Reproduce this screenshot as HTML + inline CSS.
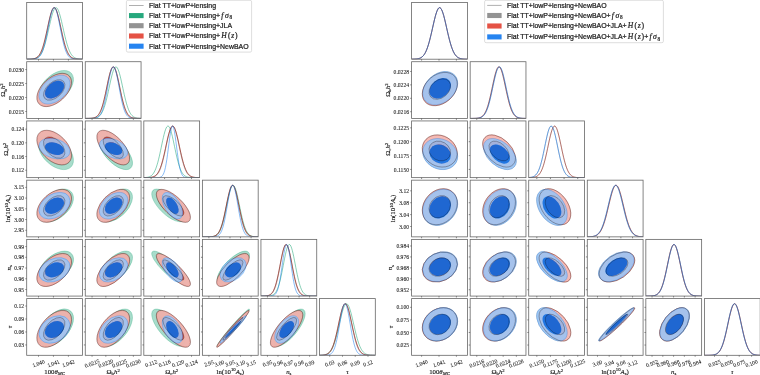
<!DOCTYPE html>
<html><head><meta charset="utf-8"><style>
html,body{margin:0;padding:0;background:#fff;width:760px;height:375px;overflow:hidden}
svg{display:block;font-family:"Liberation Serif",serif;will-change:transform}
.tl{font-size:5.6px;fill:#1a1a1a;stroke:#1a1a1a;stroke-width:0.08px}
.al{font-size:6.8px;fill:#1a1a1a;stroke:#1a1a1a;stroke-width:0.15px}
</style></head><body>
<svg width="760" height="375" viewBox="0 0 760 375">
<defs><clipPath id="c0_0_0"><rect x="26.7" y="2.5" width="55.8" height="56.7"/></clipPath>
<clipPath id="c0_1_0"><rect x="26.7" y="61.72" width="55.8" height="56.7"/></clipPath>
<clipPath id="c0_1_1"><rect x="85.26" y="61.72" width="55.8" height="56.7"/></clipPath>
<clipPath id="c0_2_0"><rect x="26.7" y="120.94" width="55.8" height="56.7"/></clipPath>
<clipPath id="c0_2_1"><rect x="85.26" y="120.94" width="55.8" height="56.7"/></clipPath>
<clipPath id="c0_2_2"><rect x="143.82" y="120.94" width="55.8" height="56.7"/></clipPath>
<clipPath id="c0_3_0"><rect x="26.7" y="180.16" width="55.8" height="56.7"/></clipPath>
<clipPath id="c0_3_1"><rect x="85.26" y="180.16" width="55.8" height="56.7"/></clipPath>
<clipPath id="c0_3_2"><rect x="143.82" y="180.16" width="55.8" height="56.7"/></clipPath>
<clipPath id="c0_3_3"><rect x="202.38" y="180.16" width="55.8" height="56.7"/></clipPath>
<clipPath id="c0_4_0"><rect x="26.7" y="239.38" width="55.8" height="56.7"/></clipPath>
<clipPath id="c0_4_1"><rect x="85.26" y="239.38" width="55.8" height="56.7"/></clipPath>
<clipPath id="c0_4_2"><rect x="143.82" y="239.38" width="55.8" height="56.7"/></clipPath>
<clipPath id="c0_4_3"><rect x="202.38" y="239.38" width="55.8" height="56.7"/></clipPath>
<clipPath id="c0_4_4"><rect x="260.94" y="239.38" width="55.8" height="56.7"/></clipPath>
<clipPath id="c0_5_0"><rect x="26.7" y="298.6" width="55.8" height="56.7"/></clipPath>
<clipPath id="c0_5_1"><rect x="85.26" y="298.6" width="55.8" height="56.7"/></clipPath>
<clipPath id="c0_5_2"><rect x="143.82" y="298.6" width="55.8" height="56.7"/></clipPath>
<clipPath id="c0_5_3"><rect x="202.38" y="298.6" width="55.8" height="56.7"/></clipPath>
<clipPath id="c0_5_4"><rect x="260.94" y="298.6" width="55.8" height="56.7"/></clipPath>
<clipPath id="c0_5_5"><rect x="319.5" y="298.6" width="55.8" height="56.7"/></clipPath>
<clipPath id="c1_0_0"><rect x="411.6" y="2.5" width="55.8" height="56.7"/></clipPath>
<clipPath id="c1_1_0"><rect x="411.6" y="61.72" width="55.8" height="56.7"/></clipPath>
<clipPath id="c1_1_1"><rect x="470.16" y="61.72" width="55.8" height="56.7"/></clipPath>
<clipPath id="c1_2_0"><rect x="411.6" y="120.94" width="55.8" height="56.7"/></clipPath>
<clipPath id="c1_2_1"><rect x="470.16" y="120.94" width="55.8" height="56.7"/></clipPath>
<clipPath id="c1_2_2"><rect x="528.72" y="120.94" width="55.8" height="56.7"/></clipPath>
<clipPath id="c1_3_0"><rect x="411.6" y="180.16" width="55.8" height="56.7"/></clipPath>
<clipPath id="c1_3_1"><rect x="470.16" y="180.16" width="55.8" height="56.7"/></clipPath>
<clipPath id="c1_3_2"><rect x="528.72" y="180.16" width="55.8" height="56.7"/></clipPath>
<clipPath id="c1_3_3"><rect x="587.28" y="180.16" width="55.8" height="56.7"/></clipPath>
<clipPath id="c1_4_0"><rect x="411.6" y="239.38" width="55.8" height="56.7"/></clipPath>
<clipPath id="c1_4_1"><rect x="470.16" y="239.38" width="55.8" height="56.7"/></clipPath>
<clipPath id="c1_4_2"><rect x="528.72" y="239.38" width="55.8" height="56.7"/></clipPath>
<clipPath id="c1_4_3"><rect x="587.28" y="239.38" width="55.8" height="56.7"/></clipPath>
<clipPath id="c1_4_4"><rect x="645.84" y="239.38" width="55.8" height="56.7"/></clipPath>
<clipPath id="c1_5_0"><rect x="411.6" y="298.6" width="55.8" height="56.7"/></clipPath>
<clipPath id="c1_5_1"><rect x="470.16" y="298.6" width="55.8" height="56.7"/></clipPath>
<clipPath id="c1_5_2"><rect x="528.72" y="298.6" width="55.8" height="56.7"/></clipPath>
<clipPath id="c1_5_3"><rect x="587.28" y="298.6" width="55.8" height="56.7"/></clipPath>
<clipPath id="c1_5_4"><rect x="645.84" y="298.6" width="55.8" height="56.7"/></clipPath>
<clipPath id="c1_5_5"><rect x="704.4" y="298.6" width="55.8" height="56.7"/></clipPath></defs>
<g clip-path="url(#c0_0_0)">
<polyline points="26.7,59.19 27.4,59.19 28.09,59.18 28.79,59.17 29.49,59.16 30.19,59.14 30.88,59.11 31.58,59.08 32.28,59.03 32.98,58.96 33.67,58.87 34.37,58.74 35.07,58.58 35.77,58.38 36.46,58.11 37.16,57.77 37.86,57.35 38.56,56.82 39.25,56.17 39.95,55.38 40.65,54.43 41.35,53.31 42.05,51.99 42.74,50.47 43.44,48.72 44.14,46.76 44.83,44.56 45.53,42.15 46.23,39.53 46.93,36.74 47.62,33.8 48.32,30.75 49.02,27.66 49.72,24.56 50.41,21.54 51.11,18.66 51.81,15.98 52.51,13.58 53.2,11.51 53.9,9.84 54.6,8.61 55.3,7.86 55.99,7.6 56.69,7.86 57.39,8.61 58.09,9.84 58.78,11.51 59.48,13.58 60.18,15.98 60.88,18.66 61.58,21.54 62.27,24.56 62.97,27.66 63.67,30.75 64.36,33.8 65.06,36.74 65.76,39.53 66.46,42.15 67.16,44.56 67.85,46.76 68.55,48.72 69.25,50.47 69.94,51.99 70.64,53.31 71.34,54.43 72.04,55.38 72.73,56.17 73.43,56.82 74.13,57.35 74.83,57.77 75.52,58.11 76.22,58.38 76.92,58.58 77.62,58.74 78.31,58.87 79.01,58.96 79.71,59.03 80.41,59.08 81.1,59.11 81.8,59.14 82.5,59.16" fill="none" stroke="#009966" stroke-width="0.8" stroke-opacity="0.6"/>
<polyline points="26.7,59.19 27.4,59.19 28.09,59.19 28.79,59.18 29.49,59.17 30.19,59.15 30.88,59.13 31.58,59.09 32.28,59.05 32.98,58.98 33.67,58.89 34.37,58.76 35.07,58.59 35.77,58.36 36.46,58.06 37.16,57.67 37.86,57.17 38.56,56.54 39.25,55.75 39.95,54.79 40.65,53.62 41.35,52.23 42.05,50.59 42.74,48.69 43.44,46.52 44.14,44.08 44.83,41.38 45.53,38.45 46.23,35.32 46.93,32.04 47.62,28.67 48.32,25.28 49.02,21.95 49.72,18.78 50.41,15.85 51.11,13.26 51.81,11.08 52.51,9.38 53.2,8.23 53.9,7.66 54.6,7.7 55.3,8.34 55.99,9.56 56.69,11.31 57.39,13.55 58.09,16.19 58.78,19.15 59.48,22.34 60.18,25.68 60.88,29.07 61.58,32.44 62.27,35.71 62.97,38.82 63.67,41.72 64.36,44.39 65.06,46.79 65.76,48.93 66.46,50.8 67.16,52.41 67.85,53.77 68.55,54.92 69.25,55.86 69.94,56.62 70.64,57.23 71.34,57.72 72.04,58.1 72.73,58.39 73.43,58.61 74.13,58.78 74.83,58.9 75.52,58.99 76.22,59.05 76.92,59.1 77.62,59.13 78.31,59.15 79.01,59.17 79.71,59.18 80.41,59.19 81.1,59.19 81.8,59.19 82.5,59.2" fill="none" stroke="#808080" stroke-width="0.8" stroke-opacity="0.5"/>
<polyline points="26.7,59.19 27.4,59.18 28.09,59.17 28.79,59.16 29.49,59.14 30.19,59.12 30.88,59.08 31.58,59.03 32.28,58.96 32.98,58.86 33.67,58.73 34.37,58.56 35.07,58.33 35.77,58.04 36.46,57.66 37.16,57.18 37.86,56.58 38.56,55.84 39.25,54.94 39.95,53.85 40.65,52.56 41.35,51.04 42.05,49.29 42.74,47.29 43.44,45.04 44.14,42.55 44.83,39.84 45.53,36.92 46.23,33.83 46.93,30.64 47.62,27.38 48.32,24.14 49.02,20.99 49.72,18 50.41,15.26 51.11,12.84 51.81,10.81 52.51,9.24 53.2,8.18 53.9,7.66 54.6,7.69 55.3,8.28 55.99,9.41 56.69,11.03 57.39,13.11 58.09,15.57 58.78,18.35 59.48,21.36 60.18,24.53 60.88,27.77 61.58,31.02 62.27,34.21 62.97,37.28 63.67,40.17 64.36,42.86 65.06,45.33 65.76,47.55 66.46,49.52 67.16,51.24 67.85,52.73 68.55,53.99 69.25,55.06 69.94,55.94 70.64,56.66 71.34,57.24 72.04,57.71 72.73,58.08 73.43,58.36 74.13,58.58 74.83,58.75 75.52,58.87 76.22,58.97 76.92,59.04 77.62,59.09 78.31,59.12 79.01,59.15 79.71,59.16 80.41,59.18 81.1,59.18 81.8,59.19 82.5,59.19" fill="none" stroke="#E03424" stroke-width="0.8" stroke-opacity="0.72"/>
<polyline points="26.7,59.19 27.4,59.18 28.09,59.17 28.79,59.16 29.49,59.14 30.19,59.12 30.88,59.08 31.58,59.03 32.28,58.96 32.98,58.86 33.67,58.73 34.37,58.56 35.07,58.33 35.77,58.04 36.46,57.66 37.16,57.18 37.86,56.58 38.56,55.84 39.25,54.94 39.95,53.85 40.65,52.56 41.35,51.04 42.05,49.29 42.74,47.29 43.44,45.04 44.14,42.55 44.83,39.84 45.53,36.92 46.23,33.83 46.93,30.64 47.62,27.38 48.32,24.14 49.02,20.99 49.72,18 50.41,15.26 51.11,12.84 51.81,10.81 52.51,9.24 53.2,8.18 53.9,7.66 54.6,7.69 55.3,8.28 55.99,9.41 56.69,11.03 57.39,13.11 58.09,15.57 58.78,18.35 59.48,21.36 60.18,24.53 60.88,27.77 61.58,31.02 62.27,34.21 62.97,37.28 63.67,40.17 64.36,42.86 65.06,45.33 65.76,47.55 66.46,49.52 67.16,51.24 67.85,52.73 68.55,53.99 69.25,55.06 69.94,55.94 70.64,56.66 71.34,57.24 72.04,57.71 72.73,58.08 73.43,58.36 74.13,58.58 74.83,58.75 75.52,58.87 76.22,58.97 76.92,59.04 77.62,59.09 78.31,59.12 79.01,59.15 79.71,59.16 80.41,59.18 81.1,59.18 81.8,59.19 82.5,59.19" fill="none" stroke="#000000" stroke-width="0.6" stroke-opacity="0.45"/>
<polyline points="26.7,59.2 27.4,59.2 28.09,59.2 28.79,59.19 29.49,59.19 30.19,59.18 30.88,59.17 31.58,59.16 32.28,59.13 32.98,59.1 33.67,59.04 34.37,58.97 35.07,58.87 35.77,58.72 36.46,58.52 37.16,58.26 37.86,57.9 38.56,57.43 39.25,56.83 39.95,56.06 40.65,55.09 41.35,53.91 42.05,52.47 42.74,50.76 43.44,48.75 44.14,46.43 44.83,43.81 45.53,40.9 46.23,37.73 46.93,34.34 47.62,30.79 48.32,27.18 49.02,23.59 49.72,20.12 50.41,16.88 51.11,13.99 51.81,11.53 52.51,9.62 53.2,8.31 53.9,7.67 54.6,7.71 55.3,8.44 55.99,9.82 56.69,11.8 57.39,14.31 58.09,17.25 58.78,20.52 59.48,24.01 60.18,27.62 60.88,31.22 61.58,34.75 62.27,38.12 62.97,41.26 63.67,44.14 64.36,46.73 65.06,49.01 65.76,50.98 66.46,52.66 67.16,54.06 67.85,55.22 68.55,56.16 69.25,56.91 69.94,57.49 70.64,57.95 71.34,58.29 72.04,58.55 72.73,58.74 73.43,58.88 74.13,58.98 74.83,59.05 75.52,59.1 76.22,59.13 76.92,59.16 77.62,59.17 78.31,59.18 79.01,59.19 79.71,59.19 80.41,59.2 81.1,59.2 81.8,59.2 82.5,59.2" fill="none" stroke="#006FED" stroke-width="0.8" stroke-opacity="0.6"/>
</g>
<rect x="26.7" y="2.5" width="55.8" height="56.7" fill="none" stroke="#666" stroke-width="0.8"/>
<line x1="38.5" y1="59.2" x2="38.5" y2="60.6" stroke="#555" stroke-width="0.7"/>
<line x1="53.45" y1="59.2" x2="53.45" y2="60.6" stroke="#555" stroke-width="0.7"/>
<line x1="68.4" y1="59.2" x2="68.4" y2="60.6" stroke="#555" stroke-width="0.7"/>
<g clip-path="url(#c0_1_0)">
<path d="M35.2 87.23a20.79 12.46 0 1 0 41.58 0a20.79 12.46 0 1 0 -41.58 0ZM43.52 87.23a12.47 7.34 0 1 0 24.95 0a12.47 7.34 0 1 0 -24.95 0Z" fill-rule="evenodd" transform="rotate(137.45 55.99 87.23)" fill="#99d6c2" fill-opacity="0.85"/>
<ellipse cx="55.99" cy="87.23" rx="12.82" ry="7.69" transform="rotate(137.45 55.99 87.23)" fill="#009966" fill-opacity="0.85"/>
<ellipse cx="55.99" cy="87.23" rx="20.79" ry="12.46" transform="rotate(137.45 55.99 87.23)" fill="none" stroke="#009966" stroke-width="0.4" stroke-opacity="0.6"/>
<path d="M34.57 89.96a19.64 11.77 0 1 0 39.28 0a19.64 11.77 0 1 0 -39.28 0ZM42.45 89.96a11.76 6.91 0 1 0 23.53 0a11.76 6.91 0 1 0 -23.53 0Z" fill-rule="evenodd" transform="rotate(137.5 54.21 89.96)" fill="#cccccc" fill-opacity="0.85"/>
<ellipse cx="54.21" cy="89.96" rx="12.11" ry="7.26" transform="rotate(137.5 54.21 89.96)" fill="#808080" fill-opacity="0.85"/>
<ellipse cx="54.21" cy="89.96" rx="19.64" ry="11.77" transform="rotate(137.5 54.21 89.96)" fill="none" stroke="#808080" stroke-width="0.4" stroke-opacity="0.6"/>
<path d="M33.75 89.96a20.46 12.26 0 1 0 40.92 0a20.46 12.26 0 1 0 -40.92 0ZM41.94 89.96a12.27 7.21 0 1 0 24.54 0a12.27 7.21 0 1 0 -24.54 0Z" fill-rule="evenodd" transform="rotate(137.5 54.21 89.96)" fill="#f3aea7" fill-opacity="0.85"/>
<ellipse cx="54.21" cy="89.96" rx="12.62" ry="7.56" transform="rotate(137.5 54.21 89.96)" fill="#E03424" fill-opacity="0.85"/>
<ellipse cx="54.21" cy="89.96" rx="20.46" ry="12.26" transform="rotate(137.5 54.21 89.96)" fill="none" stroke="#E03424" stroke-width="0.4" stroke-opacity="0.6"/>
<path d="M36.56 89.62a17.92 11.38 0 1 0 35.85 0a17.92 11.38 0 1 0 -35.85 0ZM43.78 89.62a10.71 6.67 0 1 0 21.41 0a10.71 6.67 0 1 0 -21.41 0Z" fill-rule="evenodd" transform="rotate(140.12 54.49 89.62)" fill="#99c5f8" fill-opacity="0.85"/>
<ellipse cx="54.49" cy="89.62" rx="11.06" ry="7.02" transform="rotate(140.12 54.49 89.62)" fill="#006FED" fill-opacity="0.85"/>
<ellipse cx="54.49" cy="89.62" rx="17.92" ry="11.38" transform="rotate(140.12 54.49 89.62)" fill="none" stroke="#006FED" stroke-width="0.4" stroke-opacity="0.6"/>
<ellipse cx="54.21" cy="89.96" rx="20.66" ry="12.38" transform="rotate(137.5 54.21 89.96)" fill="none" stroke="#000000" stroke-width="0.45" stroke-opacity="0.6"/>
<ellipse cx="54.21" cy="89.96" rx="12.74" ry="7.64" transform="rotate(137.5 54.21 89.96)" fill="none" stroke="#000000" stroke-width="0.45" stroke-opacity="0.6"/>
</g>
<rect x="26.7" y="61.72" width="55.8" height="56.7" fill="none" stroke="#666" stroke-width="0.8"/>
<line x1="38.5" y1="118.42" x2="38.5" y2="119.82" stroke="#555" stroke-width="0.7"/>
<line x1="53.45" y1="118.42" x2="53.45" y2="119.82" stroke="#555" stroke-width="0.7"/>
<line x1="68.4" y1="118.42" x2="68.4" y2="119.82" stroke="#555" stroke-width="0.7"/>
<line x1="25.3" y1="111.51" x2="26.7" y2="111.51" stroke="#555" stroke-width="0.7"/>
<line x1="25.3" y1="97.52" x2="26.7" y2="97.52" stroke="#555" stroke-width="0.7"/>
<line x1="25.3" y1="83.53" x2="26.7" y2="83.53" stroke="#555" stroke-width="0.7"/>
<line x1="25.3" y1="69.54" x2="26.7" y2="69.54" stroke="#555" stroke-width="0.7"/>
<text class="tl" x="24.1" y="113.61" text-anchor="end">0.0215</text>
<text class="tl" x="24.1" y="99.62" text-anchor="end">0.0220</text>
<text class="tl" x="24.1" y="85.63" text-anchor="end">0.0225</text>
<text class="tl" x="24.1" y="71.64" text-anchor="end">0.0230</text>
<g clip-path="url(#c0_1_1)">
<polyline points="85.26,118.42 85.96,118.42 86.66,118.42 87.35,118.41 88.05,118.41 88.75,118.41 89.45,118.4 90.14,118.39 90.84,118.37 91.54,118.35 92.23,118.32 92.93,118.28 93.63,118.22 94.33,118.14 95.03,118.03 95.72,117.88 96.42,117.69 97.12,117.43 97.81,117.1 98.51,116.68 99.21,116.15 99.91,115.49 100.61,114.69 101.3,113.7 102,112.53 102.7,111.14 103.4,109.52 104.09,107.66 104.79,105.55 105.49,103.2 106.19,100.6 106.88,97.79 107.58,94.8 108.28,91.66 108.98,88.43 109.67,85.17 110.37,81.96 111.07,78.87 111.77,75.98 112.46,73.37 113.16,71.11 113.86,69.28 114.56,67.93 115.25,67.1 115.95,66.82 116.65,67.1 117.34,67.93 118.04,69.28 118.74,71.11 119.44,73.37 120.14,75.98 120.83,78.87 121.53,81.96 122.23,85.17 122.93,88.43 123.62,91.66 124.32,94.8 125.02,97.79 125.72,100.6 126.41,103.2 127.11,105.55 127.81,107.66 128.5,109.52 129.2,111.14 129.9,112.53 130.6,113.7 131.3,114.69 131.99,115.49 132.69,116.15 133.39,116.68 134.09,117.1 134.78,117.43 135.48,117.69 136.18,117.88 136.88,118.03 137.57,118.14 138.27,118.22 138.97,118.28 139.66,118.32 140.36,118.35 141.06,118.37" fill="none" stroke="#009966" stroke-width="0.8" stroke-opacity="0.6"/>
<polyline points="85.26,118.42 85.96,118.42 86.66,118.41 87.35,118.41 88.05,118.41 88.75,118.4 89.45,118.39 90.14,118.37 90.84,118.34 91.54,118.31 92.23,118.25 92.93,118.18 93.63,118.07 94.33,117.93 95.03,117.73 95.72,117.46 96.42,117.12 97.12,116.66 97.81,116.08 98.51,115.35 99.21,114.43 99.91,113.31 100.61,111.96 101.3,110.35 102,108.46 102.7,106.29 103.4,103.83 104.09,101.09 104.79,98.09 105.49,94.88 106.19,91.49 106.88,88.01 107.58,84.5 108.28,81.06 108.98,77.79 109.67,74.79 110.37,72.15 111.07,69.97 111.77,68.32 112.46,67.26 113.16,66.83 113.86,67.05 114.56,67.91 115.25,69.38 115.95,71.4 116.65,73.9 117.34,76.8 118.04,79.99 118.74,83.39 119.44,86.88 120.14,90.38 120.83,93.81 121.53,97.09 122.23,100.16 122.93,102.98 123.62,105.53 124.32,107.8 125.02,109.78 125.72,111.47 126.41,112.91 127.11,114.1 127.81,115.08 128.5,115.86 129.2,116.49 129.9,116.98 130.6,117.36 131.3,117.65 131.99,117.87 132.69,118.03 133.39,118.15 134.09,118.23 134.78,118.29 135.48,118.33 136.18,118.36 136.88,118.38 137.57,118.4 138.27,118.4 138.97,118.41 139.66,118.41 140.36,118.42 141.06,118.42" fill="none" stroke="#808080" stroke-width="0.8" stroke-opacity="0.5"/>
<polyline points="85.26,118.42 85.96,118.41 86.66,118.41 87.35,118.4 88.05,118.39 88.75,118.38 89.45,118.36 90.14,118.33 90.84,118.29 91.54,118.24 92.23,118.16 92.93,118.05 93.63,117.9 94.33,117.71 95.03,117.45 95.72,117.11 96.42,116.68 97.12,116.13 97.81,115.44 98.51,114.59 99.21,113.55 99.91,112.3 100.61,110.82 101.3,109.08 102,107.09 102.7,104.83 103.4,102.31 104.09,99.54 104.79,96.55 105.49,93.38 106.19,90.08 106.88,86.72 107.58,83.37 108.28,80.11 108.98,77.03 109.67,74.21 110.37,71.76 111.07,69.73 111.77,68.2 112.46,67.22 113.16,66.83 113.86,67.03 114.56,67.83 115.25,69.18 115.95,71.06 116.65,73.38 117.34,76.09 118.04,79.1 118.74,82.31 119.44,85.64 120.14,89.01 120.83,92.34 121.53,95.56 122.23,98.61 122.93,101.45 123.62,104.05 124.32,106.4 125.02,108.48 125.72,110.29 126.41,111.85 127.11,113.17 127.81,114.28 128.5,115.18 129.2,115.92 129.9,116.52 130.6,116.99 131.3,117.35 131.99,117.63 132.69,117.85 133.39,118.01 134.09,118.13 134.78,118.21 135.48,118.28 136.18,118.32 136.88,118.35 137.57,118.38 138.27,118.39 138.97,118.4 139.66,118.41 140.36,118.41 141.06,118.41" fill="none" stroke="#E03424" stroke-width="0.8" stroke-opacity="0.72"/>
<polyline points="85.26,118.42 85.96,118.41 86.66,118.41 87.35,118.4 88.05,118.39 88.75,118.38 89.45,118.36 90.14,118.33 90.84,118.29 91.54,118.24 92.23,118.16 92.93,118.05 93.63,117.9 94.33,117.71 95.03,117.45 95.72,117.11 96.42,116.68 97.12,116.13 97.81,115.44 98.51,114.59 99.21,113.55 99.91,112.3 100.61,110.82 101.3,109.08 102,107.09 102.7,104.83 103.4,102.31 104.09,99.54 104.79,96.55 105.49,93.38 106.19,90.08 106.88,86.72 107.58,83.37 108.28,80.11 108.98,77.03 109.67,74.21 110.37,71.76 111.07,69.73 111.77,68.2 112.46,67.22 113.16,66.83 113.86,67.03 114.56,67.83 115.25,69.18 115.95,71.06 116.65,73.38 117.34,76.09 118.04,79.1 118.74,82.31 119.44,85.64 120.14,89.01 120.83,92.34 121.53,95.56 122.23,98.61 122.93,101.45 123.62,104.05 124.32,106.4 125.02,108.48 125.72,110.29 126.41,111.85 127.11,113.17 127.81,114.28 128.5,115.18 129.2,115.92 129.9,116.52 130.6,116.99 131.3,117.35 131.99,117.63 132.69,117.85 133.39,118.01 134.09,118.13 134.78,118.21 135.48,118.28 136.18,118.32 136.88,118.35 137.57,118.38 138.27,118.39 138.97,118.4 139.66,118.41 140.36,118.41 141.06,118.41" fill="none" stroke="#000000" stroke-width="0.6" stroke-opacity="0.45"/>
<polyline points="85.26,118.42 85.96,118.42 86.66,118.42 87.35,118.42 88.05,118.42 88.75,118.42 89.45,118.41 90.14,118.41 90.84,118.4 91.54,118.39 92.23,118.37 92.93,118.34 93.63,118.29 94.33,118.23 95.03,118.14 95.72,118 96.42,117.81 97.12,117.55 97.81,117.2 98.51,116.72 99.21,116.1 99.91,115.29 100.61,114.27 101.3,113 102,111.44 102.7,109.56 103.4,107.36 104.09,104.8 104.79,101.91 105.49,98.71 106.19,95.23 106.88,91.54 107.58,87.74 108.28,83.91 108.98,80.19 109.67,76.7 110.37,73.57 111.07,70.92 111.77,68.87 112.46,67.49 113.16,66.86 113.86,67 114.56,67.91 115.25,69.53 115.95,71.81 116.65,74.65 117.34,77.92 118.04,81.51 118.74,85.29 119.44,89.12 120.14,92.89 120.83,96.51 121.53,99.9 122.23,102.99 122.93,105.76 123.62,108.19 124.32,110.28 125.02,112.03 125.72,113.49 126.41,114.66 127.11,115.6 127.81,116.34 128.5,116.91 129.2,117.34 129.9,117.65 130.6,117.89 131.3,118.06 131.99,118.17 132.69,118.26 133.39,118.31 134.09,118.35 134.78,118.38 135.48,118.39 136.18,118.4 136.88,118.41 137.57,118.41 138.27,118.42 138.97,118.42 139.66,118.42 140.36,118.42 141.06,118.42" fill="none" stroke="#006FED" stroke-width="0.8" stroke-opacity="0.6"/>
</g>
<rect x="85.26" y="61.72" width="55.8" height="56.7" fill="none" stroke="#666" stroke-width="0.8"/>
<line x1="92.06" y1="118.42" x2="92.06" y2="119.82" stroke="#555" stroke-width="0.7"/>
<line x1="105.83" y1="118.42" x2="105.83" y2="119.82" stroke="#555" stroke-width="0.7"/>
<line x1="119.59" y1="118.42" x2="119.59" y2="119.82" stroke="#555" stroke-width="0.7"/>
<line x1="133.36" y1="118.42" x2="133.36" y2="119.82" stroke="#555" stroke-width="0.7"/>
<g clip-path="url(#c0_2_0)">
<path d="M35.27 152.69a20.73 12.75 0 1 0 41.46 0a20.73 12.75 0 1 0 -41.46 0ZM43.56 152.69a12.43 7.52 0 1 0 24.87 0a12.43 7.52 0 1 0 -24.87 0Z" fill-rule="evenodd" transform="rotate(-137.03 55.99 152.69)" fill="#99d6c2" fill-opacity="0.85"/>
<ellipse cx="55.99" cy="152.69" rx="12.78" ry="7.87" transform="rotate(-137.03 55.99 152.69)" fill="#009966" fill-opacity="0.85"/>
<ellipse cx="55.99" cy="152.69" rx="20.73" ry="12.75" transform="rotate(-137.03 55.99 152.69)" fill="none" stroke="#009966" stroke-width="0.4" stroke-opacity="0.6"/>
<path d="M34.32 147.59a19.89 12.25 0 1 0 39.79 0a19.89 12.25 0 1 0 -39.79 0ZM42.29 147.59a11.92 7.21 0 1 0 23.84 0a11.92 7.21 0 1 0 -23.84 0Z" fill-rule="evenodd" transform="rotate(45 54.21 147.59)" fill="#cccccc" fill-opacity="0.85"/>
<ellipse cx="54.21" cy="147.59" rx="12.27" ry="7.56" transform="rotate(45 54.21 147.59)" fill="#808080" fill-opacity="0.85"/>
<ellipse cx="54.21" cy="147.59" rx="19.89" ry="12.25" transform="rotate(45 54.21 147.59)" fill="none" stroke="#808080" stroke-width="0.4" stroke-opacity="0.6"/>
<path d="M33.49 147.59a20.72 12.76 0 1 0 41.44 0a20.72 12.76 0 1 0 -41.44 0ZM41.78 147.59a12.43 7.52 0 1 0 24.86 0a12.43 7.52 0 1 0 -24.86 0Z" fill-rule="evenodd" transform="rotate(45 54.21 147.59)" fill="#f3aea7" fill-opacity="0.85"/>
<ellipse cx="54.21" cy="147.59" rx="12.78" ry="7.87" transform="rotate(45 54.21 147.59)" fill="#E03424" fill-opacity="0.85"/>
<ellipse cx="54.21" cy="147.59" rx="20.72" ry="12.76" transform="rotate(45 54.21 147.59)" fill="none" stroke="#E03424" stroke-width="0.4" stroke-opacity="0.6"/>
<path d="M38.48 148.61a16.01 9.72 0 1 0 32.02 0a16.01 9.72 0 1 0 -32.02 0ZM44.96 148.61a9.52 5.64 0 1 0 19.05 0a9.52 5.64 0 1 0 -19.05 0Z" fill-rule="evenodd" transform="rotate(-162.95 54.49 148.61)" fill="#99c5f8" fill-opacity="0.85"/>
<ellipse cx="54.49" cy="148.61" rx="9.87" ry="5.99" transform="rotate(-162.95 54.49 148.61)" fill="#006FED" fill-opacity="0.85"/>
<ellipse cx="54.49" cy="148.61" rx="16.01" ry="9.72" transform="rotate(-162.95 54.49 148.61)" fill="none" stroke="#006FED" stroke-width="0.4" stroke-opacity="0.6"/>
<ellipse cx="54.21" cy="147.59" rx="20.93" ry="12.89" transform="rotate(45 54.21 147.59)" fill="none" stroke="#000000" stroke-width="0.45" stroke-opacity="0.6"/>
<ellipse cx="54.21" cy="147.59" rx="12.91" ry="7.95" transform="rotate(45 54.21 147.59)" fill="none" stroke="#000000" stroke-width="0.45" stroke-opacity="0.6"/>
</g>
<rect x="26.7" y="120.94" width="55.8" height="56.7" fill="none" stroke="#666" stroke-width="0.8"/>
<line x1="38.5" y1="177.64" x2="38.5" y2="179.04" stroke="#555" stroke-width="0.7"/>
<line x1="53.45" y1="177.64" x2="53.45" y2="179.04" stroke="#555" stroke-width="0.7"/>
<line x1="68.4" y1="177.64" x2="68.4" y2="179.04" stroke="#555" stroke-width="0.7"/>
<line x1="25.3" y1="170.22" x2="26.7" y2="170.22" stroke="#555" stroke-width="0.7"/>
<line x1="25.3" y1="156.54" x2="26.7" y2="156.54" stroke="#555" stroke-width="0.7"/>
<line x1="25.3" y1="142.85" x2="26.7" y2="142.85" stroke="#555" stroke-width="0.7"/>
<line x1="25.3" y1="129.17" x2="26.7" y2="129.17" stroke="#555" stroke-width="0.7"/>
<text class="tl" x="24.1" y="172.32" text-anchor="end">0.112</text>
<text class="tl" x="24.1" y="158.64" text-anchor="end">0.116</text>
<text class="tl" x="24.1" y="144.95" text-anchor="end">0.120</text>
<text class="tl" x="24.1" y="131.27" text-anchor="end">0.124</text>
<g clip-path="url(#c0_2_1)">
<path d="M94.65 152.69a21.3 10.31 0 1 0 42.59 0a21.3 10.31 0 1 0 -42.59 0ZM103.17 152.69a12.78 6.01 0 1 0 25.57 0a12.78 6.01 0 1 0 -25.57 0Z" fill-rule="evenodd" transform="rotate(46.12 115.95 152.69)" fill="#99d6c2" fill-opacity="0.85"/>
<ellipse cx="115.95" cy="152.69" rx="13.13" ry="6.36" transform="rotate(46.12 115.95 152.69)" fill="#009966" fill-opacity="0.85"/>
<ellipse cx="115.95" cy="152.69" rx="21.3" ry="10.31" transform="rotate(46.12 115.95 152.69)" fill="none" stroke="#009966" stroke-width="0.4" stroke-opacity="0.6"/>
<path d="M92.81 147.59a20.46 9.88 0 1 0 40.92 0a20.46 9.88 0 1 0 -40.92 0ZM101 147.59a12.27 5.75 0 1 0 24.54 0a12.27 5.75 0 1 0 -24.54 0Z" fill-rule="evenodd" transform="rotate(47.64 113.27 147.59)" fill="#cccccc" fill-opacity="0.85"/>
<ellipse cx="113.27" cy="147.59" rx="12.62" ry="6.1" transform="rotate(47.64 113.27 147.59)" fill="#808080" fill-opacity="0.85"/>
<ellipse cx="113.27" cy="147.59" rx="20.46" ry="9.88" transform="rotate(47.64 113.27 147.59)" fill="none" stroke="#808080" stroke-width="0.4" stroke-opacity="0.6"/>
<path d="M91.96 147.59a21.31 10.3 0 1 0 42.63 0a21.31 10.3 0 1 0 -42.63 0ZM100.48 147.59a12.8 6 0 1 0 25.59 0a12.8 6 0 1 0 -25.59 0Z" fill-rule="evenodd" transform="rotate(47.64 113.27 147.59)" fill="#f3aea7" fill-opacity="0.85"/>
<ellipse cx="113.27" cy="147.59" rx="13.15" ry="6.35" transform="rotate(47.64 113.27 147.59)" fill="#E03424" fill-opacity="0.85"/>
<ellipse cx="113.27" cy="147.59" rx="21.31" ry="10.3" transform="rotate(47.64 113.27 147.59)" fill="none" stroke="#E03424" stroke-width="0.4" stroke-opacity="0.6"/>
<path d="M98.5 148.61a15.1 9.05 0 1 0 30.21 0a15.1 9.05 0 1 0 -30.21 0ZM104.64 148.61a8.97 5.23 0 1 0 17.93 0a8.97 5.23 0 1 0 -17.93 0Z" fill-rule="evenodd" transform="rotate(-154.87 113.61 148.61)" fill="#99c5f8" fill-opacity="0.85"/>
<ellipse cx="113.61" cy="148.61" rx="9.32" ry="5.58" transform="rotate(-154.87 113.61 148.61)" fill="#006FED" fill-opacity="0.85"/>
<ellipse cx="113.61" cy="148.61" rx="15.1" ry="9.05" transform="rotate(-154.87 113.61 148.61)" fill="none" stroke="#006FED" stroke-width="0.4" stroke-opacity="0.6"/>
<ellipse cx="113.27" cy="147.59" rx="21.53" ry="10.4" transform="rotate(47.64 113.27 147.59)" fill="none" stroke="#000000" stroke-width="0.45" stroke-opacity="0.6"/>
<ellipse cx="113.27" cy="147.59" rx="13.28" ry="6.41" transform="rotate(47.64 113.27 147.59)" fill="none" stroke="#000000" stroke-width="0.45" stroke-opacity="0.6"/>
</g>
<rect x="85.26" y="120.94" width="55.8" height="56.7" fill="none" stroke="#666" stroke-width="0.8"/>
<line x1="92.06" y1="177.64" x2="92.06" y2="179.04" stroke="#555" stroke-width="0.7"/>
<line x1="105.83" y1="177.64" x2="105.83" y2="179.04" stroke="#555" stroke-width="0.7"/>
<line x1="119.59" y1="177.64" x2="119.59" y2="179.04" stroke="#555" stroke-width="0.7"/>
<line x1="133.36" y1="177.64" x2="133.36" y2="179.04" stroke="#555" stroke-width="0.7"/>
<line x1="83.86" y1="170.22" x2="85.26" y2="170.22" stroke="#555" stroke-width="0.7"/>
<line x1="83.86" y1="156.54" x2="85.26" y2="156.54" stroke="#555" stroke-width="0.7"/>
<line x1="83.86" y1="142.85" x2="85.26" y2="142.85" stroke="#555" stroke-width="0.7"/>
<line x1="83.86" y1="129.17" x2="85.26" y2="129.17" stroke="#555" stroke-width="0.7"/>
<g clip-path="url(#c0_2_2)">
<polyline points="143.82,177.59 144.52,177.56 145.22,177.52 145.91,177.47 146.61,177.4 147.31,177.3 148,177.16 148.7,176.98 149.4,176.74 150.1,176.43 150.79,176.03 151.49,175.51 152.19,174.87 152.89,174.08 153.58,173.1 154.28,171.93 154.98,170.54 155.68,168.9 156.38,167.01 157.07,164.87 157.77,162.46 158.47,159.8 159.16,156.91 159.86,153.83 160.56,150.6 161.26,147.28 161.95,143.94 162.65,140.66 163.35,137.52 164.05,134.61 164.75,132.01 165.44,129.8 166.14,128.06 166.84,126.83 167.53,126.16 168.23,126.08 168.93,126.58 169.63,127.66 170.32,129.26 171.02,131.35 171.72,133.85 172.42,136.68 173.11,139.76 173.81,143.01 174.51,146.34 175.21,149.68 175.9,152.94 176.6,156.06 177.3,159.01 178,161.74 178.69,164.22 179.39,166.44 180.09,168.4 180.79,170.1 181.48,171.56 182.18,172.8 182.88,173.82 183.58,174.67 184.27,175.35 184.97,175.89 185.67,176.33 186.37,176.66 187.06,176.92 187.76,177.12 188.46,177.26 189.16,177.37 189.85,177.45 190.55,177.51 191.25,177.55 191.95,177.58 192.64,177.6 193.34,177.61 194.04,177.62 194.74,177.63 195.44,177.63 196.13,177.64 196.83,177.64 197.53,177.64 198.22,177.64 198.92,177.64 199.62,177.64" fill="none" stroke="#009966" stroke-width="0.8" stroke-opacity="0.6"/>
<polyline points="143.82,177.64 144.52,177.64 145.22,177.63 145.91,177.63 146.61,177.62 147.31,177.62 148,177.6 148.7,177.58 149.4,177.56 150.1,177.52 150.79,177.47 151.49,177.39 152.19,177.29 152.89,177.15 153.58,176.96 154.28,176.72 154.98,176.39 155.68,175.98 156.38,175.45 157.07,174.79 157.77,173.96 158.47,172.96 159.16,171.75 159.86,170.31 160.56,168.63 161.26,166.69 161.95,164.48 162.65,162 163.35,159.28 164.05,156.34 164.75,153.2 165.44,149.92 166.14,146.57 166.84,143.21 167.53,139.93 168.23,136.82 168.93,133.95 169.63,131.42 170.32,129.31 171.02,127.68 171.72,126.59 172.42,126.08 173.11,126.17 173.81,126.84 174.51,128.08 175.21,129.85 175.9,132.09 176.6,134.72 177.3,137.67 178,140.84 178.69,144.15 179.39,147.51 180.09,150.85 180.79,154.09 181.48,157.18 182.18,160.07 182.88,162.72 183.58,165.12 184.27,167.26 184.97,169.13 185.67,170.74 186.37,172.11 187.06,173.26 187.76,174.21 188.46,174.99 189.16,175.61 189.85,176.11 190.55,176.49 191.25,176.79 191.95,177.02 192.64,177.19 193.34,177.32 194.04,177.42 194.74,177.48 195.44,177.53 196.13,177.57 196.83,177.59 197.53,177.61 198.22,177.62 198.92,177.63 199.62,177.63" fill="none" stroke="#808080" stroke-width="0.8" stroke-opacity="0.5"/>
<polyline points="143.82,177.63 144.52,177.63 145.22,177.63 145.91,177.62 146.61,177.61 147.31,177.6 148,177.57 148.7,177.55 149.4,177.5 150.1,177.45 150.79,177.37 151.49,177.26 152.19,177.12 152.89,176.93 153.58,176.69 154.28,176.37 154.98,175.97 155.68,175.47 156.38,174.83 157.07,174.06 157.77,173.12 158.47,171.99 159.16,170.66 159.86,169.1 160.56,167.31 161.26,165.27 161.95,162.99 162.65,160.47 163.35,157.73 164.05,154.81 164.75,151.72 165.44,148.54 166.14,145.31 166.84,142.1 167.53,139 168.23,136.06 168.93,133.38 169.63,131.02 170.32,129.06 171.02,127.55 171.72,126.55 172.42,126.08 173.11,126.16 173.81,126.78 174.51,127.93 175.21,129.56 175.9,131.64 176.6,134.1 177.3,136.86 178,139.85 178.69,143 179.39,146.22 180.09,149.44 180.79,152.6 181.48,155.64 182.18,158.52 182.88,161.2 183.58,163.65 184.27,165.87 184.97,167.83 185.67,169.56 186.37,171.05 187.06,172.33 187.76,173.4 188.46,174.29 189.16,175.02 189.85,175.62 190.55,176.09 191.25,176.47 191.95,176.76 192.64,176.99 193.34,177.16 194.04,177.3 194.74,177.39 195.44,177.46 196.13,177.52 196.83,177.55 197.53,177.58 198.22,177.6 198.92,177.61 199.62,177.62" fill="none" stroke="#E03424" stroke-width="0.8" stroke-opacity="0.72"/>
<polyline points="143.82,177.63 144.52,177.63 145.22,177.63 145.91,177.62 146.61,177.61 147.31,177.6 148,177.57 148.7,177.55 149.4,177.5 150.1,177.45 150.79,177.37 151.49,177.26 152.19,177.12 152.89,176.93 153.58,176.69 154.28,176.37 154.98,175.97 155.68,175.47 156.38,174.83 157.07,174.06 157.77,173.12 158.47,171.99 159.16,170.66 159.86,169.1 160.56,167.31 161.26,165.27 161.95,162.99 162.65,160.47 163.35,157.73 164.05,154.81 164.75,151.72 165.44,148.54 166.14,145.31 166.84,142.1 167.53,139 168.23,136.06 168.93,133.38 169.63,131.02 170.32,129.06 171.02,127.55 171.72,126.55 172.42,126.08 173.11,126.16 173.81,126.78 174.51,127.93 175.21,129.56 175.9,131.64 176.6,134.1 177.3,136.86 178,139.85 178.69,143 179.39,146.22 180.09,149.44 180.79,152.6 181.48,155.64 182.18,158.52 182.88,161.2 183.58,163.65 184.27,165.87 184.97,167.83 185.67,169.56 186.37,171.05 187.06,172.33 187.76,173.4 188.46,174.29 189.16,175.02 189.85,175.62 190.55,176.09 191.25,176.47 191.95,176.76 192.64,176.99 193.34,177.16 194.04,177.3 194.74,177.39 195.44,177.46 196.13,177.52 196.83,177.55 197.53,177.58 198.22,177.6 198.92,177.61 199.62,177.62" fill="none" stroke="#000000" stroke-width="0.6" stroke-opacity="0.45"/>
<polyline points="143.82,177.64 144.52,177.64 145.22,177.64 145.91,177.64 146.61,177.64 147.31,177.64 148,177.64 148.7,177.64 149.4,177.64 150.1,177.64 150.79,177.64 151.49,177.64 152.19,177.64 152.89,177.64 153.58,177.64 154.28,177.64 154.98,177.64 155.68,177.63 156.38,177.63 157.07,177.62 157.77,177.59 158.47,177.55 159.16,177.47 159.86,177.34 160.56,177.11 161.26,176.76 161.95,176.2 162.65,175.37 163.35,174.17 164.05,172.5 164.75,170.26 165.44,167.35 166.14,163.74 166.84,159.44 167.53,154.53 168.23,149.2 168.93,143.71 169.63,138.38 170.32,133.61 171.02,129.77 171.72,127.18 172.42,126.07 173.11,126.55 173.81,128.57 174.51,131.95 175.21,136.39 175.9,141.54 176.6,147.01 177.3,152.44 178,157.54 178.69,162.1 179.39,165.99 180.09,169.18 180.79,171.68 181.48,173.57 182.18,174.94 182.88,175.91 183.58,176.56 184.27,176.99 184.97,177.26 185.67,177.42 186.37,177.52 187.06,177.58 187.76,177.61 188.46,177.62 189.16,177.63 189.85,177.64 190.55,177.64 191.25,177.64 191.95,177.64 192.64,177.64 193.34,177.64 194.04,177.64 194.74,177.64 195.44,177.64 196.13,177.64 196.83,177.64 197.53,177.64 198.22,177.64 198.92,177.64 199.62,177.64" fill="none" stroke="#006FED" stroke-width="0.8" stroke-opacity="0.6"/>
</g>
<rect x="143.82" y="120.94" width="55.8" height="56.7" fill="none" stroke="#666" stroke-width="0.8"/>
<line x1="151.12" y1="177.64" x2="151.12" y2="179.04" stroke="#555" stroke-width="0.7"/>
<line x1="164.59" y1="177.64" x2="164.59" y2="179.04" stroke="#555" stroke-width="0.7"/>
<line x1="178.05" y1="177.64" x2="178.05" y2="179.04" stroke="#555" stroke-width="0.7"/>
<line x1="191.52" y1="177.64" x2="191.52" y2="179.04" stroke="#555" stroke-width="0.7"/>
<g clip-path="url(#c0_3_0)">
<path d="M35.57 205.39a20.42 12.52 0 1 0 40.85 0a20.42 12.52 0 1 0 -40.85 0ZM43.75 205.39a12.25 7.37 0 1 0 24.49 0a12.25 7.37 0 1 0 -24.49 0Z" fill-rule="evenodd" transform="rotate(139.13 55.99 205.39)" fill="#99d6c2" fill-opacity="0.85"/>
<ellipse cx="55.99" cy="205.39" rx="12.6" ry="7.72" transform="rotate(139.13 55.99 205.39)" fill="#009966" fill-opacity="0.85"/>
<ellipse cx="55.99" cy="205.39" rx="20.42" ry="12.52" transform="rotate(139.13 55.99 205.39)" fill="none" stroke="#009966" stroke-width="0.4" stroke-opacity="0.6"/>
<path d="M34.78 205.85a19.43 11.94 0 1 0 38.87 0a19.43 11.94 0 1 0 -38.87 0ZM42.57 205.85a11.64 7.01 0 1 0 23.27 0a11.64 7.01 0 1 0 -23.27 0Z" fill-rule="evenodd" transform="rotate(138.15 54.21 205.85)" fill="#cccccc" fill-opacity="0.85"/>
<ellipse cx="54.21" cy="205.85" rx="11.99" ry="7.36" transform="rotate(138.15 54.21 205.85)" fill="#808080" fill-opacity="0.85"/>
<ellipse cx="54.21" cy="205.85" rx="19.43" ry="11.94" transform="rotate(138.15 54.21 205.85)" fill="none" stroke="#808080" stroke-width="0.4" stroke-opacity="0.6"/>
<path d="M33.97 205.85a20.24 12.43 0 1 0 40.48 0a20.24 12.43 0 1 0 -40.48 0ZM42.07 205.85a12.13 7.32 0 1 0 24.27 0a12.13 7.32 0 1 0 -24.27 0Z" fill-rule="evenodd" transform="rotate(138.15 54.21 205.85)" fill="#f3aea7" fill-opacity="0.85"/>
<ellipse cx="54.21" cy="205.85" rx="12.48" ry="7.67" transform="rotate(138.15 54.21 205.85)" fill="#E03424" fill-opacity="0.85"/>
<ellipse cx="54.21" cy="205.85" rx="20.24" ry="12.43" transform="rotate(138.15 54.21 205.85)" fill="none" stroke="#E03424" stroke-width="0.4" stroke-opacity="0.6"/>
<path d="M37.47 205.67a17.01 11.42 0 1 0 34.03 0a17.01 11.42 0 1 0 -34.03 0ZM44.34 205.67a10.14 6.69 0 1 0 20.29 0a10.14 6.69 0 1 0 -20.29 0Z" fill-rule="evenodd" transform="rotate(147.04 54.49 205.67)" fill="#99c5f8" fill-opacity="0.85"/>
<ellipse cx="54.49" cy="205.67" rx="10.49" ry="7.04" transform="rotate(147.04 54.49 205.67)" fill="#006FED" fill-opacity="0.85"/>
<ellipse cx="54.49" cy="205.67" rx="17.01" ry="11.42" transform="rotate(147.04 54.49 205.67)" fill="none" stroke="#006FED" stroke-width="0.4" stroke-opacity="0.6"/>
<ellipse cx="54.21" cy="205.85" rx="20.44" ry="12.56" transform="rotate(138.15 54.21 205.85)" fill="none" stroke="#000000" stroke-width="0.45" stroke-opacity="0.6"/>
<ellipse cx="54.21" cy="205.85" rx="12.61" ry="7.74" transform="rotate(138.15 54.21 205.85)" fill="none" stroke="#000000" stroke-width="0.45" stroke-opacity="0.6"/>
</g>
<rect x="26.7" y="180.16" width="55.8" height="56.7" fill="none" stroke="#666" stroke-width="0.8"/>
<line x1="38.5" y1="236.86" x2="38.5" y2="238.26" stroke="#555" stroke-width="0.7"/>
<line x1="53.45" y1="236.86" x2="53.45" y2="238.26" stroke="#555" stroke-width="0.7"/>
<line x1="68.4" y1="236.86" x2="68.4" y2="238.26" stroke="#555" stroke-width="0.7"/>
<line x1="25.3" y1="230.26" x2="26.7" y2="230.26" stroke="#555" stroke-width="0.7"/>
<line x1="25.3" y1="219.53" x2="26.7" y2="219.53" stroke="#555" stroke-width="0.7"/>
<line x1="25.3" y1="208.81" x2="26.7" y2="208.81" stroke="#555" stroke-width="0.7"/>
<line x1="25.3" y1="198.09" x2="26.7" y2="198.09" stroke="#555" stroke-width="0.7"/>
<line x1="25.3" y1="187.37" x2="26.7" y2="187.37" stroke="#555" stroke-width="0.7"/>
<text class="tl" x="24.1" y="232.36" text-anchor="end">2.95</text>
<text class="tl" x="24.1" y="221.63" text-anchor="end">3.00</text>
<text class="tl" x="24.1" y="210.91" text-anchor="end">3.05</text>
<text class="tl" x="24.1" y="200.19" text-anchor="end">3.10</text>
<text class="tl" x="24.1" y="189.47" text-anchor="end">3.15</text>
<g clip-path="url(#c0_3_1)">
<path d="M95.8 205.39a20.15 11.63 0 1 0 40.3 0a20.15 11.63 0 1 0 -40.3 0ZM103.87 205.39a12.08 6.82 0 1 0 24.15 0a12.08 6.82 0 1 0 -24.15 0Z" fill-rule="evenodd" transform="rotate(135.52 115.95 205.39)" fill="#99d6c2" fill-opacity="0.85"/>
<ellipse cx="115.95" cy="205.39" rx="12.43" ry="7.17" transform="rotate(135.52 115.95 205.39)" fill="#009966" fill-opacity="0.85"/>
<ellipse cx="115.95" cy="205.39" rx="20.15" ry="11.63" transform="rotate(135.52 115.95 205.39)" fill="none" stroke="#009966" stroke-width="0.4" stroke-opacity="0.6"/>
<path d="M94.09 205.85a19.18 11.07 0 1 0 38.36 0a19.18 11.07 0 1 0 -38.36 0ZM101.79 205.85a11.48 6.48 0 1 0 22.96 0a11.48 6.48 0 1 0 -22.96 0Z" fill-rule="evenodd" transform="rotate(134.57 113.27 205.85)" fill="#cccccc" fill-opacity="0.85"/>
<ellipse cx="113.27" cy="205.85" rx="11.83" ry="6.83" transform="rotate(134.57 113.27 205.85)" fill="#808080" fill-opacity="0.85"/>
<ellipse cx="113.27" cy="205.85" rx="19.18" ry="11.07" transform="rotate(134.57 113.27 205.85)" fill="none" stroke="#808080" stroke-width="0.4" stroke-opacity="0.6"/>
<path d="M93.29 205.85a19.98 11.54 0 1 0 39.96 0a19.98 11.54 0 1 0 -39.96 0ZM101.3 205.85a11.97 6.76 0 1 0 23.95 0a11.97 6.76 0 1 0 -23.95 0Z" fill-rule="evenodd" transform="rotate(134.57 113.27 205.85)" fill="#f3aea7" fill-opacity="0.85"/>
<ellipse cx="113.27" cy="205.85" rx="12.32" ry="7.11" transform="rotate(134.57 113.27 205.85)" fill="#E03424" fill-opacity="0.85"/>
<ellipse cx="113.27" cy="205.85" rx="19.98" ry="11.54" transform="rotate(134.57 113.27 205.85)" fill="none" stroke="#E03424" stroke-width="0.4" stroke-opacity="0.6"/>
<path d="M97.29 205.67a16.32 10.63 0 1 0 32.64 0a16.32 10.63 0 1 0 -32.64 0ZM103.89 205.67a9.71 6.21 0 1 0 19.43 0a9.71 6.21 0 1 0 -19.43 0Z" fill-rule="evenodd" transform="rotate(139.55 113.61 205.67)" fill="#99c5f8" fill-opacity="0.85"/>
<ellipse cx="113.61" cy="205.67" rx="10.06" ry="6.56" transform="rotate(139.55 113.61 205.67)" fill="#006FED" fill-opacity="0.85"/>
<ellipse cx="113.61" cy="205.67" rx="16.32" ry="10.63" transform="rotate(139.55 113.61 205.67)" fill="none" stroke="#006FED" stroke-width="0.4" stroke-opacity="0.6"/>
<ellipse cx="113.27" cy="205.85" rx="20.18" ry="11.65" transform="rotate(134.57 113.27 205.85)" fill="none" stroke="#000000" stroke-width="0.45" stroke-opacity="0.6"/>
<ellipse cx="113.27" cy="205.85" rx="12.45" ry="7.19" transform="rotate(134.57 113.27 205.85)" fill="none" stroke="#000000" stroke-width="0.45" stroke-opacity="0.6"/>
</g>
<rect x="85.26" y="180.16" width="55.8" height="56.7" fill="none" stroke="#666" stroke-width="0.8"/>
<line x1="92.06" y1="236.86" x2="92.06" y2="238.26" stroke="#555" stroke-width="0.7"/>
<line x1="105.83" y1="236.86" x2="105.83" y2="238.26" stroke="#555" stroke-width="0.7"/>
<line x1="119.59" y1="236.86" x2="119.59" y2="238.26" stroke="#555" stroke-width="0.7"/>
<line x1="133.36" y1="236.86" x2="133.36" y2="238.26" stroke="#555" stroke-width="0.7"/>
<line x1="83.86" y1="230.26" x2="85.26" y2="230.26" stroke="#555" stroke-width="0.7"/>
<line x1="83.86" y1="219.53" x2="85.26" y2="219.53" stroke="#555" stroke-width="0.7"/>
<line x1="83.86" y1="208.81" x2="85.26" y2="208.81" stroke="#555" stroke-width="0.7"/>
<line x1="83.86" y1="198.09" x2="85.26" y2="198.09" stroke="#555" stroke-width="0.7"/>
<line x1="83.86" y1="187.37" x2="85.26" y2="187.37" stroke="#555" stroke-width="0.7"/>
<g clip-path="url(#c0_3_2)">
<path d="M146.83 205.39a21.54 9.05 0 1 0 43.08 0a21.54 9.05 0 1 0 -43.08 0ZM155.44 205.39a12.94 5.23 0 1 0 25.87 0a12.94 5.23 0 1 0 -25.87 0Z" fill-rule="evenodd" transform="rotate(-135.71 168.37 205.39)" fill="#99d6c2" fill-opacity="0.85"/>
<ellipse cx="168.37" cy="205.39" rx="13.29" ry="5.58" transform="rotate(-135.71 168.37 205.39)" fill="#009966" fill-opacity="0.85"/>
<ellipse cx="168.37" cy="205.39" rx="21.54" ry="9.05" transform="rotate(-135.71 168.37 205.39)" fill="none" stroke="#009966" stroke-width="0.4" stroke-opacity="0.6"/>
<path d="M152.54 205.85a20.85 8.75 0 1 0 41.71 0a20.85 8.75 0 1 0 -41.71 0ZM160.88 205.85a12.51 5.05 0 1 0 25.02 0a12.51 5.05 0 1 0 -25.02 0Z" fill-rule="evenodd" transform="rotate(-136.37 173.39 205.85)" fill="#cccccc" fill-opacity="0.85"/>
<ellipse cx="173.39" cy="205.85" rx="12.86" ry="5.4" transform="rotate(-136.37 173.39 205.85)" fill="#808080" fill-opacity="0.85"/>
<ellipse cx="173.39" cy="205.85" rx="20.85" ry="8.75" transform="rotate(-136.37 173.39 205.85)" fill="none" stroke="#808080" stroke-width="0.4" stroke-opacity="0.6"/>
<path d="M151.67 205.85a21.72 9.12 0 1 0 43.44 0a21.72 9.12 0 1 0 -43.44 0ZM160.35 205.85a13.05 5.27 0 1 0 26.1 0a13.05 5.27 0 1 0 -26.1 0Z" fill-rule="evenodd" transform="rotate(-136.37 173.39 205.85)" fill="#f3aea7" fill-opacity="0.85"/>
<ellipse cx="173.39" cy="205.85" rx="13.4" ry="5.62" transform="rotate(-136.37 173.39 205.85)" fill="#E03424" fill-opacity="0.85"/>
<ellipse cx="173.39" cy="205.85" rx="21.72" ry="9.12" transform="rotate(-136.37 173.39 205.85)" fill="none" stroke="#E03424" stroke-width="0.4" stroke-opacity="0.6"/>
<path d="M157.4 205.67a14.99 7.61 0 1 0 29.97 0a14.99 7.61 0 1 0 -29.97 0ZM163.5 205.67a8.89 4.34 0 1 0 17.79 0a8.89 4.34 0 1 0 -17.79 0Z" fill-rule="evenodd" transform="rotate(57.9 172.39 205.67)" fill="#99c5f8" fill-opacity="0.85"/>
<ellipse cx="172.39" cy="205.67" rx="9.24" ry="4.69" transform="rotate(57.9 172.39 205.67)" fill="#006FED" fill-opacity="0.85"/>
<ellipse cx="172.39" cy="205.67" rx="14.99" ry="7.61" transform="rotate(57.9 172.39 205.67)" fill="none" stroke="#006FED" stroke-width="0.4" stroke-opacity="0.6"/>
<ellipse cx="173.39" cy="205.85" rx="21.94" ry="9.21" transform="rotate(-136.37 173.39 205.85)" fill="none" stroke="#000000" stroke-width="0.45" stroke-opacity="0.6"/>
<ellipse cx="173.39" cy="205.85" rx="13.53" ry="5.68" transform="rotate(-136.37 173.39 205.85)" fill="none" stroke="#000000" stroke-width="0.45" stroke-opacity="0.6"/>
</g>
<rect x="143.82" y="180.16" width="55.8" height="56.7" fill="none" stroke="#666" stroke-width="0.8"/>
<line x1="151.12" y1="236.86" x2="151.12" y2="238.26" stroke="#555" stroke-width="0.7"/>
<line x1="164.59" y1="236.86" x2="164.59" y2="238.26" stroke="#555" stroke-width="0.7"/>
<line x1="178.05" y1="236.86" x2="178.05" y2="238.26" stroke="#555" stroke-width="0.7"/>
<line x1="191.52" y1="236.86" x2="191.52" y2="238.26" stroke="#555" stroke-width="0.7"/>
<line x1="142.42" y1="230.26" x2="143.82" y2="230.26" stroke="#555" stroke-width="0.7"/>
<line x1="142.42" y1="219.53" x2="143.82" y2="219.53" stroke="#555" stroke-width="0.7"/>
<line x1="142.42" y1="208.81" x2="143.82" y2="208.81" stroke="#555" stroke-width="0.7"/>
<line x1="142.42" y1="198.09" x2="143.82" y2="198.09" stroke="#555" stroke-width="0.7"/>
<line x1="142.42" y1="187.37" x2="143.82" y2="187.37" stroke="#555" stroke-width="0.7"/>
<g clip-path="url(#c0_3_3)">
<polyline points="202.38,236.86 203.08,236.86 203.78,236.86 204.47,236.86 205.17,236.86 205.87,236.85 206.56,236.85 207.26,236.84 207.96,236.84 208.66,236.82 209.35,236.8 210.05,236.78 210.75,236.74 211.45,236.68 212.14,236.61 212.84,236.5 213.54,236.36 214.24,236.16 214.94,235.91 215.63,235.57 216.33,235.14 217.03,234.59 217.72,233.9 218.42,233.05 219.12,232 219.82,230.74 220.51,229.25 221.21,227.5 221.91,225.49 222.61,223.2 223.31,220.65 224,217.85 224.7,214.82 225.4,211.61 226.09,208.28 226.79,204.88 227.49,201.51 228.19,198.23 228.88,195.15 229.58,192.35 230.28,189.92 230.98,187.93 231.67,186.47 232.37,185.57 233.07,185.26 233.77,185.57 234.46,186.47 235.16,187.93 235.86,189.92 236.56,192.35 237.25,195.15 237.95,198.23 238.65,201.51 239.35,204.88 240.04,208.28 240.74,211.61 241.44,214.82 242.14,217.85 242.83,220.65 243.53,223.2 244.23,225.49 244.93,227.5 245.62,229.25 246.32,230.74 247.02,232 247.72,233.05 248.41,233.9 249.11,234.59 249.81,235.14 250.51,235.57 251.2,235.91 251.9,236.16 252.6,236.36 253.3,236.5 254,236.61 254.69,236.68 255.39,236.74 256.09,236.78 256.78,236.8 257.48,236.82 258.18,236.84" fill="none" stroke="#009966" stroke-width="0.8" stroke-opacity="0.6"/>
<polyline points="202.38,236.86 203.08,236.86 203.78,236.86 204.47,236.86 205.17,236.86 205.87,236.86 206.56,236.86 207.26,236.85 207.96,236.85 208.66,236.84 209.35,236.83 210.05,236.81 210.75,236.78 211.45,236.75 212.14,236.69 212.84,236.61 213.54,236.5 214.24,236.35 214.94,236.14 215.63,235.86 216.33,235.48 217.03,234.99 217.72,234.36 218.42,233.57 219.12,232.57 219.82,231.36 220.51,229.88 221.21,228.13 221.91,226.09 222.61,223.74 223.31,221.08 224,218.15 224.7,214.95 225.4,211.56 226.09,208.02 226.79,204.42 227.49,200.85 228.19,197.41 228.88,194.22 229.58,191.38 230.28,188.99 230.98,187.14 231.67,185.89 232.37,185.31 233.07,185.4 233.77,186.18 234.46,187.6 235.16,189.61 235.86,192.14 236.56,195.09 237.25,198.36 237.95,201.84 238.65,205.43 239.35,209.02 240.04,212.53 240.74,215.87 241.44,219 242.14,221.86 242.83,224.42 243.53,226.69 244.23,228.65 244.93,230.32 245.62,231.72 246.32,232.87 247.02,233.81 247.72,234.56 248.41,235.14 249.11,235.6 249.81,235.94 250.51,236.2 251.2,236.4 251.9,236.54 252.6,236.64 253.3,236.71 254,236.76 254.69,236.79 255.39,236.82 256.09,236.83 256.78,236.84 257.48,236.85 258.18,236.85" fill="none" stroke="#808080" stroke-width="0.8" stroke-opacity="0.5"/>
<polyline points="202.38,236.86 203.08,236.86 203.78,236.86 204.47,236.86 205.17,236.86 205.87,236.85 206.56,236.85 207.26,236.84 207.96,236.84 208.66,236.82 209.35,236.8 210.05,236.77 210.75,236.73 211.45,236.68 212.14,236.6 212.84,236.48 213.54,236.33 214.24,236.12 214.94,235.85 215.63,235.49 216.33,235.03 217.03,234.44 217.72,233.7 218.42,232.78 219.12,231.65 219.82,230.3 220.51,228.7 221.21,226.83 221.91,224.68 222.61,222.25 223.31,219.55 224,216.6 224.7,213.43 225.4,210.1 226.09,206.67 226.79,203.22 227.49,199.82 228.19,196.57 228.88,193.58 229.58,190.93 230.28,188.71 230.98,186.99 231.67,185.84 232.37,185.3 233.07,185.39 233.77,186.11 234.46,187.42 235.16,189.28 235.86,191.63 236.56,194.39 237.25,197.46 237.95,200.76 238.65,204.18 239.35,207.64 240.04,211.05 240.74,214.34 241.44,217.45 242.14,220.33 242.83,222.96 243.53,225.31 244.23,227.38 244.93,229.17 245.62,230.7 246.32,231.99 247.02,233.05 247.72,233.92 248.41,234.62 249.11,235.17 249.81,235.6 250.51,235.94 251.2,236.19 251.9,236.38 252.6,236.52 253.3,236.62 254,236.69 254.69,236.75 255.39,236.78 256.09,236.81 256.78,236.83 257.48,236.84 258.18,236.85" fill="none" stroke="#E03424" stroke-width="0.8" stroke-opacity="0.72"/>
<polyline points="202.38,236.86 203.08,236.86 203.78,236.86 204.47,236.86 205.17,236.86 205.87,236.85 206.56,236.85 207.26,236.84 207.96,236.84 208.66,236.82 209.35,236.8 210.05,236.77 210.75,236.73 211.45,236.68 212.14,236.6 212.84,236.48 213.54,236.33 214.24,236.12 214.94,235.85 215.63,235.49 216.33,235.03 217.03,234.44 217.72,233.7 218.42,232.78 219.12,231.65 219.82,230.3 220.51,228.7 221.21,226.83 221.91,224.68 222.61,222.25 223.31,219.55 224,216.6 224.7,213.43 225.4,210.1 226.09,206.67 226.79,203.22 227.49,199.82 228.19,196.57 228.88,193.58 229.58,190.93 230.28,188.71 230.98,186.99 231.67,185.84 232.37,185.3 233.07,185.39 233.77,186.11 234.46,187.42 235.16,189.28 235.86,191.63 236.56,194.39 237.25,197.46 237.95,200.76 238.65,204.18 239.35,207.64 240.04,211.05 240.74,214.34 241.44,217.45 242.14,220.33 242.83,222.96 243.53,225.31 244.23,227.38 244.93,229.17 245.62,230.7 246.32,231.99 247.02,233.05 247.72,233.92 248.41,234.62 249.11,235.17 249.81,235.6 250.51,235.94 251.2,236.19 251.9,236.38 252.6,236.52 253.3,236.62 254,236.69 254.69,236.75 255.39,236.78 256.09,236.81 256.78,236.83 257.48,236.84 258.18,236.85" fill="none" stroke="#000000" stroke-width="0.6" stroke-opacity="0.45"/>
<polyline points="202.38,236.86 203.08,236.86 203.78,236.86 204.47,236.86 205.17,236.86 205.87,236.86 206.56,236.86 207.26,236.86 207.96,236.86 208.66,236.86 209.35,236.86 210.05,236.85 210.75,236.85 211.45,236.84 212.14,236.83 212.84,236.81 213.54,236.78 214.24,236.73 214.94,236.66 215.63,236.56 216.33,236.4 217.03,236.18 217.72,235.87 218.42,235.43 219.12,234.85 219.82,234.07 220.51,233.06 221.21,231.77 221.91,230.17 222.61,228.2 223.31,225.85 224,223.11 224.7,219.98 225.4,216.48 226.09,212.69 226.79,208.68 227.49,204.58 228.19,200.51 228.88,196.62 229.58,193.09 230.28,190.07 230.98,187.69 231.67,186.08 232.37,185.32 233.07,185.45 233.77,186.45 234.46,188.28 235.16,190.85 235.86,194.04 236.56,197.68 237.25,201.63 237.95,205.73 238.65,209.82 239.35,213.78 240.04,217.5 240.74,220.89 241.44,223.92 242.14,226.55 242.83,228.79 243.53,230.65 244.23,232.16 244.93,233.37 245.62,234.31 246.32,235.03 247.02,235.57 247.72,235.96 248.41,236.25 249.11,236.45 249.81,236.59 250.51,236.69 251.2,236.75 251.9,236.79 252.6,236.82 253.3,236.83 254,236.84 254.69,236.85 255.39,236.85 256.09,236.86 256.78,236.86 257.48,236.86 258.18,236.86" fill="none" stroke="#006FED" stroke-width="0.8" stroke-opacity="0.6"/>
</g>
<rect x="202.38" y="180.16" width="55.8" height="56.7" fill="none" stroke="#666" stroke-width="0.8"/>
<line x1="208.88" y1="236.86" x2="208.88" y2="238.26" stroke="#555" stroke-width="0.7"/>
<line x1="219.43" y1="236.86" x2="219.43" y2="238.26" stroke="#555" stroke-width="0.7"/>
<line x1="229.98" y1="236.86" x2="229.98" y2="238.26" stroke="#555" stroke-width="0.7"/>
<line x1="240.53" y1="236.86" x2="240.53" y2="238.26" stroke="#555" stroke-width="0.7"/>
<line x1="251.08" y1="236.86" x2="251.08" y2="238.26" stroke="#555" stroke-width="0.7"/>
<g clip-path="url(#c0_4_0)">
<path d="M35.38 267.22a20.62 11.82 0 1 0 41.23 0a20.62 11.82 0 1 0 -41.23 0ZM43.63 267.22a12.37 6.94 0 1 0 24.73 0a12.37 6.94 0 1 0 -24.73 0Z" fill-rule="evenodd" transform="rotate(139.69 55.99 267.22)" fill="#99d6c2" fill-opacity="0.85"/>
<ellipse cx="55.99" cy="267.22" rx="12.72" ry="7.29" transform="rotate(139.69 55.99 267.22)" fill="#009966" fill-opacity="0.85"/>
<ellipse cx="55.99" cy="267.22" rx="20.62" ry="11.82" transform="rotate(139.69 55.99 267.22)" fill="none" stroke="#009966" stroke-width="0.4" stroke-opacity="0.6"/>
<path d="M34.45 270a19.76 11.38 0 1 0 39.52 0a19.76 11.38 0 1 0 -39.52 0ZM42.37 270a11.84 6.67 0 1 0 23.68 0a11.84 6.67 0 1 0 -23.68 0Z" fill-rule="evenodd" transform="rotate(137.83 54.21 270)" fill="#cccccc" fill-opacity="0.85"/>
<ellipse cx="54.21" cy="270" rx="12.19" ry="7.02" transform="rotate(137.83 54.21 270)" fill="#808080" fill-opacity="0.85"/>
<ellipse cx="54.21" cy="270" rx="19.76" ry="11.38" transform="rotate(137.83 54.21 270)" fill="none" stroke="#808080" stroke-width="0.4" stroke-opacity="0.6"/>
<path d="M33.62 270a20.59 11.86 0 1 0 41.17 0a20.59 11.86 0 1 0 -41.17 0ZM41.86 270a12.35 6.96 0 1 0 24.69 0a12.35 6.96 0 1 0 -24.69 0Z" fill-rule="evenodd" transform="rotate(137.83 54.21 270)" fill="#f3aea7" fill-opacity="0.85"/>
<ellipse cx="54.21" cy="270" rx="12.7" ry="7.31" transform="rotate(137.83 54.21 270)" fill="#E03424" fill-opacity="0.85"/>
<ellipse cx="54.21" cy="270" rx="20.59" ry="11.86" transform="rotate(137.83 54.21 270)" fill="none" stroke="#E03424" stroke-width="0.4" stroke-opacity="0.6"/>
<path d="M38.07 269.88a16.42 11.05 0 1 0 32.83 0a16.42 11.05 0 1 0 -32.83 0ZM44.71 269.88a9.77 6.47 0 1 0 19.55 0a9.77 6.47 0 1 0 -19.55 0Z" fill-rule="evenodd" transform="rotate(154.63 54.49 269.88)" fill="#99c5f8" fill-opacity="0.85"/>
<ellipse cx="54.49" cy="269.88" rx="10.12" ry="6.82" transform="rotate(154.63 54.49 269.88)" fill="#006FED" fill-opacity="0.85"/>
<ellipse cx="54.49" cy="269.88" rx="16.42" ry="11.05" transform="rotate(154.63 54.49 269.88)" fill="none" stroke="#006FED" stroke-width="0.4" stroke-opacity="0.6"/>
<ellipse cx="54.21" cy="270" rx="20.79" ry="11.97" transform="rotate(137.83 54.21 270)" fill="none" stroke="#000000" stroke-width="0.45" stroke-opacity="0.6"/>
<ellipse cx="54.21" cy="270" rx="12.82" ry="7.39" transform="rotate(137.83 54.21 270)" fill="none" stroke="#000000" stroke-width="0.45" stroke-opacity="0.6"/>
</g>
<rect x="26.7" y="239.38" width="55.8" height="56.7" fill="none" stroke="#666" stroke-width="0.8"/>
<line x1="38.5" y1="296.08" x2="38.5" y2="297.48" stroke="#555" stroke-width="0.7"/>
<line x1="53.45" y1="296.08" x2="53.45" y2="297.48" stroke="#555" stroke-width="0.7"/>
<line x1="68.4" y1="296.08" x2="68.4" y2="297.48" stroke="#555" stroke-width="0.7"/>
<line x1="25.3" y1="289.48" x2="26.7" y2="289.48" stroke="#555" stroke-width="0.7"/>
<line x1="25.3" y1="278.75" x2="26.7" y2="278.75" stroke="#555" stroke-width="0.7"/>
<line x1="25.3" y1="268.03" x2="26.7" y2="268.03" stroke="#555" stroke-width="0.7"/>
<line x1="25.3" y1="257.31" x2="26.7" y2="257.31" stroke="#555" stroke-width="0.7"/>
<line x1="25.3" y1="246.59" x2="26.7" y2="246.59" stroke="#555" stroke-width="0.7"/>
<text class="tl" x="24.1" y="291.58" text-anchor="end">0.95</text>
<text class="tl" x="24.1" y="280.86" text-anchor="end">0.96</text>
<text class="tl" x="24.1" y="270.13" text-anchor="end">0.97</text>
<text class="tl" x="24.1" y="259.41" text-anchor="end">0.98</text>
<text class="tl" x="24.1" y="248.69" text-anchor="end">0.99</text>
<g clip-path="url(#c0_4_1)">
<path d="M95.31 267.22a20.64 10.31 0 1 0 41.28 0a20.64 10.31 0 1 0 -41.28 0ZM103.57 267.22a12.38 6.01 0 1 0 24.76 0a12.38 6.01 0 1 0 -24.76 0Z" fill-rule="evenodd" transform="rotate(136.25 115.95 267.22)" fill="#99d6c2" fill-opacity="0.85"/>
<ellipse cx="115.95" cy="267.22" rx="12.73" ry="6.36" transform="rotate(136.25 115.95 267.22)" fill="#009966" fill-opacity="0.85"/>
<ellipse cx="115.95" cy="267.22" rx="20.64" ry="10.31" transform="rotate(136.25 115.95 267.22)" fill="none" stroke="#009966" stroke-width="0.4" stroke-opacity="0.6"/>
<path d="M93.46 270a19.81 9.91 0 1 0 39.62 0a19.81 9.91 0 1 0 -39.62 0ZM101.4 270a11.87 5.76 0 1 0 23.74 0a11.87 5.76 0 1 0 -23.74 0Z" fill-rule="evenodd" transform="rotate(134.64 113.27 270)" fill="#cccccc" fill-opacity="0.85"/>
<ellipse cx="113.27" cy="270" rx="12.22" ry="6.11" transform="rotate(134.64 113.27 270)" fill="#808080" fill-opacity="0.85"/>
<ellipse cx="113.27" cy="270" rx="19.81" ry="9.91" transform="rotate(134.64 113.27 270)" fill="none" stroke="#808080" stroke-width="0.4" stroke-opacity="0.6"/>
<path d="M92.63 270a20.64 10.32 0 1 0 41.27 0a20.64 10.32 0 1 0 -41.27 0ZM100.89 270a12.38 6.01 0 1 0 24.76 0a12.38 6.01 0 1 0 -24.76 0Z" fill-rule="evenodd" transform="rotate(134.64 113.27 270)" fill="#f3aea7" fill-opacity="0.85"/>
<ellipse cx="113.27" cy="270" rx="12.73" ry="6.36" transform="rotate(134.64 113.27 270)" fill="#E03424" fill-opacity="0.85"/>
<ellipse cx="113.27" cy="270" rx="20.64" ry="10.32" transform="rotate(134.64 113.27 270)" fill="none" stroke="#E03424" stroke-width="0.4" stroke-opacity="0.6"/>
<path d="M97.81 269.88a15.8 10.06 0 1 0 31.6 0a15.8 10.06 0 1 0 -31.6 0ZM104.21 269.88a9.4 5.86 0 1 0 18.79 0a9.4 5.86 0 1 0 -18.79 0Z" fill-rule="evenodd" transform="rotate(145.38 113.61 269.88)" fill="#99c5f8" fill-opacity="0.85"/>
<ellipse cx="113.61" cy="269.88" rx="9.75" ry="6.21" transform="rotate(145.38 113.61 269.88)" fill="#006FED" fill-opacity="0.85"/>
<ellipse cx="113.61" cy="269.88" rx="15.8" ry="10.06" transform="rotate(145.38 113.61 269.88)" fill="none" stroke="#006FED" stroke-width="0.4" stroke-opacity="0.6"/>
<ellipse cx="113.27" cy="270" rx="20.84" ry="10.42" transform="rotate(134.64 113.27 270)" fill="none" stroke="#000000" stroke-width="0.45" stroke-opacity="0.6"/>
<ellipse cx="113.27" cy="270" rx="12.86" ry="6.43" transform="rotate(134.64 113.27 270)" fill="none" stroke="#000000" stroke-width="0.45" stroke-opacity="0.6"/>
</g>
<rect x="85.26" y="239.38" width="55.8" height="56.7" fill="none" stroke="#666" stroke-width="0.8"/>
<line x1="92.06" y1="296.08" x2="92.06" y2="297.48" stroke="#555" stroke-width="0.7"/>
<line x1="105.83" y1="296.08" x2="105.83" y2="297.48" stroke="#555" stroke-width="0.7"/>
<line x1="119.59" y1="296.08" x2="119.59" y2="297.48" stroke="#555" stroke-width="0.7"/>
<line x1="133.36" y1="296.08" x2="133.36" y2="297.48" stroke="#555" stroke-width="0.7"/>
<line x1="83.86" y1="289.48" x2="85.26" y2="289.48" stroke="#555" stroke-width="0.7"/>
<line x1="83.86" y1="278.75" x2="85.26" y2="278.75" stroke="#555" stroke-width="0.7"/>
<line x1="83.86" y1="268.03" x2="85.26" y2="268.03" stroke="#555" stroke-width="0.7"/>
<line x1="83.86" y1="257.31" x2="85.26" y2="257.31" stroke="#555" stroke-width="0.7"/>
<line x1="83.86" y1="246.59" x2="85.26" y2="246.59" stroke="#555" stroke-width="0.7"/>
<g clip-path="url(#c0_4_2)">
<path d="M146.09 267.22a22.28 6.34 0 1 0 44.57 0a22.28 6.34 0 1 0 -44.57 0ZM154.98 267.22a13.39 3.56 0 1 0 26.79 0a13.39 3.56 0 1 0 -26.79 0Z" fill-rule="evenodd" transform="rotate(-136.16 168.37 267.22)" fill="#99d6c2" fill-opacity="0.85"/>
<ellipse cx="168.37" cy="267.22" rx="13.74" ry="3.91" transform="rotate(-136.16 168.37 267.22)" fill="#009966" fill-opacity="0.85"/>
<ellipse cx="168.37" cy="267.22" rx="22.28" ry="6.34" transform="rotate(-136.16 168.37 267.22)" fill="none" stroke="#009966" stroke-width="0.4" stroke-opacity="0.6"/>
<path d="M151.64 270a21.75 6.19 0 1 0 43.51 0a21.75 6.19 0 1 0 -43.51 0ZM160.33 270a13.07 3.47 0 1 0 26.13 0a13.07 3.47 0 1 0 -26.13 0Z" fill-rule="evenodd" transform="rotate(-136.13 173.39 270)" fill="#cccccc" fill-opacity="0.85"/>
<ellipse cx="173.39" cy="270" rx="13.42" ry="3.82" transform="rotate(-136.13 173.39 270)" fill="#808080" fill-opacity="0.85"/>
<ellipse cx="173.39" cy="270" rx="21.75" ry="6.19" transform="rotate(-136.13 173.39 270)" fill="none" stroke="#808080" stroke-width="0.4" stroke-opacity="0.6"/>
<path d="M150.74 270a22.66 6.45 0 1 0 45.32 0a22.66 6.45 0 1 0 -45.32 0ZM159.77 270a13.63 3.63 0 1 0 27.25 0a13.63 3.63 0 1 0 -27.25 0Z" fill-rule="evenodd" transform="rotate(-136.13 173.39 270)" fill="#f3aea7" fill-opacity="0.85"/>
<ellipse cx="173.39" cy="270" rx="13.98" ry="3.98" transform="rotate(-136.13 173.39 270)" fill="#E03424" fill-opacity="0.85"/>
<ellipse cx="173.39" cy="270" rx="22.66" ry="6.45" transform="rotate(-136.13 173.39 270)" fill="none" stroke="#E03424" stroke-width="0.4" stroke-opacity="0.6"/>
<path d="M158.06 269.88a14.33 6.99 0 1 0 28.66 0a14.33 6.99 0 1 0 -28.66 0ZM163.9 269.88a8.49 3.96 0 1 0 16.97 0a8.49 3.96 0 1 0 -16.97 0Z" fill-rule="evenodd" transform="rotate(53.21 172.39 269.88)" fill="#99c5f8" fill-opacity="0.85"/>
<ellipse cx="172.39" cy="269.88" rx="8.84" ry="4.31" transform="rotate(53.21 172.39 269.88)" fill="#006FED" fill-opacity="0.85"/>
<ellipse cx="172.39" cy="269.88" rx="14.33" ry="6.99" transform="rotate(53.21 172.39 269.88)" fill="none" stroke="#006FED" stroke-width="0.4" stroke-opacity="0.6"/>
<ellipse cx="173.39" cy="270" rx="22.89" ry="6.51" transform="rotate(-136.13 173.39 270)" fill="none" stroke="#000000" stroke-width="0.45" stroke-opacity="0.6"/>
<ellipse cx="173.39" cy="270" rx="14.12" ry="4.02" transform="rotate(-136.13 173.39 270)" fill="none" stroke="#000000" stroke-width="0.45" stroke-opacity="0.6"/>
</g>
<rect x="143.82" y="239.38" width="55.8" height="56.7" fill="none" stroke="#666" stroke-width="0.8"/>
<line x1="151.12" y1="296.08" x2="151.12" y2="297.48" stroke="#555" stroke-width="0.7"/>
<line x1="164.59" y1="296.08" x2="164.59" y2="297.48" stroke="#555" stroke-width="0.7"/>
<line x1="178.05" y1="296.08" x2="178.05" y2="297.48" stroke="#555" stroke-width="0.7"/>
<line x1="191.52" y1="296.08" x2="191.52" y2="297.48" stroke="#555" stroke-width="0.7"/>
<line x1="142.42" y1="289.48" x2="143.82" y2="289.48" stroke="#555" stroke-width="0.7"/>
<line x1="142.42" y1="278.75" x2="143.82" y2="278.75" stroke="#555" stroke-width="0.7"/>
<line x1="142.42" y1="268.03" x2="143.82" y2="268.03" stroke="#555" stroke-width="0.7"/>
<line x1="142.42" y1="257.31" x2="143.82" y2="257.31" stroke="#555" stroke-width="0.7"/>
<line x1="142.42" y1="246.59" x2="143.82" y2="246.59" stroke="#555" stroke-width="0.7"/>
<g clip-path="url(#c0_4_3)">
<path d="M212.1 267.22a21.25 8.21 0 1 0 42.49 0a21.25 8.21 0 1 0 -42.49 0ZM220.59 267.22a12.75 4.72 0 1 0 25.51 0a12.75 4.72 0 1 0 -25.51 0Z" fill-rule="evenodd" transform="rotate(135.04 233.35 267.22)" fill="#99d6c2" fill-opacity="0.85"/>
<ellipse cx="233.35" cy="267.22" rx="13.1" ry="5.07" transform="rotate(135.04 233.35 267.22)" fill="#009966" fill-opacity="0.85"/>
<ellipse cx="233.35" cy="267.22" rx="21.25" ry="8.21" transform="rotate(135.04 233.35 267.22)" fill="none" stroke="#009966" stroke-width="0.4" stroke-opacity="0.6"/>
<path d="M212.33 270a20.57 7.95 0 1 0 41.15 0a20.57 7.95 0 1 0 -41.15 0ZM220.56 270a12.34 4.55 0 1 0 24.68 0a12.34 4.55 0 1 0 -24.68 0Z" fill-rule="evenodd" transform="rotate(134.38 232.9 270)" fill="#cccccc" fill-opacity="0.85"/>
<ellipse cx="232.9" cy="270" rx="12.69" ry="4.9" transform="rotate(134.38 232.9 270)" fill="#808080" fill-opacity="0.85"/>
<ellipse cx="232.9" cy="270" rx="20.57" ry="7.95" transform="rotate(134.38 232.9 270)" fill="none" stroke="#808080" stroke-width="0.4" stroke-opacity="0.6"/>
<path d="M211.47 270a21.43 8.28 0 1 0 42.86 0a21.43 8.28 0 1 0 -42.86 0ZM220.03 270a12.87 4.76 0 1 0 25.74 0a12.87 4.76 0 1 0 -25.74 0Z" fill-rule="evenodd" transform="rotate(134.38 232.9 270)" fill="#f3aea7" fill-opacity="0.85"/>
<ellipse cx="232.9" cy="270" rx="13.22" ry="5.11" transform="rotate(134.38 232.9 270)" fill="#E03424" fill-opacity="0.85"/>
<ellipse cx="232.9" cy="270" rx="21.43" ry="8.28" transform="rotate(134.38 232.9 270)" fill="none" stroke="#E03424" stroke-width="0.4" stroke-opacity="0.6"/>
<path d="M218.05 269.88a15.02 9.77 0 1 0 30.04 0a15.02 9.77 0 1 0 -30.04 0ZM224.16 269.88a8.91 5.68 0 1 0 17.83 0a8.91 5.68 0 1 0 -17.83 0Z" fill-rule="evenodd" transform="rotate(140.04 233.07 269.88)" fill="#99c5f8" fill-opacity="0.85"/>
<ellipse cx="233.07" cy="269.88" rx="9.26" ry="6.03" transform="rotate(140.04 233.07 269.88)" fill="#006FED" fill-opacity="0.85"/>
<ellipse cx="233.07" cy="269.88" rx="15.02" ry="9.77" transform="rotate(140.04 233.07 269.88)" fill="none" stroke="#006FED" stroke-width="0.4" stroke-opacity="0.6"/>
<ellipse cx="232.9" cy="270" rx="21.65" ry="8.37" transform="rotate(134.38 232.9 270)" fill="none" stroke="#000000" stroke-width="0.45" stroke-opacity="0.6"/>
<ellipse cx="232.9" cy="270" rx="13.35" ry="5.16" transform="rotate(134.38 232.9 270)" fill="none" stroke="#000000" stroke-width="0.45" stroke-opacity="0.6"/>
</g>
<rect x="202.38" y="239.38" width="55.8" height="56.7" fill="none" stroke="#666" stroke-width="0.8"/>
<line x1="208.88" y1="296.08" x2="208.88" y2="297.48" stroke="#555" stroke-width="0.7"/>
<line x1="219.43" y1="296.08" x2="219.43" y2="297.48" stroke="#555" stroke-width="0.7"/>
<line x1="229.98" y1="296.08" x2="229.98" y2="297.48" stroke="#555" stroke-width="0.7"/>
<line x1="240.53" y1="296.08" x2="240.53" y2="297.48" stroke="#555" stroke-width="0.7"/>
<line x1="251.08" y1="296.08" x2="251.08" y2="297.48" stroke="#555" stroke-width="0.7"/>
<line x1="200.98" y1="289.48" x2="202.38" y2="289.48" stroke="#555" stroke-width="0.7"/>
<line x1="200.98" y1="278.75" x2="202.38" y2="278.75" stroke="#555" stroke-width="0.7"/>
<line x1="200.98" y1="268.03" x2="202.38" y2="268.03" stroke="#555" stroke-width="0.7"/>
<line x1="200.98" y1="257.31" x2="202.38" y2="257.31" stroke="#555" stroke-width="0.7"/>
<line x1="200.98" y1="246.59" x2="202.38" y2="246.59" stroke="#555" stroke-width="0.7"/>
<g clip-path="url(#c0_4_4)">
<polyline points="260.94,296.08 261.64,296.08 262.33,296.08 263.03,296.08 263.73,296.07 264.43,296.07 265.12,296.07 265.82,296.06 266.52,296.05 267.22,296.03 267.92,296 268.61,295.96 269.31,295.89 270.01,295.81 270.7,295.68 271.4,295.51 272.1,295.28 272.8,294.97 273.5,294.56 274.19,294.02 274.89,293.32 275.59,292.45 276.29,291.36 276.98,290.03 277.68,288.42 278.38,286.52 279.07,284.32 279.77,281.8 280.47,278.97 281.17,275.87 281.87,272.53 282.56,269 283.26,265.37 283.96,261.72 284.65,258.17 285.35,254.81 286.05,251.76 286.75,249.13 287.44,247.02 288.14,245.51 288.84,244.67 289.54,244.51 290.24,245.06 290.93,246.28 291.63,248.14 292.33,250.55 293.02,253.42 293.72,256.66 294.42,260.14 295.12,263.76 295.81,267.41 296.51,270.99 297.21,274.43 297.91,277.64 298.61,280.59 299.3,283.25 300,285.59 300.7,287.62 301.39,289.35 302.09,290.8 302.79,292 303.49,292.96 304.19,293.73 304.88,294.34 305.58,294.8 306.28,295.16 306.98,295.42 307.67,295.62 308.37,295.76 309.07,295.86 309.76,295.93 310.46,295.98 311.16,296.01 311.86,296.04 312.56,296.05 313.25,296.06 313.95,296.07 314.65,296.07 315.34,296.08 316.04,296.08 316.74,296.08" fill="none" stroke="#009966" stroke-width="0.8" stroke-opacity="0.6"/>
<polyline points="260.94,296.08 261.64,296.07 262.33,296.07 263.03,296.06 263.73,296.05 264.43,296.04 265.12,296.02 265.82,295.98 266.52,295.93 267.22,295.85 267.92,295.74 268.61,295.59 269.31,295.38 270.01,295.08 270.7,294.68 271.4,294.16 272.1,293.47 272.8,292.6 273.5,291.49 274.19,290.13 274.89,288.47 275.59,286.5 276.29,284.19 276.98,281.54 277.68,278.57 278.38,275.29 279.07,271.76 279.77,268.06 280.47,264.26 281.17,260.48 281.87,256.84 282.56,253.46 283.26,250.47 283.96,247.98 284.65,246.11 285.35,244.93 286.05,244.49 286.75,244.81 287.44,245.87 288.14,247.64 288.84,250.03 289.54,252.95 290.24,256.28 290.93,259.89 291.63,263.65 292.33,267.45 293.02,271.18 293.72,274.74 294.42,278.06 295.12,281.09 295.81,283.79 296.51,286.15 297.21,288.18 297.91,289.89 298.61,291.29 299.3,292.44 300,293.35 300.7,294.06 301.39,294.61 302.09,295.02 302.79,295.33 303.49,295.56 304.19,295.72 304.88,295.84 305.58,295.92 306.28,295.97 306.98,296.01 307.67,296.04 308.37,296.05 309.07,296.06 309.76,296.07 310.46,296.07 311.16,296.08 311.86,296.08 312.56,296.08 313.25,296.08 313.95,296.08 314.65,296.08 315.34,296.08 316.04,296.08 316.74,296.08" fill="none" stroke="#808080" stroke-width="0.8" stroke-opacity="0.5"/>
<polyline points="260.94,296.07 261.64,296.07 262.33,296.06 263.03,296.05 263.73,296.03 264.43,296.01 265.12,295.97 265.82,295.92 266.52,295.84 267.22,295.73 267.92,295.58 268.61,295.37 269.31,295.09 270.01,294.72 270.7,294.23 271.4,293.59 272.1,292.79 272.8,291.78 273.5,290.54 274.19,289.03 274.89,287.24 275.59,285.15 276.29,282.74 276.98,280.03 277.68,277.02 278.38,273.75 279.07,270.29 279.77,266.68 280.47,263.03 281.17,259.43 281.87,255.99 282.56,252.81 283.26,250.02 283.96,247.72 284.65,245.98 285.35,244.89 286.05,244.49 286.75,244.78 287.44,245.76 288.14,247.4 288.84,249.62 289.54,252.34 290.24,255.46 290.93,258.87 291.63,262.45 292.33,266.1 293.02,269.72 293.72,273.21 294.42,276.51 295.12,279.56 295.81,282.33 296.51,284.78 297.21,286.93 297.91,288.77 298.61,290.31 299.3,291.59 300,292.64 300.7,293.48 301.39,294.14 302.09,294.65 302.79,295.04 303.49,295.33 304.19,295.55 304.88,295.71 305.58,295.83 306.28,295.91 306.98,295.97 307.67,296 308.37,296.03 309.07,296.05 309.76,296.06 310.46,296.07 311.16,296.07 311.86,296.08 312.56,296.08 313.25,296.08 313.95,296.08 314.65,296.08 315.34,296.08 316.04,296.08 316.74,296.08" fill="none" stroke="#E03424" stroke-width="0.8" stroke-opacity="0.72"/>
<polyline points="260.94,296.07 261.64,296.07 262.33,296.06 263.03,296.05 263.73,296.03 264.43,296.01 265.12,295.97 265.82,295.92 266.52,295.84 267.22,295.73 267.92,295.58 268.61,295.37 269.31,295.09 270.01,294.72 270.7,294.23 271.4,293.59 272.1,292.79 272.8,291.78 273.5,290.54 274.19,289.03 274.89,287.24 275.59,285.15 276.29,282.74 276.98,280.03 277.68,277.02 278.38,273.75 279.07,270.29 279.77,266.68 280.47,263.03 281.17,259.43 281.87,255.99 282.56,252.81 283.26,250.02 283.96,247.72 284.65,245.98 285.35,244.89 286.05,244.49 286.75,244.78 287.44,245.76 288.14,247.4 288.84,249.62 289.54,252.34 290.24,255.46 290.93,258.87 291.63,262.45 292.33,266.1 293.02,269.72 293.72,273.21 294.42,276.51 295.12,279.56 295.81,282.33 296.51,284.78 297.21,286.93 297.91,288.77 298.61,290.31 299.3,291.59 300,292.64 300.7,293.48 301.39,294.14 302.09,294.65 302.79,295.04 303.49,295.33 304.19,295.55 304.88,295.71 305.58,295.83 306.28,295.91 306.98,295.97 307.67,296 308.37,296.03 309.07,296.05 309.76,296.06 310.46,296.07 311.16,296.07 311.86,296.08 312.56,296.08 313.25,296.08 313.95,296.08 314.65,296.08 315.34,296.08 316.04,296.08 316.74,296.08" fill="none" stroke="#000000" stroke-width="0.6" stroke-opacity="0.45"/>
<polyline points="260.94,296.08 261.64,296.08 262.33,296.08 263.03,296.08 263.73,296.08 264.43,296.08 265.12,296.08 265.82,296.08 266.52,296.08 267.22,296.08 267.92,296.07 268.61,296.07 269.31,296.06 270.01,296.04 270.7,296.01 271.4,295.95 272.1,295.86 272.8,295.71 273.5,295.48 274.19,295.14 274.89,294.62 275.59,293.88 276.29,292.85 276.98,291.45 277.68,289.61 278.38,287.26 279.07,284.36 279.77,280.88 280.47,276.85 281.17,272.36 281.87,267.55 282.56,262.61 283.26,257.78 283.96,253.35 284.65,249.57 285.35,246.72 286.05,244.98 286.75,244.49 287.44,245.29 288.14,247.31 288.84,250.4 289.54,254.36 290.24,258.92 290.93,263.79 291.63,268.73 292.33,273.48 293.02,277.86 293.72,281.76 294.42,285.11 295.12,287.88 295.81,290.1 296.51,291.83 297.21,293.13 297.91,294.09 298.61,294.76 299.3,295.23 300,295.55 300.7,295.76 301.39,295.89 302.09,295.97 302.79,296.02 303.49,296.04 304.19,296.06 304.88,296.07 305.58,296.07 306.28,296.08 306.98,296.08 307.67,296.08 308.37,296.08 309.07,296.08 309.76,296.08 310.46,296.08 311.16,296.08 311.86,296.08 312.56,296.08 313.25,296.08 313.95,296.08 314.65,296.08 315.34,296.08 316.04,296.08 316.74,296.08" fill="none" stroke="#006FED" stroke-width="0.8" stroke-opacity="0.6"/>
</g>
<rect x="260.94" y="239.38" width="55.8" height="56.7" fill="none" stroke="#666" stroke-width="0.8"/>
<line x1="267.44" y1="296.08" x2="267.44" y2="297.48" stroke="#555" stroke-width="0.7"/>
<line x1="277.99" y1="296.08" x2="277.99" y2="297.48" stroke="#555" stroke-width="0.7"/>
<line x1="288.54" y1="296.08" x2="288.54" y2="297.48" stroke="#555" stroke-width="0.7"/>
<line x1="299.09" y1="296.08" x2="299.09" y2="297.48" stroke="#555" stroke-width="0.7"/>
<line x1="309.64" y1="296.08" x2="309.64" y2="297.48" stroke="#555" stroke-width="0.7"/>
<g clip-path="url(#c0_5_0)">
<path d="M33.87 327.63a22.13 12.73 0 1 0 44.25 0a22.13 12.73 0 1 0 -44.25 0ZM42.7 327.63a13.3 7.5 0 1 0 26.59 0a13.3 7.5 0 1 0 -26.59 0Z" fill-rule="evenodd" transform="rotate(131.47 55.99 327.63)" fill="#99d6c2" fill-opacity="0.85"/>
<ellipse cx="55.99" cy="327.63" rx="13.65" ry="7.85" transform="rotate(131.47 55.99 327.63)" fill="#009966" fill-opacity="0.85"/>
<ellipse cx="55.99" cy="327.63" rx="22.13" ry="12.73" transform="rotate(131.47 55.99 327.63)" fill="none" stroke="#009966" stroke-width="0.4" stroke-opacity="0.6"/>
<path d="M33.29 328.82a20.92 12.03 0 1 0 41.83 0a20.92 12.03 0 1 0 -41.83 0ZM41.66 328.82a12.55 7.07 0 1 0 25.1 0a12.55 7.07 0 1 0 -25.1 0Z" fill-rule="evenodd" transform="rotate(131.43 54.21 328.82)" fill="#cccccc" fill-opacity="0.85"/>
<ellipse cx="54.21" cy="328.82" rx="12.9" ry="7.42" transform="rotate(131.43 54.21 328.82)" fill="#808080" fill-opacity="0.85"/>
<ellipse cx="54.21" cy="328.82" rx="20.92" ry="12.03" transform="rotate(131.43 54.21 328.82)" fill="none" stroke="#808080" stroke-width="0.4" stroke-opacity="0.6"/>
<path d="M32.42 328.82a21.79 12.53 0 1 0 43.58 0a21.79 12.53 0 1 0 -43.58 0ZM41.12 328.82a13.09 7.38 0 1 0 26.18 0a13.09 7.38 0 1 0 -26.18 0Z" fill-rule="evenodd" transform="rotate(131.43 54.21 328.82)" fill="#f3aea7" fill-opacity="0.85"/>
<ellipse cx="54.21" cy="328.82" rx="13.44" ry="7.73" transform="rotate(131.43 54.21 328.82)" fill="#E03424" fill-opacity="0.85"/>
<ellipse cx="54.21" cy="328.82" rx="21.79" ry="12.53" transform="rotate(131.43 54.21 328.82)" fill="none" stroke="#E03424" stroke-width="0.4" stroke-opacity="0.6"/>
<path d="M37.6 329.5a16.89 12.08 0 1 0 33.77 0a16.89 12.08 0 1 0 -33.77 0ZM44.42 329.5a10.07 7.1 0 1 0 20.13 0a10.07 7.1 0 1 0 -20.13 0Z" fill-rule="evenodd" transform="rotate(146.34 54.49 329.5)" fill="#99c5f8" fill-opacity="0.85"/>
<ellipse cx="54.49" cy="329.5" rx="10.42" ry="7.45" transform="rotate(146.34 54.49 329.5)" fill="#006FED" fill-opacity="0.85"/>
<ellipse cx="54.49" cy="329.5" rx="16.89" ry="12.08" transform="rotate(146.34 54.49 329.5)" fill="none" stroke="#006FED" stroke-width="0.4" stroke-opacity="0.6"/>
<ellipse cx="54.21" cy="328.82" rx="22.01" ry="12.66" transform="rotate(131.43 54.21 328.82)" fill="none" stroke="#000000" stroke-width="0.45" stroke-opacity="0.6"/>
<ellipse cx="54.21" cy="328.82" rx="13.57" ry="7.81" transform="rotate(131.43 54.21 328.82)" fill="none" stroke="#000000" stroke-width="0.45" stroke-opacity="0.6"/>
</g>
<rect x="26.7" y="298.6" width="55.8" height="56.7" fill="none" stroke="#666" stroke-width="0.8"/>
<line x1="38.5" y1="355.3" x2="38.5" y2="356.7" stroke="#555" stroke-width="0.7"/>
<line x1="53.45" y1="355.3" x2="53.45" y2="356.7" stroke="#555" stroke-width="0.7"/>
<line x1="68.4" y1="355.3" x2="68.4" y2="356.7" stroke="#555" stroke-width="0.7"/>
<line x1="25.3" y1="344.94" x2="26.7" y2="344.94" stroke="#555" stroke-width="0.7"/>
<line x1="25.3" y1="331.96" x2="26.7" y2="331.96" stroke="#555" stroke-width="0.7"/>
<line x1="25.3" y1="318.99" x2="26.7" y2="318.99" stroke="#555" stroke-width="0.7"/>
<line x1="25.3" y1="306.02" x2="26.7" y2="306.02" stroke="#555" stroke-width="0.7"/>
<text class="tl" x="38.5" y="365.3" transform="rotate(-20 38.5 363.5)" text-anchor="middle">1.040</text>
<text class="tl" x="53.45" y="365.3" transform="rotate(-20 53.45 363.5)" text-anchor="middle">1.041</text>
<text class="tl" x="68.4" y="365.3" transform="rotate(-20 68.4 363.5)" text-anchor="middle">1.042</text>
<text class="tl" x="24.1" y="347.04" text-anchor="end">0.03</text>
<text class="tl" x="24.1" y="334.06" text-anchor="end">0.06</text>
<text class="tl" x="24.1" y="321.09" text-anchor="end">0.09</text>
<text class="tl" x="24.1" y="308.12" text-anchor="end">0.12</text>
<g clip-path="url(#c0_5_1)">
<path d="M93.99 327.63a21.96 11.69 0 1 0 43.93 0a21.96 11.69 0 1 0 -43.93 0ZM102.75 327.63a13.2 6.86 0 1 0 26.39 0a13.2 6.86 0 1 0 -26.39 0Z" fill-rule="evenodd" transform="rotate(128.93 115.95 327.63)" fill="#99d6c2" fill-opacity="0.85"/>
<ellipse cx="115.95" cy="327.63" rx="13.55" ry="7.21" transform="rotate(128.93 115.95 327.63)" fill="#009966" fill-opacity="0.85"/>
<ellipse cx="115.95" cy="327.63" rx="21.96" ry="11.69" transform="rotate(128.93 115.95 327.63)" fill="none" stroke="#009966" stroke-width="0.4" stroke-opacity="0.6"/>
<path d="M92.52 328.82a20.76 11.04 0 1 0 41.51 0a20.76 11.04 0 1 0 -41.51 0ZM100.82 328.82a12.45 6.46 0 1 0 24.9 0a12.45 6.46 0 1 0 -24.9 0Z" fill-rule="evenodd" transform="rotate(128.85 113.27 328.82)" fill="#cccccc" fill-opacity="0.85"/>
<ellipse cx="113.27" cy="328.82" rx="12.8" ry="6.81" transform="rotate(128.85 113.27 328.82)" fill="#808080" fill-opacity="0.85"/>
<ellipse cx="113.27" cy="328.82" rx="20.76" ry="11.04" transform="rotate(128.85 113.27 328.82)" fill="none" stroke="#808080" stroke-width="0.4" stroke-opacity="0.6"/>
<path d="M91.65 328.82a21.62 11.5 0 1 0 43.24 0a21.62 11.5 0 1 0 -43.24 0ZM100.29 328.82a12.99 6.74 0 1 0 25.97 0a12.99 6.74 0 1 0 -25.97 0Z" fill-rule="evenodd" transform="rotate(128.85 113.27 328.82)" fill="#f3aea7" fill-opacity="0.85"/>
<ellipse cx="113.27" cy="328.82" rx="13.34" ry="7.09" transform="rotate(128.85 113.27 328.82)" fill="#E03424" fill-opacity="0.85"/>
<ellipse cx="113.27" cy="328.82" rx="21.62" ry="11.5" transform="rotate(128.85 113.27 328.82)" fill="none" stroke="#E03424" stroke-width="0.4" stroke-opacity="0.6"/>
<path d="M97.07 329.5a16.54 10.81 0 1 0 33.08 0a16.54 10.81 0 1 0 -33.08 0ZM103.75 329.5a9.85 6.32 0 1 0 19.7 0a9.85 6.32 0 1 0 -19.7 0Z" fill-rule="evenodd" transform="rotate(137.38 113.61 329.5)" fill="#99c5f8" fill-opacity="0.85"/>
<ellipse cx="113.61" cy="329.5" rx="10.2" ry="6.67" transform="rotate(137.38 113.61 329.5)" fill="#006FED" fill-opacity="0.85"/>
<ellipse cx="113.61" cy="329.5" rx="16.54" ry="10.81" transform="rotate(137.38 113.61 329.5)" fill="none" stroke="#006FED" stroke-width="0.4" stroke-opacity="0.6"/>
<ellipse cx="113.27" cy="328.82" rx="21.84" ry="11.62" transform="rotate(128.85 113.27 328.82)" fill="none" stroke="#000000" stroke-width="0.45" stroke-opacity="0.6"/>
<ellipse cx="113.27" cy="328.82" rx="13.47" ry="7.16" transform="rotate(128.85 113.27 328.82)" fill="none" stroke="#000000" stroke-width="0.45" stroke-opacity="0.6"/>
</g>
<rect x="85.26" y="298.6" width="55.8" height="56.7" fill="none" stroke="#666" stroke-width="0.8"/>
<line x1="92.06" y1="355.3" x2="92.06" y2="356.7" stroke="#555" stroke-width="0.7"/>
<line x1="105.83" y1="355.3" x2="105.83" y2="356.7" stroke="#555" stroke-width="0.7"/>
<line x1="119.59" y1="355.3" x2="119.59" y2="356.7" stroke="#555" stroke-width="0.7"/>
<line x1="133.36" y1="355.3" x2="133.36" y2="356.7" stroke="#555" stroke-width="0.7"/>
<line x1="83.86" y1="344.94" x2="85.26" y2="344.94" stroke="#555" stroke-width="0.7"/>
<line x1="83.86" y1="331.96" x2="85.26" y2="331.96" stroke="#555" stroke-width="0.7"/>
<line x1="83.86" y1="318.99" x2="85.26" y2="318.99" stroke="#555" stroke-width="0.7"/>
<line x1="83.86" y1="306.02" x2="85.26" y2="306.02" stroke="#555" stroke-width="0.7"/>
<text class="tl" x="92.06" y="365.3" transform="rotate(-20 92.06 363.5)" text-anchor="middle">0.0215</text>
<text class="tl" x="105.83" y="365.3" transform="rotate(-20 105.83 363.5)" text-anchor="middle">0.0220</text>
<text class="tl" x="119.59" y="365.3" transform="rotate(-20 119.59 363.5)" text-anchor="middle">0.0225</text>
<text class="tl" x="133.36" y="365.3" transform="rotate(-20 133.36 363.5)" text-anchor="middle">0.0230</text>
<g clip-path="url(#c0_5_2)">
<path d="M145.19 327.63a23.18 9.28 0 1 0 46.37 0a23.18 9.28 0 1 0 -46.37 0ZM154.42 327.63a13.95 5.37 0 1 0 27.9 0a13.95 5.37 0 1 0 -27.9 0Z" fill-rule="evenodd" transform="rotate(49.34 168.37 327.63)" fill="#99d6c2" fill-opacity="0.85"/>
<ellipse cx="168.37" cy="327.63" rx="14.3" ry="5.72" transform="rotate(49.34 168.37 327.63)" fill="#009966" fill-opacity="0.85"/>
<ellipse cx="168.37" cy="327.63" rx="23.18" ry="9.28" transform="rotate(49.34 168.37 327.63)" fill="none" stroke="#009966" stroke-width="0.4" stroke-opacity="0.6"/>
<path d="M151.17 328.82a22.22 8.93 0 1 0 44.45 0a22.22 8.93 0 1 0 -44.45 0ZM160.04 328.82a13.36 5.16 0 1 0 26.71 0a13.36 5.16 0 1 0 -26.71 0Z" fill-rule="evenodd" transform="rotate(48.12 173.39 328.82)" fill="#cccccc" fill-opacity="0.85"/>
<ellipse cx="173.39" cy="328.82" rx="13.71" ry="5.51" transform="rotate(48.12 173.39 328.82)" fill="#808080" fill-opacity="0.85"/>
<ellipse cx="173.39" cy="328.82" rx="22.22" ry="8.93" transform="rotate(48.12 173.39 328.82)" fill="none" stroke="#808080" stroke-width="0.4" stroke-opacity="0.6"/>
<path d="M150.24 328.82a23.15 9.3 0 1 0 46.3 0a23.15 9.3 0 1 0 -46.3 0ZM159.47 328.82a13.93 5.39 0 1 0 27.86 0a13.93 5.39 0 1 0 -27.86 0Z" fill-rule="evenodd" transform="rotate(48.12 173.39 328.82)" fill="#f3aea7" fill-opacity="0.85"/>
<ellipse cx="173.39" cy="328.82" rx="14.28" ry="5.74" transform="rotate(48.12 173.39 328.82)" fill="#E03424" fill-opacity="0.85"/>
<ellipse cx="173.39" cy="328.82" rx="23.15" ry="9.3" transform="rotate(48.12 173.39 328.82)" fill="none" stroke="#E03424" stroke-width="0.4" stroke-opacity="0.6"/>
<path d="M157.26 329.5a15.12 8.06 0 1 0 30.25 0a15.12 8.06 0 1 0 -30.25 0ZM163.41 329.5a8.98 4.62 0 1 0 17.96 0a8.98 4.62 0 1 0 -17.96 0Z" fill-rule="evenodd" transform="rotate(60.39 172.39 329.5)" fill="#99c5f8" fill-opacity="0.85"/>
<ellipse cx="172.39" cy="329.5" rx="9.33" ry="4.97" transform="rotate(60.39 172.39 329.5)" fill="#006FED" fill-opacity="0.85"/>
<ellipse cx="172.39" cy="329.5" rx="15.12" ry="8.06" transform="rotate(60.39 172.39 329.5)" fill="none" stroke="#006FED" stroke-width="0.4" stroke-opacity="0.6"/>
<ellipse cx="173.39" cy="328.82" rx="23.38" ry="9.39" transform="rotate(48.12 173.39 328.82)" fill="none" stroke="#000000" stroke-width="0.45" stroke-opacity="0.6"/>
<ellipse cx="173.39" cy="328.82" rx="14.42" ry="5.79" transform="rotate(48.12 173.39 328.82)" fill="none" stroke="#000000" stroke-width="0.45" stroke-opacity="0.6"/>
</g>
<rect x="143.82" y="298.6" width="55.8" height="56.7" fill="none" stroke="#666" stroke-width="0.8"/>
<line x1="151.12" y1="355.3" x2="151.12" y2="356.7" stroke="#555" stroke-width="0.7"/>
<line x1="164.59" y1="355.3" x2="164.59" y2="356.7" stroke="#555" stroke-width="0.7"/>
<line x1="178.05" y1="355.3" x2="178.05" y2="356.7" stroke="#555" stroke-width="0.7"/>
<line x1="191.52" y1="355.3" x2="191.52" y2="356.7" stroke="#555" stroke-width="0.7"/>
<line x1="142.42" y1="344.94" x2="143.82" y2="344.94" stroke="#555" stroke-width="0.7"/>
<line x1="142.42" y1="331.96" x2="143.82" y2="331.96" stroke="#555" stroke-width="0.7"/>
<line x1="142.42" y1="318.99" x2="143.82" y2="318.99" stroke="#555" stroke-width="0.7"/>
<line x1="142.42" y1="306.02" x2="143.82" y2="306.02" stroke="#555" stroke-width="0.7"/>
<text class="tl" x="151.12" y="365.3" transform="rotate(-20 151.12 363.5)" text-anchor="middle">0.112</text>
<text class="tl" x="164.59" y="365.3" transform="rotate(-20 164.59 363.5)" text-anchor="middle">0.116</text>
<text class="tl" x="178.05" y="365.3" transform="rotate(-20 178.05 363.5)" text-anchor="middle">0.120</text>
<text class="tl" x="191.52" y="365.3" transform="rotate(-20 191.52 363.5)" text-anchor="middle">0.124</text>
<g clip-path="url(#c0_5_3)">
<path d="M208.85 327.63a24.5 2.31 0 1 0 49 0a24.5 2.31 0 1 0 -49 0ZM218.59 327.63a14.76 1.08 0 1 0 29.52 0a14.76 1.08 0 1 0 -29.52 0Z" fill-rule="evenodd" transform="rotate(130.84 233.35 327.63)" fill="#99d6c2" fill-opacity="0.85"/>
<ellipse cx="233.35" cy="327.63" rx="15.11" ry="1.43" transform="rotate(130.84 233.35 327.63)" fill="#009966" fill-opacity="0.85"/>
<ellipse cx="233.35" cy="327.63" rx="24.5" ry="2.31" transform="rotate(130.84 233.35 327.63)" fill="none" stroke="#009966" stroke-width="0.4" stroke-opacity="0.6"/>
<path d="M209.58 328.82a23.32 2.2 0 1 0 46.64 0a23.32 2.2 0 1 0 -46.64 0ZM218.87 328.82a14.03 1.01 0 1 0 28.07 0a14.03 1.01 0 1 0 -28.07 0Z" fill-rule="evenodd" transform="rotate(131.27 232.9 328.82)" fill="#cccccc" fill-opacity="0.85"/>
<ellipse cx="232.9" cy="328.82" rx="14.38" ry="1.36" transform="rotate(131.27 232.9 328.82)" fill="#808080" fill-opacity="0.85"/>
<ellipse cx="232.9" cy="328.82" rx="23.32" ry="2.2" transform="rotate(131.27 232.9 328.82)" fill="none" stroke="#808080" stroke-width="0.4" stroke-opacity="0.6"/>
<path d="M208.61 328.82a24.29 2.3 0 1 0 48.58 0a24.29 2.3 0 1 0 -48.58 0ZM218.27 328.82a14.63 1.07 0 1 0 29.26 0a14.63 1.07 0 1 0 -29.26 0Z" fill-rule="evenodd" transform="rotate(131.27 232.9 328.82)" fill="#f3aea7" fill-opacity="0.85"/>
<ellipse cx="232.9" cy="328.82" rx="14.98" ry="1.42" transform="rotate(131.27 232.9 328.82)" fill="#E03424" fill-opacity="0.85"/>
<ellipse cx="232.9" cy="328.82" rx="24.29" ry="2.3" transform="rotate(131.27 232.9 328.82)" fill="none" stroke="#E03424" stroke-width="0.4" stroke-opacity="0.6"/>
<path d="M214.17 329.5a18.9 1.9 0 1 0 37.79 0a18.9 1.9 0 1 0 -37.79 0ZM221.77 329.5a11.3 0.82 0 1 0 22.61 0a11.3 0.82 0 1 0 -22.61 0Z" fill-rule="evenodd" transform="rotate(133.63 233.07 329.5)" fill="#99c5f8" fill-opacity="0.85"/>
<ellipse cx="233.07" cy="329.5" rx="11.65" ry="1.17" transform="rotate(133.63 233.07 329.5)" fill="#006FED" fill-opacity="0.85"/>
<ellipse cx="233.07" cy="329.5" rx="18.9" ry="1.9" transform="rotate(133.63 233.07 329.5)" fill="none" stroke="#006FED" stroke-width="0.4" stroke-opacity="0.6"/>
<ellipse cx="232.9" cy="328.82" rx="24.53" ry="2.32" transform="rotate(131.27 232.9 328.82)" fill="none" stroke="#000000" stroke-width="0.45" stroke-opacity="0.6"/>
<ellipse cx="232.9" cy="328.82" rx="15.13" ry="1.43" transform="rotate(131.27 232.9 328.82)" fill="none" stroke="#000000" stroke-width="0.45" stroke-opacity="0.6"/>
</g>
<rect x="202.38" y="298.6" width="55.8" height="56.7" fill="none" stroke="#666" stroke-width="0.8"/>
<line x1="208.88" y1="355.3" x2="208.88" y2="356.7" stroke="#555" stroke-width="0.7"/>
<line x1="219.43" y1="355.3" x2="219.43" y2="356.7" stroke="#555" stroke-width="0.7"/>
<line x1="229.98" y1="355.3" x2="229.98" y2="356.7" stroke="#555" stroke-width="0.7"/>
<line x1="240.53" y1="355.3" x2="240.53" y2="356.7" stroke="#555" stroke-width="0.7"/>
<line x1="251.08" y1="355.3" x2="251.08" y2="356.7" stroke="#555" stroke-width="0.7"/>
<line x1="200.98" y1="344.94" x2="202.38" y2="344.94" stroke="#555" stroke-width="0.7"/>
<line x1="200.98" y1="331.96" x2="202.38" y2="331.96" stroke="#555" stroke-width="0.7"/>
<line x1="200.98" y1="318.99" x2="202.38" y2="318.99" stroke="#555" stroke-width="0.7"/>
<line x1="200.98" y1="306.02" x2="202.38" y2="306.02" stroke="#555" stroke-width="0.7"/>
<text class="tl" x="208.88" y="365.3" transform="rotate(-20 208.88 363.5)" text-anchor="middle">2.95</text>
<text class="tl" x="219.43" y="365.3" transform="rotate(-20 219.43 363.5)" text-anchor="middle">3.00</text>
<text class="tl" x="229.98" y="365.3" transform="rotate(-20 229.98 363.5)" text-anchor="middle">3.05</text>
<text class="tl" x="240.53" y="365.3" transform="rotate(-20 240.53 363.5)" text-anchor="middle">3.10</text>
<text class="tl" x="251.08" y="365.3" transform="rotate(-20 251.08 363.5)" text-anchor="middle">3.15</text>
<g clip-path="url(#c0_5_4)">
<path d="M266.44 327.63a22.9 8.51 0 1 0 45.8 0a22.9 8.51 0 1 0 -45.8 0ZM275.57 327.63a13.77 4.9 0 1 0 27.55 0a13.77 4.9 0 1 0 -27.55 0Z" fill-rule="evenodd" transform="rotate(128.94 289.34 327.63)" fill="#99d6c2" fill-opacity="0.85"/>
<ellipse cx="289.34" cy="327.63" rx="14.12" ry="5.25" transform="rotate(128.94 289.34 327.63)" fill="#009966" fill-opacity="0.85"/>
<ellipse cx="289.34" cy="327.63" rx="22.9" ry="8.51" transform="rotate(128.94 289.34 327.63)" fill="none" stroke="#009966" stroke-width="0.4" stroke-opacity="0.6"/>
<path d="M264.67 328.82a21.94 8.2 0 1 0 43.88 0a21.94 8.2 0 1 0 -43.88 0ZM273.43 328.82a13.18 4.71 0 1 0 26.36 0a13.18 4.71 0 1 0 -26.36 0Z" fill-rule="evenodd" transform="rotate(130.14 286.61 328.82)" fill="#cccccc" fill-opacity="0.85"/>
<ellipse cx="286.61" cy="328.82" rx="13.53" ry="5.06" transform="rotate(130.14 286.61 328.82)" fill="#808080" fill-opacity="0.85"/>
<ellipse cx="286.61" cy="328.82" rx="21.94" ry="8.2" transform="rotate(130.14 286.61 328.82)" fill="none" stroke="#808080" stroke-width="0.4" stroke-opacity="0.6"/>
<path d="M263.75 328.82a22.85 8.54 0 1 0 45.71 0a22.85 8.54 0 1 0 -45.71 0ZM272.86 328.82a13.75 4.92 0 1 0 27.49 0a13.75 4.92 0 1 0 -27.49 0Z" fill-rule="evenodd" transform="rotate(130.14 286.61 328.82)" fill="#f3aea7" fill-opacity="0.85"/>
<ellipse cx="286.61" cy="328.82" rx="14.1" ry="5.27" transform="rotate(130.14 286.61 328.82)" fill="#E03424" fill-opacity="0.85"/>
<ellipse cx="286.61" cy="328.82" rx="22.85" ry="8.54" transform="rotate(130.14 286.61 328.82)" fill="none" stroke="#E03424" stroke-width="0.4" stroke-opacity="0.6"/>
<path d="M270.59 329.5a16.13 8.55 0 1 0 32.26 0a16.13 8.55 0 1 0 -32.26 0ZM277.12 329.5a9.6 4.92 0 1 0 19.19 0a9.6 4.92 0 1 0 -19.19 0Z" fill-rule="evenodd" transform="rotate(128.14 286.72 329.5)" fill="#99c5f8" fill-opacity="0.85"/>
<ellipse cx="286.72" cy="329.5" rx="9.95" ry="5.27" transform="rotate(128.14 286.72 329.5)" fill="#006FED" fill-opacity="0.85"/>
<ellipse cx="286.72" cy="329.5" rx="16.13" ry="8.55" transform="rotate(128.14 286.72 329.5)" fill="none" stroke="#006FED" stroke-width="0.4" stroke-opacity="0.6"/>
<ellipse cx="286.61" cy="328.82" rx="23.08" ry="8.63" transform="rotate(130.14 286.61 328.82)" fill="none" stroke="#000000" stroke-width="0.45" stroke-opacity="0.6"/>
<ellipse cx="286.61" cy="328.82" rx="14.24" ry="5.32" transform="rotate(130.14 286.61 328.82)" fill="none" stroke="#000000" stroke-width="0.45" stroke-opacity="0.6"/>
</g>
<rect x="260.94" y="298.6" width="55.8" height="56.7" fill="none" stroke="#666" stroke-width="0.8"/>
<line x1="267.44" y1="355.3" x2="267.44" y2="356.7" stroke="#555" stroke-width="0.7"/>
<line x1="277.99" y1="355.3" x2="277.99" y2="356.7" stroke="#555" stroke-width="0.7"/>
<line x1="288.54" y1="355.3" x2="288.54" y2="356.7" stroke="#555" stroke-width="0.7"/>
<line x1="299.09" y1="355.3" x2="299.09" y2="356.7" stroke="#555" stroke-width="0.7"/>
<line x1="309.64" y1="355.3" x2="309.64" y2="356.7" stroke="#555" stroke-width="0.7"/>
<line x1="259.54" y1="344.94" x2="260.94" y2="344.94" stroke="#555" stroke-width="0.7"/>
<line x1="259.54" y1="331.96" x2="260.94" y2="331.96" stroke="#555" stroke-width="0.7"/>
<line x1="259.54" y1="318.99" x2="260.94" y2="318.99" stroke="#555" stroke-width="0.7"/>
<line x1="259.54" y1="306.02" x2="260.94" y2="306.02" stroke="#555" stroke-width="0.7"/>
<text class="tl" x="267.44" y="365.3" transform="rotate(-20 267.44 363.5)" text-anchor="middle">0.95</text>
<text class="tl" x="277.99" y="365.3" transform="rotate(-20 277.99 363.5)" text-anchor="middle">0.96</text>
<text class="tl" x="288.54" y="365.3" transform="rotate(-20 288.54 363.5)" text-anchor="middle">0.97</text>
<text class="tl" x="299.09" y="365.3" transform="rotate(-20 299.09 363.5)" text-anchor="middle">0.98</text>
<text class="tl" x="309.64" y="365.3" transform="rotate(-20 309.64 363.5)" text-anchor="middle">0.99</text>
<g clip-path="url(#c0_5_5)">
<polyline points="319.5,355.26 320.2,355.24 320.89,355.22 321.59,355.18 322.29,355.14 322.99,355.07 323.69,354.99 324.38,354.87 325.08,354.73 325.78,354.54 326.48,354.29 327.17,353.98 327.87,353.59 328.57,353.1 329.26,352.5 329.96,351.77 330.66,350.9 331.36,349.86 332.06,348.64 332.75,347.22 333.45,345.6 334.15,343.76 334.85,341.7 335.54,339.42 336.24,336.94 336.94,334.27 337.63,331.45 338.33,328.5 339.03,325.47 339.73,322.42 340.43,319.39 341.12,316.47 341.82,313.7 342.52,311.16 343.21,308.9 343.91,307 344.61,305.49 345.31,304.43 346,303.83 346.7,303.72 347.4,304.1 348.1,304.97 348.8,306.28 349.49,308.02 350.19,310.13 350.89,312.55 351.58,315.23 352.28,318.09 352.98,321.08 353.68,324.13 354.38,327.17 355.07,330.16 355.77,333.05 356.47,335.79 357.17,338.35 357.86,340.72 358.56,342.88 359.26,344.81 359.95,346.53 360.65,348.04 361.35,349.35 362.05,350.46 362.75,351.41 363.44,352.2 364.14,352.85 364.84,353.38 365.53,353.82 366.23,354.16 366.93,354.43 367.63,354.65 368.32,354.81 369.02,354.94 369.72,355.04 370.42,355.11 371.12,355.16 371.81,355.2 372.51,355.23 373.21,355.25 373.9,355.27 374.6,355.28 375.3,355.28" fill="none" stroke="#009966" stroke-width="0.8" stroke-opacity="0.6"/>
<polyline points="319.5,355.28 320.2,355.28 320.89,355.26 321.59,355.25 322.29,355.22 322.99,355.18 323.69,355.13 324.38,355.05 325.08,354.95 325.78,354.81 326.48,354.62 327.17,354.36 327.87,354.03 328.57,353.6 329.26,353.05 329.96,352.36 330.66,351.51 331.36,350.46 332.06,349.19 332.75,347.69 333.45,345.93 334.15,343.9 334.85,341.59 335.54,339.02 336.24,336.19 336.94,333.13 337.63,329.9 338.33,326.54 339.03,323.12 339.73,319.72 340.43,316.43 341.12,313.35 341.82,310.56 342.52,308.15 343.21,306.2 343.91,304.78 344.61,303.94 345.31,303.71 346,304.09 346.7,305.07 347.4,306.62 348.1,308.69 348.8,311.2 349.49,314.07 350.19,317.21 350.89,320.53 351.58,323.94 352.28,327.35 352.98,330.69 353.68,333.88 354.38,336.89 355.07,339.66 355.77,342.17 356.47,344.41 357.17,346.37 357.86,348.07 358.56,349.52 359.26,350.73 359.95,351.73 360.65,352.54 361.35,353.2 362.05,353.71 362.75,354.12 363.44,354.43 364.14,354.67 364.84,354.85 365.53,354.98 366.23,355.07 366.93,355.14 367.63,355.19 368.32,355.23 369.02,355.25 369.72,355.27 370.42,355.28 371.12,355.29 371.81,355.29 372.51,355.29 373.21,355.3 373.9,355.3 374.6,355.3 375.3,355.3" fill="none" stroke="#808080" stroke-width="0.8" stroke-opacity="0.5"/>
<polyline points="319.5,355.27 320.2,355.26 320.89,355.24 321.59,355.21 322.29,355.17 322.99,355.11 323.69,355.03 324.38,354.93 325.08,354.78 325.78,354.59 326.48,354.34 327.17,354.02 327.87,353.6 328.57,353.08 329.26,352.43 329.96,351.62 330.66,350.64 331.36,349.47 332.06,348.08 332.75,346.46 333.45,344.59 334.15,342.46 334.85,340.09 335.54,337.47 336.24,334.64 336.94,331.62 337.63,328.45 338.33,325.19 339.03,321.9 339.73,318.67 340.43,315.56 341.12,312.66 341.82,310.06 342.52,307.82 343.21,306.01 343.91,304.7 344.61,303.92 345.31,303.71 346,304.06 346.7,304.97 347.4,306.4 348.1,308.32 348.8,310.65 349.49,313.34 350.19,316.29 350.89,319.44 351.58,322.69 352.28,325.97 352.98,329.22 353.68,332.36 354.38,335.34 355.07,338.12 355.77,340.68 356.47,343 357.17,345.06 357.86,346.87 358.56,348.43 359.26,349.77 359.95,350.9 360.65,351.83 361.35,352.6 362.05,353.22 362.75,353.71 363.44,354.1 364.14,354.41 364.84,354.64 365.53,354.82 366.23,354.95 366.93,355.05 367.63,355.13 368.32,355.18 369.02,355.22 369.72,355.24 370.42,355.26 371.12,355.27 371.81,355.28 372.51,355.29 373.21,355.29 373.9,355.3 374.6,355.3 375.3,355.3" fill="none" stroke="#E03424" stroke-width="0.8" stroke-opacity="0.72"/>
<polyline points="319.5,355.27 320.2,355.26 320.89,355.24 321.59,355.21 322.29,355.17 322.99,355.11 323.69,355.03 324.38,354.93 325.08,354.78 325.78,354.59 326.48,354.34 327.17,354.02 327.87,353.6 328.57,353.08 329.26,352.43 329.96,351.62 330.66,350.64 331.36,349.47 332.06,348.08 332.75,346.46 333.45,344.59 334.15,342.46 334.85,340.09 335.54,337.47 336.24,334.64 336.94,331.62 337.63,328.45 338.33,325.19 339.03,321.9 339.73,318.67 340.43,315.56 341.12,312.66 341.82,310.06 342.52,307.82 343.21,306.01 343.91,304.7 344.61,303.92 345.31,303.71 346,304.06 346.7,304.97 347.4,306.4 348.1,308.32 348.8,310.65 349.49,313.34 350.19,316.29 350.89,319.44 351.58,322.69 352.28,325.97 352.98,329.22 353.68,332.36 354.38,335.34 355.07,338.12 355.77,340.68 356.47,343 357.17,345.06 357.86,346.87 358.56,348.43 359.26,349.77 359.95,350.9 360.65,351.83 361.35,352.6 362.05,353.22 362.75,353.71 363.44,354.1 364.14,354.41 364.84,354.64 365.53,354.82 366.23,354.95 366.93,355.05 367.63,355.13 368.32,355.18 369.02,355.22 369.72,355.24 370.42,355.26 371.12,355.27 371.81,355.28 372.51,355.29 373.21,355.29 373.9,355.3 374.6,355.3 375.3,355.3" fill="none" stroke="#000000" stroke-width="0.6" stroke-opacity="0.45"/>
<polyline points="319.5,355.3 320.2,355.3 320.89,355.3 321.59,355.3 322.29,355.3 322.99,355.29 323.69,355.29 324.38,355.28 325.08,355.26 325.78,355.23 326.48,355.2 327.17,355.13 327.87,355.04 328.57,354.91 329.26,354.71 329.96,354.43 330.66,354.04 331.36,353.5 332.06,352.78 332.75,351.84 333.45,350.63 334.15,349.1 334.85,347.22 335.54,344.95 336.24,342.28 336.94,339.21 337.63,335.76 338.33,331.99 339.03,327.98 339.73,323.84 340.43,319.71 341.12,315.74 341.82,312.09 342.52,308.94 343.21,306.43 343.91,304.69 344.61,303.81 345.31,303.83 346,304.75 346.7,306.52 347.4,309.06 348.1,312.23 348.8,315.89 349.49,319.87 350.19,324 350.89,328.14 351.58,332.15 352.28,335.91 352.98,339.34 353.68,342.4 354.38,345.05 355.07,347.3 355.77,349.17 356.47,350.68 357.17,351.88 357.86,352.81 358.56,353.52 359.26,354.05 359.95,354.44 360.65,354.72 361.35,354.91 362.05,355.05 362.75,355.14 363.44,355.2 364.14,355.24 364.84,355.26 365.53,355.28 366.23,355.29 366.93,355.29 367.63,355.3 368.32,355.3 369.02,355.3 369.72,355.3 370.42,355.3 371.12,355.3 371.81,355.3 372.51,355.3 373.21,355.3 373.9,355.3 374.6,355.3 375.3,355.3" fill="none" stroke="#006FED" stroke-width="0.8" stroke-opacity="0.6"/>
</g>
<rect x="319.5" y="298.6" width="55.8" height="56.7" fill="none" stroke="#666" stroke-width="0.8"/>
<line x1="329.7" y1="355.3" x2="329.7" y2="356.7" stroke="#555" stroke-width="0.7"/>
<line x1="342.47" y1="355.3" x2="342.47" y2="356.7" stroke="#555" stroke-width="0.7"/>
<line x1="355.23" y1="355.3" x2="355.23" y2="356.7" stroke="#555" stroke-width="0.7"/>
<line x1="368" y1="355.3" x2="368" y2="356.7" stroke="#555" stroke-width="0.7"/>
<text class="tl" x="329.7" y="365.3" transform="rotate(-20 329.7 363.5)" text-anchor="middle">0.03</text>
<text class="tl" x="342.47" y="365.3" transform="rotate(-20 342.47 363.5)" text-anchor="middle">0.06</text>
<text class="tl" x="355.23" y="365.3" transform="rotate(-20 355.23 363.5)" text-anchor="middle">0.09</text>
<text class="tl" x="368" y="365.3" transform="rotate(-20 368 363.5)" text-anchor="middle">0.12</text>
<text class="al" x="54.6" y="373.8" text-anchor="middle">100<tspan font-style="italic">θ</tspan><tspan font-size="70%" dy="1.3" font-style="italic">MC</tspan></text>
<text class="al" x="113.16" y="373.8" text-anchor="middle">Ω<tspan font-size="70%" dy="1.3">b</tspan><tspan dy="-1.3" font-style="italic">h</tspan><tspan font-size="70%" dy="-2.2">2</tspan></text>
<text class="al" x="171.72" y="373.8" text-anchor="middle">Ω<tspan font-size="70%" dy="1.3">c</tspan><tspan dy="-1.3" font-style="italic">h</tspan><tspan font-size="70%" dy="-2.2">2</tspan></text>
<text class="al" x="230.28" y="373.8" text-anchor="middle">ln(10<tspan font-size="70%" dy="-2.4">10</tspan><tspan dy="2.4" font-style="italic">A</tspan><tspan font-size="70%" dy="1.3">s</tspan><tspan dy="-1.3">)</tspan></text>
<text class="al" x="288.84" y="373.8" text-anchor="middle"><tspan font-style="italic">n</tspan><tspan font-size="70%" dy="1.3">s</tspan></text>
<text class="al" x="347.4" y="373.8" text-anchor="middle"><tspan font-style="italic">τ</tspan></text>
<text class="al" x="5.3" y="90.07" transform="rotate(-90 5.3 90.07)" text-anchor="middle">Ω<tspan font-size="70%" dy="1.3">b</tspan><tspan dy="-1.3" font-style="italic">h</tspan><tspan font-size="70%" dy="-2.2">2</tspan></text>
<text class="al" x="8" y="149.29" transform="rotate(-90 8 149.29)" text-anchor="middle">Ω<tspan font-size="70%" dy="1.3">c</tspan><tspan dy="-1.3" font-style="italic">h</tspan><tspan font-size="70%" dy="-2.2">2</tspan></text>
<text class="al" x="10.2" y="208.51" transform="rotate(-90 10.2 208.51)" text-anchor="middle">ln(10<tspan font-size="70%" dy="-2.4">10</tspan><tspan dy="2.4" font-style="italic">A</tspan><tspan font-size="70%" dy="1.3">s</tspan><tspan dy="-1.3">)</tspan></text>
<text class="al" x="10.6" y="267.73" transform="rotate(-90 10.6 267.73)" text-anchor="middle"><tspan font-style="italic">n</tspan><tspan font-size="70%" dy="1.3">s</tspan></text>
<text class="al" x="11.6" y="326.95" transform="rotate(-90 11.6 326.95)" text-anchor="middle"><tspan font-style="italic">τ</tspan></text>
<rect x="126.4" y="0.3" width="125.2" height="51.8" rx="1.5" fill="#fff" fill-opacity="0.8" stroke="#d0d0d0" stroke-width="0.7"/>
<line x1="129" y1="5.5" x2="143.6" y2="5.5" stroke="#9a9a9a" stroke-width="0.8"/>
<text x="149.1" y="7.8" font-family="Liberation Sans, sans-serif" font-size="6.95" fill="#1a1a1a" stroke="#1a1a1a" stroke-width="0.22">Flat TT+lowP+lensing</text>
<rect x="129" y="13.05" width="14.6" height="5.1" fill="#009966" fill-opacity="0.85"/>
<text x="149.1" y="17.9" font-family="Liberation Sans, sans-serif" font-size="6.95" fill="#1a1a1a" stroke="#1a1a1a" stroke-width="0.22">Flat TT+lowP+lensing+<tspan dx="1.2" font-family="Liberation Serif, serif" font-style="italic" font-size="7.6">f</tspan><tspan dx="1.6" font-family="Liberation Serif, serif" font-style="italic" font-size="7.6">σ</tspan><tspan dx="0.6" font-family="Liberation Serif, serif" font-size="5.2" dy="1.4">8</tspan><tspan dy="-1.4"></tspan></text>
<rect x="129" y="23.15" width="14.6" height="5.1" fill="#808080" fill-opacity="0.85"/>
<text x="149.1" y="28" font-family="Liberation Sans, sans-serif" font-size="6.95" fill="#1a1a1a" stroke="#1a1a1a" stroke-width="0.22">Flat TT+lowP+lensing+JLA</text>
<rect x="129" y="33.45" width="14.6" height="5.1" fill="#E03424" fill-opacity="0.85"/>
<text x="149.1" y="38.3" font-family="Liberation Sans, sans-serif" font-size="6.95" fill="#1a1a1a" stroke="#1a1a1a" stroke-width="0.22">Flat TT+lowP+lensing+<tspan dx="1.1" font-family="Liberation Serif, serif" font-size="7.6" font-style="italic">H</tspan><tspan font-family="Liberation Serif, serif" font-size="7.6" dx="1.2">(</tspan><tspan font-family="Liberation Serif, serif" font-size="7.6" font-style="italic" dx="0.9">z</tspan><tspan font-family="Liberation Serif, serif" font-size="7.6" dx="0.8">)</tspan></text>
<rect x="129" y="43.65" width="14.6" height="5.1" fill="#006FED" fill-opacity="0.85"/>
<text x="149.1" y="48.5" font-family="Liberation Sans, sans-serif" font-size="6.95" fill="#1a1a1a" stroke="#1a1a1a" stroke-width="0.22">Flat TT+lowP+lensing+NewBAO</text>
<g clip-path="url(#c1_0_0)">
<polyline points="411.6,59.18 412.3,59.17 413,59.16 413.69,59.14 414.39,59.12 415.09,59.08 415.79,59.03 416.48,58.97 417.18,58.88 417.88,58.77 418.58,58.61 419.27,58.41 419.97,58.16 420.67,57.83 421.37,57.42 422.06,56.91 422.76,56.28 423.46,55.52 424.16,54.6 424.85,53.5 425.55,52.22 426.25,50.73 426.95,49.02 427.64,47.09 428.34,44.93 429.04,42.55 429.74,39.96 430.43,37.2 431.13,34.28 431.83,31.25 432.53,28.15 433.22,25.06 433.92,22.02 434.62,19.11 435.31,16.39 436.01,13.94 436.71,11.82 437.41,10.08 438.11,8.77 438.8,7.94 439.5,7.61 440.2,7.78 440.9,8.46 441.59,9.61 442.29,11.21 442.99,13.22 443.69,15.57 444.38,18.21 445.08,21.07 445.78,24.08 446.48,27.16 447.17,30.26 447.87,33.32 448.57,36.28 449.27,39.1 449.96,41.74 450.66,44.19 451.36,46.42 452.06,48.42 452.75,50.2 453.45,51.76 454.15,53.11 454.85,54.27 455.54,55.24 456.24,56.05 456.94,56.72 457.63,57.27 458.33,57.71 459.03,58.06 459.73,58.34 460.43,58.55 461.12,58.72 461.82,58.85 462.52,58.94 463.22,59.02 463.91,59.07 464.61,59.11 465.31,59.14 466,59.16 466.7,59.17 467.4,59.18" fill="none" stroke="#808080" stroke-width="0.8" stroke-opacity="0.5"/>
<polyline points="411.6,59.18 412.3,59.17 413,59.16 413.69,59.14 414.39,59.12 415.09,59.08 415.79,59.03 416.48,58.97 417.18,58.88 417.88,58.77 418.58,58.61 419.27,58.41 419.97,58.16 420.67,57.83 421.37,57.42 422.06,56.91 422.76,56.28 423.46,55.52 424.16,54.6 424.85,53.5 425.55,52.22 426.25,50.73 426.95,49.02 427.64,47.09 428.34,44.93 429.04,42.55 429.74,39.96 430.43,37.2 431.13,34.28 431.83,31.25 432.53,28.15 433.22,25.06 433.92,22.02 434.62,19.11 435.31,16.39 436.01,13.94 436.71,11.82 437.41,10.08 438.11,8.77 438.8,7.94 439.5,7.61 440.2,7.78 440.9,8.46 441.59,9.61 442.29,11.21 442.99,13.22 443.69,15.57 444.38,18.21 445.08,21.07 445.78,24.08 446.48,27.16 447.17,30.26 447.87,33.32 448.57,36.28 449.27,39.1 449.96,41.74 450.66,44.19 451.36,46.42 452.06,48.42 452.75,50.2 453.45,51.76 454.15,53.11 454.85,54.27 455.54,55.24 456.24,56.05 456.94,56.72 457.63,57.27 458.33,57.71 459.03,58.06 459.73,58.34 460.43,58.55 461.12,58.72 461.82,58.85 462.52,58.94 463.22,59.02 463.91,59.07 464.61,59.11 465.31,59.14 466,59.16 466.7,59.17 467.4,59.18" fill="none" stroke="#E03424" stroke-width="0.8" stroke-opacity="0.6"/>
<polyline points="411.6,59.18 412.3,59.17 413,59.16 413.69,59.14 414.39,59.12 415.09,59.08 415.79,59.03 416.48,58.97 417.18,58.88 417.88,58.77 418.58,58.61 419.27,58.41 419.97,58.16 420.67,57.83 421.37,57.42 422.06,56.91 422.76,56.28 423.46,55.52 424.16,54.6 424.85,53.5 425.55,52.22 426.25,50.73 426.95,49.02 427.64,47.09 428.34,44.93 429.04,42.55 429.74,39.96 430.43,37.2 431.13,34.28 431.83,31.25 432.53,28.15 433.22,25.06 433.92,22.02 434.62,19.11 435.31,16.39 436.01,13.94 436.71,11.82 437.41,10.08 438.11,8.77 438.8,7.94 439.5,7.61 440.2,7.78 440.9,8.46 441.59,9.61 442.29,11.21 442.99,13.22 443.69,15.57 444.38,18.21 445.08,21.07 445.78,24.08 446.48,27.16 447.17,30.26 447.87,33.32 448.57,36.28 449.27,39.1 449.96,41.74 450.66,44.19 451.36,46.42 452.06,48.42 452.75,50.2 453.45,51.76 454.15,53.11 454.85,54.27 455.54,55.24 456.24,56.05 456.94,56.72 457.63,57.27 458.33,57.71 459.03,58.06 459.73,58.34 460.43,58.55 461.12,58.72 461.82,58.85 462.52,58.94 463.22,59.02 463.91,59.07 464.61,59.11 465.31,59.14 466,59.16 466.7,59.17 467.4,59.18" fill="none" stroke="#000000" stroke-width="0.6" stroke-opacity="0.45"/>
<polyline points="411.6,59.18 412.3,59.17 413,59.16 413.69,59.14 414.39,59.12 415.09,59.08 415.79,59.03 416.48,58.97 417.18,58.88 417.88,58.77 418.58,58.61 419.27,58.41 419.97,58.16 420.67,57.83 421.37,57.42 422.06,56.91 422.76,56.28 423.46,55.52 424.16,54.6 424.85,53.5 425.55,52.22 426.25,50.73 426.95,49.02 427.64,47.09 428.34,44.93 429.04,42.55 429.74,39.96 430.43,37.2 431.13,34.28 431.83,31.25 432.53,28.15 433.22,25.06 433.92,22.02 434.62,19.11 435.31,16.39 436.01,13.94 436.71,11.82 437.41,10.08 438.11,8.77 438.8,7.94 439.5,7.61 440.2,7.78 440.9,8.46 441.59,9.61 442.29,11.21 442.99,13.22 443.69,15.57 444.38,18.21 445.08,21.07 445.78,24.08 446.48,27.16 447.17,30.26 447.87,33.32 448.57,36.28 449.27,39.1 449.96,41.74 450.66,44.19 451.36,46.42 452.06,48.42 452.75,50.2 453.45,51.76 454.15,53.11 454.85,54.27 455.54,55.24 456.24,56.05 456.94,56.72 457.63,57.27 458.33,57.71 459.03,58.06 459.73,58.34 460.43,58.55 461.12,58.72 461.82,58.85 462.52,58.94 463.22,59.02 463.91,59.07 464.61,59.11 465.31,59.14 466,59.16 466.7,59.17 467.4,59.18" fill="none" stroke="#006FED" stroke-width="0.85" stroke-opacity="0.6"/>
</g>
<rect x="411.6" y="2.5" width="55.8" height="56.7" fill="none" stroke="#666" stroke-width="0.8"/>
<line x1="421.6" y1="59.2" x2="421.6" y2="60.6" stroke="#555" stroke-width="0.7"/>
<line x1="439" y1="59.2" x2="439" y2="60.6" stroke="#555" stroke-width="0.7"/>
<line x1="456.4" y1="59.2" x2="456.4" y2="60.6" stroke="#555" stroke-width="0.7"/>
<g clip-path="url(#c1_1_0)">
<path d="M420.68 88.2a19.49 14.25 0 1 0 38.99 0a19.49 14.25 0 1 0 -38.99 0ZM428.5 88.2a11.67 8.44 0 1 0 23.35 0a11.67 8.44 0 1 0 -23.35 0Z" fill-rule="evenodd" transform="rotate(139.6 440.17 88.2)" fill="#cccccc" fill-opacity="0.85"/>
<ellipse cx="440.17" cy="88.2" rx="12.02" ry="8.79" transform="rotate(139.6 440.17 88.2)" fill="#808080" fill-opacity="0.85"/>
<ellipse cx="440.17" cy="88.2" rx="19.49" ry="14.25" transform="rotate(139.6 440.17 88.2)" fill="none" stroke="#808080" stroke-width="0.4" stroke-opacity="0.6"/>
<path d="M420.29 89.05a19.49 14.25 0 1 0 38.99 0a19.49 14.25 0 1 0 -38.99 0ZM428.11 89.05a11.67 8.44 0 1 0 23.35 0a11.67 8.44 0 1 0 -23.35 0Z" fill-rule="evenodd" transform="rotate(139.6 439.78 89.05)" fill="#f3aea7" fill-opacity="0.85"/>
<ellipse cx="439.78" cy="89.05" rx="12.02" ry="8.79" transform="rotate(139.6 439.78 89.05)" fill="#E03424" fill-opacity="0.85"/>
<ellipse cx="439.78" cy="89.05" rx="19.49" ry="14.25" transform="rotate(139.6 439.78 89.05)" fill="none" stroke="#E03424" stroke-width="0.4" stroke-opacity="0.6"/>
<path d="M420.68 88.2a19.49 14.25 0 1 0 38.99 0a19.49 14.25 0 1 0 -38.99 0ZM428.5 88.2a11.67 8.44 0 1 0 23.35 0a11.67 8.44 0 1 0 -23.35 0Z" fill-rule="evenodd" transform="rotate(139.6 440.17 88.2)" fill="#99c5f8" fill-opacity="0.85"/>
<ellipse cx="440.17" cy="88.2" rx="12.02" ry="8.79" transform="rotate(139.6 440.17 88.2)" fill="#006FED" fill-opacity="0.85"/>
<ellipse cx="440.17" cy="88.2" rx="19.49" ry="14.25" transform="rotate(139.6 440.17 88.2)" fill="none" stroke="#006FED" stroke-width="0.4" stroke-opacity="0.6"/>
<ellipse cx="439.78" cy="89.05" rx="19.49" ry="14.25" transform="rotate(139.6 439.78 89.05)" fill="none" stroke="#000000" stroke-width="0.45" stroke-opacity="0.6"/>
<ellipse cx="439.78" cy="89.05" rx="12.02" ry="8.79" transform="rotate(139.6 439.78 89.05)" fill="none" stroke="#000000" stroke-width="0.45" stroke-opacity="0.6"/>
</g>
<rect x="411.6" y="61.72" width="55.8" height="56.7" fill="none" stroke="#666" stroke-width="0.8"/>
<line x1="421.6" y1="118.42" x2="421.6" y2="119.82" stroke="#555" stroke-width="0.7"/>
<line x1="439" y1="118.42" x2="439" y2="119.82" stroke="#555" stroke-width="0.7"/>
<line x1="456.4" y1="118.42" x2="456.4" y2="119.82" stroke="#555" stroke-width="0.7"/>
<line x1="410.2" y1="111.71" x2="411.6" y2="111.71" stroke="#555" stroke-width="0.7"/>
<line x1="410.2" y1="98.3" x2="411.6" y2="98.3" stroke="#555" stroke-width="0.7"/>
<line x1="410.2" y1="84.89" x2="411.6" y2="84.89" stroke="#555" stroke-width="0.7"/>
<line x1="410.2" y1="71.47" x2="411.6" y2="71.47" stroke="#555" stroke-width="0.7"/>
<text class="tl" x="409" y="113.81" text-anchor="end">0.0216</text>
<text class="tl" x="409" y="100.4" text-anchor="end">0.0220</text>
<text class="tl" x="409" y="86.99" text-anchor="end">0.0224</text>
<text class="tl" x="409" y="73.57" text-anchor="end">0.0228</text>
<g clip-path="url(#c1_1_1)">
<polyline points="470.16,118.42 470.86,118.42 471.56,118.41 472.25,118.41 472.95,118.4 473.65,118.4 474.35,118.38 475.04,118.36 475.74,118.34 476.44,118.3 477.14,118.25 477.83,118.18 478.53,118.08 479.23,117.95 479.93,117.77 480.62,117.54 481.32,117.23 482.02,116.84 482.72,116.34 483.41,115.71 484.11,114.94 484.81,113.99 485.51,112.85 486.2,111.5 486.9,109.91 487.6,108.07 488.3,105.97 488.99,103.62 489.69,101.02 490.39,98.2 491.09,95.17 491.78,91.99 492.48,88.71 493.18,85.4 493.88,82.13 494.57,78.98 495.27,76.03 495.97,73.38 496.67,71.09 497.36,69.23 498.06,67.88 498.76,67.07 499.46,66.82 500.15,67.16 500.85,68.06 501.55,69.5 502.25,71.42 502.94,73.78 503.64,76.49 504.34,79.47 505.04,82.65 505.73,85.93 506.43,89.24 507.13,92.51 507.83,95.67 508.52,98.66 509.22,101.46 509.92,104.02 510.62,106.33 511.31,108.38 512.01,110.18 512.71,111.73 513.4,113.05 514.1,114.16 514.8,115.07 515.5,115.82 516.2,116.43 516.89,116.91 517.59,117.28 518.29,117.58 518.99,117.8 519.68,117.97 520.38,118.1 521.08,118.19 521.77,118.26 522.47,118.31 523.17,118.34 523.87,118.37 524.57,118.39 525.26,118.4 525.96,118.4" fill="none" stroke="#808080" stroke-width="0.8" stroke-opacity="0.5"/>
<polyline points="470.16,118.42 470.86,118.41 471.56,118.41 472.25,118.41 472.95,118.4 473.65,118.39 474.35,118.37 475.04,118.35 475.74,118.31 476.44,118.27 477.14,118.2 477.83,118.11 478.53,117.99 479.23,117.82 479.93,117.61 480.62,117.32 481.32,116.96 482.02,116.49 482.72,115.9 483.41,115.17 484.11,114.28 484.81,113.19 485.51,111.9 486.2,110.38 486.9,108.61 487.6,106.59 488.3,104.31 488.99,101.78 489.69,99.01 490.39,96.04 491.09,92.9 491.78,89.64 492.48,86.33 493.18,83.04 493.88,79.85 494.57,76.83 495.27,74.09 495.97,71.69 496.67,69.7 497.36,68.21 498.06,67.24 498.76,66.83 499.46,67.01 500.15,67.75 500.85,69.04 501.55,70.84 502.25,73.08 502.94,75.7 503.64,78.61 504.34,81.74 505.04,85.01 505.73,88.32 506.43,91.6 507.13,94.8 507.83,97.84 508.52,100.7 509.22,103.32 509.92,105.71 510.62,107.83 511.31,109.7 512.01,111.32 512.71,112.7 513.4,113.87 514.1,114.83 514.8,115.63 515.5,116.27 516.2,116.78 516.89,117.19 517.59,117.5 518.29,117.74 518.99,117.93 519.68,118.07 520.38,118.17 521.08,118.24 521.77,118.3 522.47,118.34 523.17,118.36 523.87,118.38 524.57,118.39 525.26,118.4 525.96,118.41" fill="none" stroke="#E03424" stroke-width="0.8" stroke-opacity="0.6"/>
<polyline points="470.16,118.42 470.86,118.41 471.56,118.41 472.25,118.41 472.95,118.4 473.65,118.39 474.35,118.37 475.04,118.35 475.74,118.31 476.44,118.27 477.14,118.2 477.83,118.11 478.53,117.99 479.23,117.82 479.93,117.61 480.62,117.32 481.32,116.96 482.02,116.49 482.72,115.9 483.41,115.17 484.11,114.28 484.81,113.19 485.51,111.9 486.2,110.38 486.9,108.61 487.6,106.59 488.3,104.31 488.99,101.78 489.69,99.01 490.39,96.04 491.09,92.9 491.78,89.64 492.48,86.33 493.18,83.04 493.88,79.85 494.57,76.83 495.27,74.09 495.97,71.69 496.67,69.7 497.36,68.21 498.06,67.24 498.76,66.83 499.46,67.01 500.15,67.75 500.85,69.04 501.55,70.84 502.25,73.08 502.94,75.7 503.64,78.61 504.34,81.74 505.04,85.01 505.73,88.32 506.43,91.6 507.13,94.8 507.83,97.84 508.52,100.7 509.22,103.32 509.92,105.71 510.62,107.83 511.31,109.7 512.01,111.32 512.71,112.7 513.4,113.87 514.1,114.83 514.8,115.63 515.5,116.27 516.2,116.78 516.89,117.19 517.59,117.5 518.29,117.74 518.99,117.93 519.68,118.07 520.38,118.17 521.08,118.24 521.77,118.3 522.47,118.34 523.17,118.36 523.87,118.38 524.57,118.39 525.26,118.4 525.96,118.41" fill="none" stroke="#000000" stroke-width="0.6" stroke-opacity="0.45"/>
<polyline points="470.16,118.42 470.86,118.42 471.56,118.41 472.25,118.41 472.95,118.4 473.65,118.4 474.35,118.38 475.04,118.36 475.74,118.34 476.44,118.3 477.14,118.25 477.83,118.18 478.53,118.08 479.23,117.95 479.93,117.77 480.62,117.54 481.32,117.23 482.02,116.84 482.72,116.34 483.41,115.71 484.11,114.94 484.81,113.99 485.51,112.85 486.2,111.5 486.9,109.91 487.6,108.07 488.3,105.97 488.99,103.62 489.69,101.02 490.39,98.2 491.09,95.17 491.78,91.99 492.48,88.71 493.18,85.4 493.88,82.13 494.57,78.98 495.27,76.03 495.97,73.38 496.67,71.09 497.36,69.23 498.06,67.88 498.76,67.07 499.46,66.82 500.15,67.16 500.85,68.06 501.55,69.5 502.25,71.42 502.94,73.78 503.64,76.49 504.34,79.47 505.04,82.65 505.73,85.93 506.43,89.24 507.13,92.51 507.83,95.67 508.52,98.66 509.22,101.46 509.92,104.02 510.62,106.33 511.31,108.38 512.01,110.18 512.71,111.73 513.4,113.05 514.1,114.16 514.8,115.07 515.5,115.82 516.2,116.43 516.89,116.91 517.59,117.28 518.29,117.58 518.99,117.8 519.68,117.97 520.38,118.1 521.08,118.19 521.77,118.26 522.47,118.31 523.17,118.34 523.87,118.37 524.57,118.39 525.26,118.4 525.96,118.4" fill="none" stroke="#006FED" stroke-width="0.85" stroke-opacity="0.6"/>
</g>
<rect x="470.16" y="61.72" width="55.8" height="56.7" fill="none" stroke="#666" stroke-width="0.8"/>
<line x1="476.76" y1="118.42" x2="476.76" y2="119.82" stroke="#555" stroke-width="0.7"/>
<line x1="489.96" y1="118.42" x2="489.96" y2="119.82" stroke="#555" stroke-width="0.7"/>
<line x1="503.16" y1="118.42" x2="503.16" y2="119.82" stroke="#555" stroke-width="0.7"/>
<line x1="516.36" y1="118.42" x2="516.36" y2="119.82" stroke="#555" stroke-width="0.7"/>
<g clip-path="url(#c1_2_0)">
<path d="M422.13 154.05a18.04 14.89 0 1 0 36.08 0a18.04 14.89 0 1 0 -36.08 0ZM429.39 154.05a10.78 8.84 0 1 0 21.55 0a10.78 8.84 0 1 0 -21.55 0Z" fill-rule="evenodd" transform="rotate(-154.07 440.17 154.05)" fill="#cccccc" fill-opacity="0.85"/>
<ellipse cx="440.17" cy="154.05" rx="11.13" ry="9.19" transform="rotate(-154.07 440.17 154.05)" fill="#808080" fill-opacity="0.85"/>
<ellipse cx="440.17" cy="154.05" rx="18.04" ry="14.89" transform="rotate(-154.07 440.17 154.05)" fill="none" stroke="#808080" stroke-width="0.4" stroke-opacity="0.6"/>
<path d="M421.6 150.99a18.18 15.3 0 1 0 36.36 0a18.18 15.3 0 1 0 -36.36 0ZM428.91 150.99a10.86 9.09 0 1 0 21.73 0a10.86 9.09 0 1 0 -21.73 0Z" fill-rule="evenodd" transform="rotate(-149.41 439.78 150.99)" fill="#f3aea7" fill-opacity="0.85"/>
<ellipse cx="439.78" cy="150.99" rx="11.21" ry="9.44" transform="rotate(-149.41 439.78 150.99)" fill="#E03424" fill-opacity="0.85"/>
<ellipse cx="439.78" cy="150.99" rx="18.18" ry="15.3" transform="rotate(-149.41 439.78 150.99)" fill="none" stroke="#E03424" stroke-width="0.4" stroke-opacity="0.6"/>
<path d="M422.13 154.05a18.04 14.89 0 1 0 36.08 0a18.04 14.89 0 1 0 -36.08 0ZM429.39 154.05a10.78 8.84 0 1 0 21.55 0a10.78 8.84 0 1 0 -21.55 0Z" fill-rule="evenodd" transform="rotate(-154.07 440.17 154.05)" fill="#99c5f8" fill-opacity="0.85"/>
<ellipse cx="440.17" cy="154.05" rx="11.13" ry="9.19" transform="rotate(-154.07 440.17 154.05)" fill="#006FED" fill-opacity="0.85"/>
<ellipse cx="440.17" cy="154.05" rx="18.04" ry="14.89" transform="rotate(-154.07 440.17 154.05)" fill="none" stroke="#006FED" stroke-width="0.4" stroke-opacity="0.6"/>
<ellipse cx="439.78" cy="150.99" rx="18.18" ry="15.3" transform="rotate(-149.41 439.78 150.99)" fill="none" stroke="#000000" stroke-width="0.45" stroke-opacity="0.6"/>
<ellipse cx="439.78" cy="150.99" rx="11.21" ry="9.44" transform="rotate(-149.41 439.78 150.99)" fill="none" stroke="#000000" stroke-width="0.45" stroke-opacity="0.6"/>
</g>
<rect x="411.6" y="120.94" width="55.8" height="56.7" fill="none" stroke="#666" stroke-width="0.8"/>
<line x1="421.6" y1="177.64" x2="421.6" y2="179.04" stroke="#555" stroke-width="0.7"/>
<line x1="439" y1="177.64" x2="439" y2="179.04" stroke="#555" stroke-width="0.7"/>
<line x1="456.4" y1="177.64" x2="456.4" y2="179.04" stroke="#555" stroke-width="0.7"/>
<line x1="410.2" y1="169.41" x2="411.6" y2="169.41" stroke="#555" stroke-width="0.7"/>
<line x1="410.2" y1="155.56" x2="411.6" y2="155.56" stroke="#555" stroke-width="0.7"/>
<line x1="410.2" y1="141.7" x2="411.6" y2="141.7" stroke="#555" stroke-width="0.7"/>
<line x1="410.2" y1="127.85" x2="411.6" y2="127.85" stroke="#555" stroke-width="0.7"/>
<text class="tl" x="409" y="171.51" text-anchor="end">0.1150</text>
<text class="tl" x="409" y="157.66" text-anchor="end">0.1175</text>
<text class="tl" x="409" y="143.8" text-anchor="end">0.1200</text>
<text class="tl" x="409" y="129.95" text-anchor="end">0.1225</text>
<g clip-path="url(#c1_2_1)">
<path d="M480.65 154.05a19.25 11.82 0 1 0 38.5 0a19.25 11.82 0 1 0 -38.5 0ZM488.38 154.05a11.52 6.94 0 1 0 23.04 0a11.52 6.94 0 1 0 -23.04 0Z" fill-rule="evenodd" transform="rotate(-138.36 499.9 154.05)" fill="#cccccc" fill-opacity="0.85"/>
<ellipse cx="499.9" cy="154.05" rx="11.87" ry="7.29" transform="rotate(-138.36 499.9 154.05)" fill="#808080" fill-opacity="0.85"/>
<ellipse cx="499.9" cy="154.05" rx="19.25" ry="11.82" transform="rotate(-138.36 499.9 154.05)" fill="none" stroke="#808080" stroke-width="0.4" stroke-opacity="0.6"/>
<path d="M479.5 150.99a19.56 12.04 0 1 0 39.13 0a19.56 12.04 0 1 0 -39.13 0ZM487.35 150.99a11.72 7.08 0 1 0 23.43 0a11.72 7.08 0 1 0 -23.43 0Z" fill-rule="evenodd" transform="rotate(-136.14 499.06 150.99)" fill="#f3aea7" fill-opacity="0.85"/>
<ellipse cx="499.06" cy="150.99" rx="12.07" ry="7.43" transform="rotate(-136.14 499.06 150.99)" fill="#E03424" fill-opacity="0.85"/>
<ellipse cx="499.06" cy="150.99" rx="19.56" ry="12.04" transform="rotate(-136.14 499.06 150.99)" fill="none" stroke="#E03424" stroke-width="0.4" stroke-opacity="0.6"/>
<path d="M480.65 154.05a19.25 11.82 0 1 0 38.5 0a19.25 11.82 0 1 0 -38.5 0ZM488.38 154.05a11.52 6.94 0 1 0 23.04 0a11.52 6.94 0 1 0 -23.04 0Z" fill-rule="evenodd" transform="rotate(-138.36 499.9 154.05)" fill="#99c5f8" fill-opacity="0.85"/>
<ellipse cx="499.9" cy="154.05" rx="11.87" ry="7.29" transform="rotate(-138.36 499.9 154.05)" fill="#006FED" fill-opacity="0.85"/>
<ellipse cx="499.9" cy="154.05" rx="19.25" ry="11.82" transform="rotate(-138.36 499.9 154.05)" fill="none" stroke="#006FED" stroke-width="0.4" stroke-opacity="0.6"/>
<ellipse cx="499.06" cy="150.99" rx="19.56" ry="12.04" transform="rotate(-136.14 499.06 150.99)" fill="none" stroke="#000000" stroke-width="0.45" stroke-opacity="0.6"/>
<ellipse cx="499.06" cy="150.99" rx="12.07" ry="7.43" transform="rotate(-136.14 499.06 150.99)" fill="none" stroke="#000000" stroke-width="0.45" stroke-opacity="0.6"/>
</g>
<rect x="470.16" y="120.94" width="55.8" height="56.7" fill="none" stroke="#666" stroke-width="0.8"/>
<line x1="476.76" y1="177.64" x2="476.76" y2="179.04" stroke="#555" stroke-width="0.7"/>
<line x1="489.96" y1="177.64" x2="489.96" y2="179.04" stroke="#555" stroke-width="0.7"/>
<line x1="503.16" y1="177.64" x2="503.16" y2="179.04" stroke="#555" stroke-width="0.7"/>
<line x1="516.36" y1="177.64" x2="516.36" y2="179.04" stroke="#555" stroke-width="0.7"/>
<line x1="468.76" y1="169.41" x2="470.16" y2="169.41" stroke="#555" stroke-width="0.7"/>
<line x1="468.76" y1="155.56" x2="470.16" y2="155.56" stroke="#555" stroke-width="0.7"/>
<line x1="468.76" y1="141.7" x2="470.16" y2="141.7" stroke="#555" stroke-width="0.7"/>
<line x1="468.76" y1="127.85" x2="470.16" y2="127.85" stroke="#555" stroke-width="0.7"/>
<g clip-path="url(#c1_2_2)">
<polyline points="528.72,177.54 529.42,177.49 530.12,177.43 530.81,177.34 531.51,177.21 532.21,177.04 532.9,176.82 533.6,176.52 534.3,176.13 535,175.63 535.7,175 536.39,174.21 537.09,173.24 537.79,172.07 538.49,170.66 539.18,169 539.88,167.07 540.58,164.87 541.27,162.39 541.97,159.65 542.67,156.68 543.37,153.5 544.07,150.17 544.76,146.76 545.46,143.33 546.16,139.99 546.86,136.81 547.55,133.89 548.25,131.33 548.95,129.2 549.64,127.58 550.34,126.52 551.04,126.06 551.74,126.22 552.44,126.99 553.13,128.35 553.83,130.25 554.53,132.61 555.23,135.37 555.92,138.44 556.62,141.71 557.32,145.11 558.01,148.54 558.71,151.91 559.41,155.17 560.11,158.25 560.81,161.11 561.5,163.71 562.2,166.05 562.9,168.11 563.6,169.89 564.29,171.42 564.99,172.71 565.69,173.77 566.38,174.64 567.08,175.35 567.78,175.91 568.48,176.35 569.18,176.68 569.87,176.94 570.57,177.14 571.27,177.28 571.97,177.39 572.66,177.47 573.36,177.52 574.06,177.56 574.75,177.59 575.45,177.6 576.15,177.62 576.85,177.62 577.55,177.63 578.24,177.63 578.94,177.64 579.64,177.64 580.34,177.64 581.03,177.64 581.73,177.64 582.43,177.64 583.12,177.64 583.82,177.64 584.52,177.64" fill="none" stroke="#808080" stroke-width="0.8" stroke-opacity="0.5"/>
<polyline points="528.72,177.62 529.42,177.61 530.12,177.59 530.81,177.56 531.51,177.53 532.21,177.48 532.9,177.41 533.6,177.32 534.3,177.2 535,177.03 535.7,176.81 536.39,176.52 537.09,176.14 537.79,175.67 538.49,175.07 539.18,174.33 539.88,173.42 540.58,172.32 541.27,171.01 541.97,169.46 542.67,167.68 543.37,165.63 544.07,163.33 544.76,160.78 545.46,158 546.16,155.01 546.86,151.86 547.55,148.6 548.25,145.28 548.95,142 549.64,138.82 550.34,135.82 551.04,133.1 551.74,130.73 552.44,128.79 553.13,127.33 553.83,126.4 554.53,126.05 555.23,126.27 555.92,127.06 556.62,128.39 557.32,130.22 558.01,132.5 558.71,135.14 559.41,138.08 560.11,141.22 560.81,144.49 561.5,147.8 562.2,151.08 562.9,154.27 563.6,157.3 564.29,160.13 564.99,162.74 565.69,165.1 566.38,167.21 567.08,169.06 567.78,170.66 568.48,172.02 569.18,173.17 569.87,174.12 570.57,174.9 571.27,175.54 571.97,176.04 572.66,176.44 573.36,176.74 574.06,176.98 574.75,177.16 575.45,177.3 576.15,177.4 576.85,177.47 577.55,177.52 578.24,177.56 578.94,177.58 579.64,177.6 580.34,177.61 581.03,177.62 581.73,177.63 582.43,177.63 583.12,177.64 583.82,177.64 584.52,177.64" fill="none" stroke="#E03424" stroke-width="0.8" stroke-opacity="0.6"/>
<polyline points="528.72,177.62 529.42,177.61 530.12,177.59 530.81,177.56 531.51,177.53 532.21,177.48 532.9,177.41 533.6,177.32 534.3,177.2 535,177.03 535.7,176.81 536.39,176.52 537.09,176.14 537.79,175.67 538.49,175.07 539.18,174.33 539.88,173.42 540.58,172.32 541.27,171.01 541.97,169.46 542.67,167.68 543.37,165.63 544.07,163.33 544.76,160.78 545.46,158 546.16,155.01 546.86,151.86 547.55,148.6 548.25,145.28 548.95,142 549.64,138.82 550.34,135.82 551.04,133.1 551.74,130.73 552.44,128.79 553.13,127.33 553.83,126.4 554.53,126.05 555.23,126.27 555.92,127.06 556.62,128.39 557.32,130.22 558.01,132.5 558.71,135.14 559.41,138.08 560.11,141.22 560.81,144.49 561.5,147.8 562.2,151.08 562.9,154.27 563.6,157.3 564.29,160.13 564.99,162.74 565.69,165.1 566.38,167.21 567.08,169.06 567.78,170.66 568.48,172.02 569.18,173.17 569.87,174.12 570.57,174.9 571.27,175.54 571.97,176.04 572.66,176.44 573.36,176.74 574.06,176.98 574.75,177.16 575.45,177.3 576.15,177.4 576.85,177.47 577.55,177.52 578.24,177.56 578.94,177.58 579.64,177.6 580.34,177.61 581.03,177.62 581.73,177.63 582.43,177.63 583.12,177.64 583.82,177.64 584.52,177.64" fill="none" stroke="#000000" stroke-width="0.6" stroke-opacity="0.45"/>
<polyline points="528.72,177.54 529.42,177.49 530.12,177.43 530.81,177.34 531.51,177.21 532.21,177.04 532.9,176.82 533.6,176.52 534.3,176.13 535,175.63 535.7,175 536.39,174.21 537.09,173.24 537.79,172.07 538.49,170.66 539.18,169 539.88,167.07 540.58,164.87 541.27,162.39 541.97,159.65 542.67,156.68 543.37,153.5 544.07,150.17 544.76,146.76 545.46,143.33 546.16,139.99 546.86,136.81 547.55,133.89 548.25,131.33 548.95,129.2 549.64,127.58 550.34,126.52 551.04,126.06 551.74,126.22 552.44,126.99 553.13,128.35 553.83,130.25 554.53,132.61 555.23,135.37 555.92,138.44 556.62,141.71 557.32,145.11 558.01,148.54 558.71,151.91 559.41,155.17 560.11,158.25 560.81,161.11 561.5,163.71 562.2,166.05 562.9,168.11 563.6,169.89 564.29,171.42 564.99,172.71 565.69,173.77 566.38,174.64 567.08,175.35 567.78,175.91 568.48,176.35 569.18,176.68 569.87,176.94 570.57,177.14 571.27,177.28 571.97,177.39 572.66,177.47 573.36,177.52 574.06,177.56 574.75,177.59 575.45,177.6 576.15,177.62 576.85,177.62 577.55,177.63 578.24,177.63 578.94,177.64 579.64,177.64 580.34,177.64 581.03,177.64 581.73,177.64 582.43,177.64 583.12,177.64 583.82,177.64 584.52,177.64" fill="none" stroke="#006FED" stroke-width="0.85" stroke-opacity="0.6"/>
</g>
<rect x="528.72" y="120.94" width="55.8" height="56.7" fill="none" stroke="#666" stroke-width="0.8"/>
<line x1="536.82" y1="177.64" x2="536.82" y2="179.04" stroke="#555" stroke-width="0.7"/>
<line x1="550.45" y1="177.64" x2="550.45" y2="179.04" stroke="#555" stroke-width="0.7"/>
<line x1="564.09" y1="177.64" x2="564.09" y2="179.04" stroke="#555" stroke-width="0.7"/>
<line x1="577.72" y1="177.64" x2="577.72" y2="179.04" stroke="#555" stroke-width="0.7"/>
<g clip-path="url(#c1_3_0)">
<path d="M420.69 207.38a19.48 15.87 0 1 0 38.96 0a19.48 15.87 0 1 0 -38.96 0ZM428.51 207.38a11.66 9.44 0 1 0 23.33 0a11.66 9.44 0 1 0 -23.33 0Z" fill-rule="evenodd" transform="rotate(130.52 440.17 207.38)" fill="#cccccc" fill-opacity="0.85"/>
<ellipse cx="440.17" cy="207.38" rx="12.01" ry="9.79" transform="rotate(130.52 440.17 207.38)" fill="#808080" fill-opacity="0.85"/>
<ellipse cx="440.17" cy="207.38" rx="19.48" ry="15.87" transform="rotate(130.52 440.17 207.38)" fill="none" stroke="#808080" stroke-width="0.4" stroke-opacity="0.6"/>
<path d="M420.3 206.7a19.48 15.87 0 1 0 38.96 0a19.48 15.87 0 1 0 -38.96 0ZM428.12 206.7a11.66 9.44 0 1 0 23.33 0a11.66 9.44 0 1 0 -23.33 0Z" fill-rule="evenodd" transform="rotate(130.52 439.78 206.7)" fill="#f3aea7" fill-opacity="0.85"/>
<ellipse cx="439.78" cy="206.7" rx="12.01" ry="9.79" transform="rotate(130.52 439.78 206.7)" fill="#E03424" fill-opacity="0.85"/>
<ellipse cx="439.78" cy="206.7" rx="19.48" ry="15.87" transform="rotate(130.52 439.78 206.7)" fill="none" stroke="#E03424" stroke-width="0.4" stroke-opacity="0.6"/>
<path d="M420.69 207.38a19.48 15.87 0 1 0 38.96 0a19.48 15.87 0 1 0 -38.96 0ZM428.51 207.38a11.66 9.44 0 1 0 23.33 0a11.66 9.44 0 1 0 -23.33 0Z" fill-rule="evenodd" transform="rotate(130.52 440.17 207.38)" fill="#99c5f8" fill-opacity="0.85"/>
<ellipse cx="440.17" cy="207.38" rx="12.01" ry="9.79" transform="rotate(130.52 440.17 207.38)" fill="#006FED" fill-opacity="0.85"/>
<ellipse cx="440.17" cy="207.38" rx="19.48" ry="15.87" transform="rotate(130.52 440.17 207.38)" fill="none" stroke="#006FED" stroke-width="0.4" stroke-opacity="0.6"/>
<ellipse cx="439.78" cy="206.7" rx="19.48" ry="15.87" transform="rotate(130.52 439.78 206.7)" fill="none" stroke="#000000" stroke-width="0.45" stroke-opacity="0.6"/>
<ellipse cx="439.78" cy="206.7" rx="12.01" ry="9.79" transform="rotate(130.52 439.78 206.7)" fill="none" stroke="#000000" stroke-width="0.45" stroke-opacity="0.6"/>
</g>
<rect x="411.6" y="180.16" width="55.8" height="56.7" fill="none" stroke="#666" stroke-width="0.8"/>
<line x1="421.6" y1="236.86" x2="421.6" y2="238.26" stroke="#555" stroke-width="0.7"/>
<line x1="439" y1="236.86" x2="439" y2="238.26" stroke="#555" stroke-width="0.7"/>
<line x1="456.4" y1="236.86" x2="456.4" y2="238.26" stroke="#555" stroke-width="0.7"/>
<line x1="410.2" y1="226.5" x2="411.6" y2="226.5" stroke="#555" stroke-width="0.7"/>
<line x1="410.2" y1="214.61" x2="411.6" y2="214.61" stroke="#555" stroke-width="0.7"/>
<line x1="410.2" y1="202.72" x2="411.6" y2="202.72" stroke="#555" stroke-width="0.7"/>
<line x1="410.2" y1="190.83" x2="411.6" y2="190.83" stroke="#555" stroke-width="0.7"/>
<text class="tl" x="409" y="228.6" text-anchor="end">3.00</text>
<text class="tl" x="409" y="216.71" text-anchor="end">3.04</text>
<text class="tl" x="409" y="204.82" text-anchor="end">3.08</text>
<text class="tl" x="409" y="192.93" text-anchor="end">3.12</text>
<g clip-path="url(#c1_3_1)">
<path d="M480.5 207.38a19.4 14.76 0 1 0 38.8 0a19.4 14.76 0 1 0 -38.8 0ZM488.29 207.38a11.61 8.75 0 1 0 23.23 0a11.61 8.75 0 1 0 -23.23 0Z" fill-rule="evenodd" transform="rotate(124.48 499.9 207.38)" fill="#cccccc" fill-opacity="0.85"/>
<ellipse cx="499.9" cy="207.38" rx="11.96" ry="9.1" transform="rotate(124.48 499.9 207.38)" fill="#808080" fill-opacity="0.85"/>
<ellipse cx="499.9" cy="207.38" rx="19.4" ry="14.76" transform="rotate(124.48 499.9 207.38)" fill="none" stroke="#808080" stroke-width="0.4" stroke-opacity="0.6"/>
<path d="M479.67 206.7a19.4 14.76 0 1 0 38.8 0a19.4 14.76 0 1 0 -38.8 0ZM487.45 206.7a11.61 8.75 0 1 0 23.23 0a11.61 8.75 0 1 0 -23.23 0Z" fill-rule="evenodd" transform="rotate(124.48 499.06 206.7)" fill="#f3aea7" fill-opacity="0.85"/>
<ellipse cx="499.06" cy="206.7" rx="11.96" ry="9.1" transform="rotate(124.48 499.06 206.7)" fill="#E03424" fill-opacity="0.85"/>
<ellipse cx="499.06" cy="206.7" rx="19.4" ry="14.76" transform="rotate(124.48 499.06 206.7)" fill="none" stroke="#E03424" stroke-width="0.4" stroke-opacity="0.6"/>
<path d="M480.5 207.38a19.4 14.76 0 1 0 38.8 0a19.4 14.76 0 1 0 -38.8 0ZM488.29 207.38a11.61 8.75 0 1 0 23.23 0a11.61 8.75 0 1 0 -23.23 0Z" fill-rule="evenodd" transform="rotate(124.48 499.9 207.38)" fill="#99c5f8" fill-opacity="0.85"/>
<ellipse cx="499.9" cy="207.38" rx="11.96" ry="9.1" transform="rotate(124.48 499.9 207.38)" fill="#006FED" fill-opacity="0.85"/>
<ellipse cx="499.9" cy="207.38" rx="19.4" ry="14.76" transform="rotate(124.48 499.9 207.38)" fill="none" stroke="#006FED" stroke-width="0.4" stroke-opacity="0.6"/>
<ellipse cx="499.06" cy="206.7" rx="19.4" ry="14.76" transform="rotate(124.48 499.06 206.7)" fill="none" stroke="#000000" stroke-width="0.45" stroke-opacity="0.6"/>
<ellipse cx="499.06" cy="206.7" rx="11.96" ry="9.1" transform="rotate(124.48 499.06 206.7)" fill="none" stroke="#000000" stroke-width="0.45" stroke-opacity="0.6"/>
</g>
<rect x="470.16" y="180.16" width="55.8" height="56.7" fill="none" stroke="#666" stroke-width="0.8"/>
<line x1="476.76" y1="236.86" x2="476.76" y2="238.26" stroke="#555" stroke-width="0.7"/>
<line x1="489.96" y1="236.86" x2="489.96" y2="238.26" stroke="#555" stroke-width="0.7"/>
<line x1="503.16" y1="236.86" x2="503.16" y2="238.26" stroke="#555" stroke-width="0.7"/>
<line x1="516.36" y1="236.86" x2="516.36" y2="238.26" stroke="#555" stroke-width="0.7"/>
<line x1="468.76" y1="226.5" x2="470.16" y2="226.5" stroke="#555" stroke-width="0.7"/>
<line x1="468.76" y1="214.61" x2="470.16" y2="214.61" stroke="#555" stroke-width="0.7"/>
<line x1="468.76" y1="202.72" x2="470.16" y2="202.72" stroke="#555" stroke-width="0.7"/>
<line x1="468.76" y1="190.83" x2="470.16" y2="190.83" stroke="#555" stroke-width="0.7"/>
<g clip-path="url(#c1_3_2)">
<path d="M531.95 207.38a19.98 12.66 0 1 0 39.96 0a19.98 12.66 0 1 0 -39.96 0ZM539.96 207.38a11.97 7.46 0 1 0 23.95 0a11.97 7.46 0 1 0 -23.95 0Z" fill-rule="evenodd" transform="rotate(56.26 551.93 207.38)" fill="#cccccc" fill-opacity="0.85"/>
<ellipse cx="551.93" cy="207.38" rx="12.32" ry="7.81" transform="rotate(56.26 551.93 207.38)" fill="#808080" fill-opacity="0.85"/>
<ellipse cx="551.93" cy="207.38" rx="19.98" ry="12.66" transform="rotate(56.26 551.93 207.38)" fill="none" stroke="#808080" stroke-width="0.4" stroke-opacity="0.6"/>
<path d="M534.73 206.7a20.21 12.96 0 1 0 40.42 0a20.21 12.96 0 1 0 -40.42 0ZM542.83 206.7a12.12 7.64 0 1 0 24.23 0a12.12 7.64 0 1 0 -24.23 0Z" fill-rule="evenodd" transform="rotate(54.02 554.95 206.7)" fill="#f3aea7" fill-opacity="0.85"/>
<ellipse cx="554.95" cy="206.7" rx="12.47" ry="7.99" transform="rotate(54.02 554.95 206.7)" fill="#E03424" fill-opacity="0.85"/>
<ellipse cx="554.95" cy="206.7" rx="20.21" ry="12.96" transform="rotate(54.02 554.95 206.7)" fill="none" stroke="#E03424" stroke-width="0.4" stroke-opacity="0.6"/>
<path d="M531.95 207.38a19.98 12.66 0 1 0 39.96 0a19.98 12.66 0 1 0 -39.96 0ZM539.96 207.38a11.97 7.46 0 1 0 23.95 0a11.97 7.46 0 1 0 -23.95 0Z" fill-rule="evenodd" transform="rotate(56.26 551.93 207.38)" fill="#99c5f8" fill-opacity="0.85"/>
<ellipse cx="551.93" cy="207.38" rx="12.32" ry="7.81" transform="rotate(56.26 551.93 207.38)" fill="#006FED" fill-opacity="0.85"/>
<ellipse cx="551.93" cy="207.38" rx="19.98" ry="12.66" transform="rotate(56.26 551.93 207.38)" fill="none" stroke="#006FED" stroke-width="0.4" stroke-opacity="0.6"/>
<ellipse cx="554.95" cy="206.7" rx="20.21" ry="12.96" transform="rotate(54.02 554.95 206.7)" fill="none" stroke="#000000" stroke-width="0.45" stroke-opacity="0.6"/>
<ellipse cx="554.95" cy="206.7" rx="12.47" ry="7.99" transform="rotate(54.02 554.95 206.7)" fill="none" stroke="#000000" stroke-width="0.45" stroke-opacity="0.6"/>
</g>
<rect x="528.72" y="180.16" width="55.8" height="56.7" fill="none" stroke="#666" stroke-width="0.8"/>
<line x1="536.82" y1="236.86" x2="536.82" y2="238.26" stroke="#555" stroke-width="0.7"/>
<line x1="550.45" y1="236.86" x2="550.45" y2="238.26" stroke="#555" stroke-width="0.7"/>
<line x1="564.09" y1="236.86" x2="564.09" y2="238.26" stroke="#555" stroke-width="0.7"/>
<line x1="577.72" y1="236.86" x2="577.72" y2="238.26" stroke="#555" stroke-width="0.7"/>
<line x1="527.32" y1="226.5" x2="528.72" y2="226.5" stroke="#555" stroke-width="0.7"/>
<line x1="527.32" y1="214.61" x2="528.72" y2="214.61" stroke="#555" stroke-width="0.7"/>
<line x1="527.32" y1="202.72" x2="528.72" y2="202.72" stroke="#555" stroke-width="0.7"/>
<line x1="527.32" y1="190.83" x2="528.72" y2="190.83" stroke="#555" stroke-width="0.7"/>
<g clip-path="url(#c1_3_3)">
<polyline points="587.28,236.83 587.98,236.82 588.67,236.8 589.37,236.77 590.07,236.73 590.77,236.69 591.46,236.62 592.16,236.54 592.86,236.43 593.56,236.28 594.25,236.09 594.95,235.86 595.65,235.56 596.35,235.18 597.04,234.72 597.74,234.15 598.44,233.47 599.14,232.65 599.83,231.68 600.53,230.54 601.23,229.22 601.93,227.71 602.62,225.99 603.32,224.08 604.02,221.95 604.72,219.63 605.41,217.12 606.11,214.46 606.81,211.65 607.51,208.75 608.2,205.8 608.9,202.85 609.6,199.94 610.3,197.14 611,194.52 611.69,192.12 612.39,190.01 613.09,188.24 613.78,186.85 614.48,185.88 615.18,185.36 615.88,185.29 616.57,185.69 617.27,186.54 617.97,187.81 618.67,189.48 619.37,191.5 620.06,193.82 620.76,196.39 621.46,199.14 622.15,202.02 622.85,204.97 623.55,207.93 624.25,210.85 624.94,213.68 625.64,216.39 626.34,218.95 627.04,221.32 627.74,223.5 628.43,225.48 629.13,227.25 629.83,228.82 630.52,230.19 631.22,231.38 631.92,232.39 632.62,233.25 633.31,233.97 634.01,234.57 634.71,235.06 635.41,235.46 636.11,235.78 636.8,236.03 637.5,236.23 638.2,236.39 638.89,236.51 639.59,236.6 640.29,236.67 640.99,236.72 641.68,236.76 642.38,236.79 643.08,236.81" fill="none" stroke="#808080" stroke-width="0.8" stroke-opacity="0.5"/>
<polyline points="587.28,236.84 587.98,236.82 588.67,236.81 589.37,236.79 590.07,236.76 590.77,236.72 591.46,236.67 592.16,236.59 592.86,236.5 593.56,236.38 594.25,236.22 594.95,236.01 595.65,235.76 596.35,235.43 597.04,235.03 597.74,234.53 598.44,233.92 599.14,233.19 599.83,232.32 600.53,231.29 601.23,230.09 601.93,228.7 602.62,227.11 603.32,225.33 604.02,223.33 604.72,221.14 605.41,218.75 606.11,216.18 606.81,213.46 607.51,210.62 608.2,207.7 608.9,204.74 609.6,201.79 610.3,198.92 611,196.18 611.69,193.63 612.39,191.33 613.09,189.33 613.78,187.69 614.48,186.45 615.18,185.64 615.88,185.28 616.57,185.38 617.27,185.94 617.97,186.95 618.67,188.37 619.37,190.17 620.06,192.3 620.76,194.72 621.46,197.36 622.15,200.17 622.85,203.08 623.55,206.04 624.25,208.99 624.94,211.88 625.64,214.67 626.34,217.33 627.04,219.82 627.74,222.13 628.43,224.24 629.13,226.14 629.83,227.84 630.52,229.33 631.22,230.64 631.92,231.76 632.62,232.72 633.31,233.53 634.01,234.2 634.71,234.76 635.41,235.21 636.11,235.58 636.8,235.88 637.5,236.11 638.2,236.29 638.89,236.44 639.59,236.54 640.29,236.63 640.99,236.69 641.68,236.74 642.38,236.77 643.08,236.8" fill="none" stroke="#E03424" stroke-width="0.8" stroke-opacity="0.6"/>
<polyline points="587.28,236.84 587.98,236.82 588.67,236.81 589.37,236.79 590.07,236.76 590.77,236.72 591.46,236.67 592.16,236.59 592.86,236.5 593.56,236.38 594.25,236.22 594.95,236.01 595.65,235.76 596.35,235.43 597.04,235.03 597.74,234.53 598.44,233.92 599.14,233.19 599.83,232.32 600.53,231.29 601.23,230.09 601.93,228.7 602.62,227.11 603.32,225.33 604.02,223.33 604.72,221.14 605.41,218.75 606.11,216.18 606.81,213.46 607.51,210.62 608.2,207.7 608.9,204.74 609.6,201.79 610.3,198.92 611,196.18 611.69,193.63 612.39,191.33 613.09,189.33 613.78,187.69 614.48,186.45 615.18,185.64 615.88,185.28 616.57,185.38 617.27,185.94 617.97,186.95 618.67,188.37 619.37,190.17 620.06,192.3 620.76,194.72 621.46,197.36 622.15,200.17 622.85,203.08 623.55,206.04 624.25,208.99 624.94,211.88 625.64,214.67 626.34,217.33 627.04,219.82 627.74,222.13 628.43,224.24 629.13,226.14 629.83,227.84 630.52,229.33 631.22,230.64 631.92,231.76 632.62,232.72 633.31,233.53 634.01,234.2 634.71,234.76 635.41,235.21 636.11,235.58 636.8,235.88 637.5,236.11 638.2,236.29 638.89,236.44 639.59,236.54 640.29,236.63 640.99,236.69 641.68,236.74 642.38,236.77 643.08,236.8" fill="none" stroke="#000000" stroke-width="0.6" stroke-opacity="0.45"/>
<polyline points="587.28,236.83 587.98,236.82 588.67,236.8 589.37,236.77 590.07,236.73 590.77,236.69 591.46,236.62 592.16,236.54 592.86,236.43 593.56,236.28 594.25,236.09 594.95,235.86 595.65,235.56 596.35,235.18 597.04,234.72 597.74,234.15 598.44,233.47 599.14,232.65 599.83,231.68 600.53,230.54 601.23,229.22 601.93,227.71 602.62,225.99 603.32,224.08 604.02,221.95 604.72,219.63 605.41,217.12 606.11,214.46 606.81,211.65 607.51,208.75 608.2,205.8 608.9,202.85 609.6,199.94 610.3,197.14 611,194.52 611.69,192.12 612.39,190.01 613.09,188.24 613.78,186.85 614.48,185.88 615.18,185.36 615.88,185.29 616.57,185.69 617.27,186.54 617.97,187.81 618.67,189.48 619.37,191.5 620.06,193.82 620.76,196.39 621.46,199.14 622.15,202.02 622.85,204.97 623.55,207.93 624.25,210.85 624.94,213.68 625.64,216.39 626.34,218.95 627.04,221.32 627.74,223.5 628.43,225.48 629.13,227.25 629.83,228.82 630.52,230.19 631.22,231.38 631.92,232.39 632.62,233.25 633.31,233.97 634.01,234.57 634.71,235.06 635.41,235.46 636.11,235.78 636.8,236.03 637.5,236.23 638.2,236.39 638.89,236.51 639.59,236.6 640.29,236.67 640.99,236.72 641.68,236.76 642.38,236.79 643.08,236.81" fill="none" stroke="#006FED" stroke-width="0.85" stroke-opacity="0.6"/>
</g>
<rect x="587.28" y="180.16" width="55.8" height="56.7" fill="none" stroke="#666" stroke-width="0.8"/>
<line x1="597.48" y1="236.86" x2="597.48" y2="238.26" stroke="#555" stroke-width="0.7"/>
<line x1="609.18" y1="236.86" x2="609.18" y2="238.26" stroke="#555" stroke-width="0.7"/>
<line x1="620.88" y1="236.86" x2="620.88" y2="238.26" stroke="#555" stroke-width="0.7"/>
<line x1="632.58" y1="236.86" x2="632.58" y2="238.26" stroke="#555" stroke-width="0.7"/>
<g clip-path="url(#c1_4_0)">
<path d="M421.97 266.71a18.2 14.1 0 1 0 36.41 0a18.2 14.1 0 1 0 -36.41 0ZM429.29 266.71a10.88 8.35 0 1 0 21.75 0a10.88 8.35 0 1 0 -21.75 0Z" fill-rule="evenodd" transform="rotate(153.84 440.17 266.71)" fill="#cccccc" fill-opacity="0.85"/>
<ellipse cx="440.17" cy="266.71" rx="11.23" ry="8.7" transform="rotate(153.84 440.17 266.71)" fill="#808080" fill-opacity="0.85"/>
<ellipse cx="440.17" cy="266.71" rx="18.2" ry="14.1" transform="rotate(153.84 440.17 266.71)" fill="none" stroke="#808080" stroke-width="0.4" stroke-opacity="0.6"/>
<path d="M421.58 267.05a18.2 14.1 0 1 0 36.41 0a18.2 14.1 0 1 0 -36.41 0ZM428.9 267.05a10.88 8.35 0 1 0 21.75 0a10.88 8.35 0 1 0 -21.75 0Z" fill-rule="evenodd" transform="rotate(153.84 439.78 267.05)" fill="#f3aea7" fill-opacity="0.85"/>
<ellipse cx="439.78" cy="267.05" rx="11.23" ry="8.7" transform="rotate(153.84 439.78 267.05)" fill="#E03424" fill-opacity="0.85"/>
<ellipse cx="439.78" cy="267.05" rx="18.2" ry="14.1" transform="rotate(153.84 439.78 267.05)" fill="none" stroke="#E03424" stroke-width="0.4" stroke-opacity="0.6"/>
<path d="M421.97 266.71a18.2 14.1 0 1 0 36.41 0a18.2 14.1 0 1 0 -36.41 0ZM429.29 266.71a10.88 8.35 0 1 0 21.75 0a10.88 8.35 0 1 0 -21.75 0Z" fill-rule="evenodd" transform="rotate(153.84 440.17 266.71)" fill="#99c5f8" fill-opacity="0.85"/>
<ellipse cx="440.17" cy="266.71" rx="11.23" ry="8.7" transform="rotate(153.84 440.17 266.71)" fill="#006FED" fill-opacity="0.85"/>
<ellipse cx="440.17" cy="266.71" rx="18.2" ry="14.1" transform="rotate(153.84 440.17 266.71)" fill="none" stroke="#006FED" stroke-width="0.4" stroke-opacity="0.6"/>
<ellipse cx="439.78" cy="267.05" rx="18.2" ry="14.1" transform="rotate(153.84 439.78 267.05)" fill="none" stroke="#000000" stroke-width="0.45" stroke-opacity="0.6"/>
<ellipse cx="439.78" cy="267.05" rx="11.23" ry="8.7" transform="rotate(153.84 439.78 267.05)" fill="none" stroke="#000000" stroke-width="0.45" stroke-opacity="0.6"/>
</g>
<rect x="411.6" y="239.38" width="55.8" height="56.7" fill="none" stroke="#666" stroke-width="0.8"/>
<line x1="421.6" y1="296.08" x2="421.6" y2="297.48" stroke="#555" stroke-width="0.7"/>
<line x1="439" y1="296.08" x2="439" y2="297.48" stroke="#555" stroke-width="0.7"/>
<line x1="456.4" y1="296.08" x2="456.4" y2="297.48" stroke="#555" stroke-width="0.7"/>
<line x1="410.2" y1="289.78" x2="411.6" y2="289.78" stroke="#555" stroke-width="0.7"/>
<line x1="410.2" y1="278.83" x2="411.6" y2="278.83" stroke="#555" stroke-width="0.7"/>
<line x1="410.2" y1="267.88" x2="411.6" y2="267.88" stroke="#555" stroke-width="0.7"/>
<line x1="410.2" y1="256.93" x2="411.6" y2="256.93" stroke="#555" stroke-width="0.7"/>
<line x1="410.2" y1="245.98" x2="411.6" y2="245.98" stroke="#555" stroke-width="0.7"/>
<text class="tl" x="409" y="291.88" text-anchor="end">0.952</text>
<text class="tl" x="409" y="280.93" text-anchor="end">0.960</text>
<text class="tl" x="409" y="269.98" text-anchor="end">0.968</text>
<text class="tl" x="409" y="259.03" text-anchor="end">0.976</text>
<text class="tl" x="409" y="248.08" text-anchor="end">0.984</text>
<g clip-path="url(#c1_4_1)">
<path d="M481.59 266.71a18.31 12.57 0 1 0 36.63 0a18.31 12.57 0 1 0 -36.63 0ZM488.96 266.71a10.95 7.4 0 1 0 21.89 0a10.95 7.4 0 1 0 -21.89 0Z" fill-rule="evenodd" transform="rotate(142.17 499.9 266.71)" fill="#cccccc" fill-opacity="0.85"/>
<ellipse cx="499.9" cy="266.71" rx="11.3" ry="7.75" transform="rotate(142.17 499.9 266.71)" fill="#808080" fill-opacity="0.85"/>
<ellipse cx="499.9" cy="266.71" rx="18.31" ry="12.57" transform="rotate(142.17 499.9 266.71)" fill="none" stroke="#808080" stroke-width="0.4" stroke-opacity="0.6"/>
<path d="M480.75 267.05a18.31 12.57 0 1 0 36.63 0a18.31 12.57 0 1 0 -36.63 0ZM488.12 267.05a10.95 7.4 0 1 0 21.89 0a10.95 7.4 0 1 0 -21.89 0Z" fill-rule="evenodd" transform="rotate(142.17 499.06 267.05)" fill="#f3aea7" fill-opacity="0.85"/>
<ellipse cx="499.06" cy="267.05" rx="11.3" ry="7.75" transform="rotate(142.17 499.06 267.05)" fill="#E03424" fill-opacity="0.85"/>
<ellipse cx="499.06" cy="267.05" rx="18.31" ry="12.57" transform="rotate(142.17 499.06 267.05)" fill="none" stroke="#E03424" stroke-width="0.4" stroke-opacity="0.6"/>
<path d="M481.59 266.71a18.31 12.57 0 1 0 36.63 0a18.31 12.57 0 1 0 -36.63 0ZM488.96 266.71a10.95 7.4 0 1 0 21.89 0a10.95 7.4 0 1 0 -21.89 0Z" fill-rule="evenodd" transform="rotate(142.17 499.9 266.71)" fill="#99c5f8" fill-opacity="0.85"/>
<ellipse cx="499.9" cy="266.71" rx="11.3" ry="7.75" transform="rotate(142.17 499.9 266.71)" fill="#006FED" fill-opacity="0.85"/>
<ellipse cx="499.9" cy="266.71" rx="18.31" ry="12.57" transform="rotate(142.17 499.9 266.71)" fill="none" stroke="#006FED" stroke-width="0.4" stroke-opacity="0.6"/>
<ellipse cx="499.06" cy="267.05" rx="18.31" ry="12.57" transform="rotate(142.17 499.06 267.05)" fill="none" stroke="#000000" stroke-width="0.45" stroke-opacity="0.6"/>
<ellipse cx="499.06" cy="267.05" rx="11.3" ry="7.75" transform="rotate(142.17 499.06 267.05)" fill="none" stroke="#000000" stroke-width="0.45" stroke-opacity="0.6"/>
</g>
<rect x="470.16" y="239.38" width="55.8" height="56.7" fill="none" stroke="#666" stroke-width="0.8"/>
<line x1="476.76" y1="296.08" x2="476.76" y2="297.48" stroke="#555" stroke-width="0.7"/>
<line x1="489.96" y1="296.08" x2="489.96" y2="297.48" stroke="#555" stroke-width="0.7"/>
<line x1="503.16" y1="296.08" x2="503.16" y2="297.48" stroke="#555" stroke-width="0.7"/>
<line x1="516.36" y1="296.08" x2="516.36" y2="297.48" stroke="#555" stroke-width="0.7"/>
<line x1="468.76" y1="289.78" x2="470.16" y2="289.78" stroke="#555" stroke-width="0.7"/>
<line x1="468.76" y1="278.83" x2="470.16" y2="278.83" stroke="#555" stroke-width="0.7"/>
<line x1="468.76" y1="267.88" x2="470.16" y2="267.88" stroke="#555" stroke-width="0.7"/>
<line x1="468.76" y1="256.93" x2="470.16" y2="256.93" stroke="#555" stroke-width="0.7"/>
<line x1="468.76" y1="245.98" x2="470.16" y2="245.98" stroke="#555" stroke-width="0.7"/>
<g clip-path="url(#c1_4_2)">
<path d="M532.78 266.71a19.16 9.57 0 1 0 38.31 0a19.16 9.57 0 1 0 -38.31 0ZM540.47 266.71a11.47 5.56 0 1 0 22.93 0a11.47 5.56 0 1 0 -22.93 0Z" fill-rule="evenodd" transform="rotate(-135.97 551.93 266.71)" fill="#cccccc" fill-opacity="0.85"/>
<ellipse cx="551.93" cy="266.71" rx="11.82" ry="5.91" transform="rotate(-135.97 551.93 266.71)" fill="#808080" fill-opacity="0.85"/>
<ellipse cx="551.93" cy="266.71" rx="19.16" ry="9.57" transform="rotate(-135.97 551.93 266.71)" fill="none" stroke="#808080" stroke-width="0.4" stroke-opacity="0.6"/>
<path d="M535.43 267.05a19.52 9.73 0 1 0 39.03 0a19.52 9.73 0 1 0 -39.03 0ZM543.26 267.05a11.69 5.65 0 1 0 23.38 0a11.69 5.65 0 1 0 -23.38 0Z" fill-rule="evenodd" transform="rotate(-137.64 554.95 267.05)" fill="#f3aea7" fill-opacity="0.85"/>
<ellipse cx="554.95" cy="267.05" rx="12.04" ry="6" transform="rotate(-137.64 554.95 267.05)" fill="#E03424" fill-opacity="0.85"/>
<ellipse cx="554.95" cy="267.05" rx="19.52" ry="9.73" transform="rotate(-137.64 554.95 267.05)" fill="none" stroke="#E03424" stroke-width="0.4" stroke-opacity="0.6"/>
<path d="M532.78 266.71a19.16 9.57 0 1 0 38.31 0a19.16 9.57 0 1 0 -38.31 0ZM540.47 266.71a11.47 5.56 0 1 0 22.93 0a11.47 5.56 0 1 0 -22.93 0Z" fill-rule="evenodd" transform="rotate(-135.97 551.93 266.71)" fill="#99c5f8" fill-opacity="0.85"/>
<ellipse cx="551.93" cy="266.71" rx="11.82" ry="5.91" transform="rotate(-135.97 551.93 266.71)" fill="#006FED" fill-opacity="0.85"/>
<ellipse cx="551.93" cy="266.71" rx="19.16" ry="9.57" transform="rotate(-135.97 551.93 266.71)" fill="none" stroke="#006FED" stroke-width="0.4" stroke-opacity="0.6"/>
<ellipse cx="554.95" cy="267.05" rx="19.52" ry="9.73" transform="rotate(-137.64 554.95 267.05)" fill="none" stroke="#000000" stroke-width="0.45" stroke-opacity="0.6"/>
<ellipse cx="554.95" cy="267.05" rx="12.04" ry="6" transform="rotate(-137.64 554.95 267.05)" fill="none" stroke="#000000" stroke-width="0.45" stroke-opacity="0.6"/>
</g>
<rect x="528.72" y="239.38" width="55.8" height="56.7" fill="none" stroke="#666" stroke-width="0.8"/>
<line x1="536.82" y1="296.08" x2="536.82" y2="297.48" stroke="#555" stroke-width="0.7"/>
<line x1="550.45" y1="296.08" x2="550.45" y2="297.48" stroke="#555" stroke-width="0.7"/>
<line x1="564.09" y1="296.08" x2="564.09" y2="297.48" stroke="#555" stroke-width="0.7"/>
<line x1="577.72" y1="296.08" x2="577.72" y2="297.48" stroke="#555" stroke-width="0.7"/>
<line x1="527.32" y1="289.78" x2="528.72" y2="289.78" stroke="#555" stroke-width="0.7"/>
<line x1="527.32" y1="278.83" x2="528.72" y2="278.83" stroke="#555" stroke-width="0.7"/>
<line x1="527.32" y1="267.88" x2="528.72" y2="267.88" stroke="#555" stroke-width="0.7"/>
<line x1="527.32" y1="256.93" x2="528.72" y2="256.93" stroke="#555" stroke-width="0.7"/>
<line x1="527.32" y1="245.98" x2="528.72" y2="245.98" stroke="#555" stroke-width="0.7"/>
<g clip-path="url(#c1_4_3)">
<path d="M596.35 266.71a19.95 11.91 0 1 0 39.9 0a19.95 11.91 0 1 0 -39.9 0ZM604.34 266.71a11.95 7 0 1 0 23.91 0a11.95 7 0 1 0 -23.91 0Z" fill-rule="evenodd" transform="rotate(145.36 616.3 266.71)" fill="#cccccc" fill-opacity="0.85"/>
<ellipse cx="616.3" cy="266.71" rx="12.3" ry="7.35" transform="rotate(145.36 616.3 266.71)" fill="#808080" fill-opacity="0.85"/>
<ellipse cx="616.3" cy="266.71" rx="19.95" ry="11.91" transform="rotate(145.36 616.3 266.71)" fill="none" stroke="#808080" stroke-width="0.4" stroke-opacity="0.6"/>
<path d="M597.02 267.05a19.95 11.91 0 1 0 39.9 0a19.95 11.91 0 1 0 -39.9 0ZM605.01 267.05a11.95 7 0 1 0 23.91 0a11.95 7 0 1 0 -23.91 0Z" fill-rule="evenodd" transform="rotate(145.36 616.97 267.05)" fill="#f3aea7" fill-opacity="0.85"/>
<ellipse cx="616.97" cy="267.05" rx="12.3" ry="7.35" transform="rotate(145.36 616.97 267.05)" fill="#E03424" fill-opacity="0.85"/>
<ellipse cx="616.97" cy="267.05" rx="19.95" ry="11.91" transform="rotate(145.36 616.97 267.05)" fill="none" stroke="#E03424" stroke-width="0.4" stroke-opacity="0.6"/>
<path d="M596.35 266.71a19.95 11.91 0 1 0 39.9 0a19.95 11.91 0 1 0 -39.9 0ZM604.34 266.71a11.95 7 0 1 0 23.91 0a11.95 7 0 1 0 -23.91 0Z" fill-rule="evenodd" transform="rotate(145.36 616.3 266.71)" fill="#99c5f8" fill-opacity="0.85"/>
<ellipse cx="616.3" cy="266.71" rx="12.3" ry="7.35" transform="rotate(145.36 616.3 266.71)" fill="#006FED" fill-opacity="0.85"/>
<ellipse cx="616.3" cy="266.71" rx="19.95" ry="11.91" transform="rotate(145.36 616.3 266.71)" fill="none" stroke="#006FED" stroke-width="0.4" stroke-opacity="0.6"/>
<ellipse cx="616.97" cy="267.05" rx="19.95" ry="11.91" transform="rotate(145.36 616.97 267.05)" fill="none" stroke="#000000" stroke-width="0.45" stroke-opacity="0.6"/>
<ellipse cx="616.97" cy="267.05" rx="12.3" ry="7.35" transform="rotate(145.36 616.97 267.05)" fill="none" stroke="#000000" stroke-width="0.45" stroke-opacity="0.6"/>
</g>
<rect x="587.28" y="239.38" width="55.8" height="56.7" fill="none" stroke="#666" stroke-width="0.8"/>
<line x1="597.48" y1="296.08" x2="597.48" y2="297.48" stroke="#555" stroke-width="0.7"/>
<line x1="609.18" y1="296.08" x2="609.18" y2="297.48" stroke="#555" stroke-width="0.7"/>
<line x1="620.88" y1="296.08" x2="620.88" y2="297.48" stroke="#555" stroke-width="0.7"/>
<line x1="632.58" y1="296.08" x2="632.58" y2="297.48" stroke="#555" stroke-width="0.7"/>
<line x1="585.88" y1="289.78" x2="587.28" y2="289.78" stroke="#555" stroke-width="0.7"/>
<line x1="585.88" y1="278.83" x2="587.28" y2="278.83" stroke="#555" stroke-width="0.7"/>
<line x1="585.88" y1="267.88" x2="587.28" y2="267.88" stroke="#555" stroke-width="0.7"/>
<line x1="585.88" y1="256.93" x2="587.28" y2="256.93" stroke="#555" stroke-width="0.7"/>
<line x1="585.88" y1="245.98" x2="587.28" y2="245.98" stroke="#555" stroke-width="0.7"/>
<g clip-path="url(#c1_4_4)">
<polyline points="645.84,296.08 646.54,296.07 647.24,296.07 647.93,296.07 648.63,296.06 649.33,296.05 650.02,296.03 650.72,296 651.42,295.97 652.12,295.92 652.82,295.85 653.51,295.75 654.21,295.62 654.91,295.44 655.61,295.2 656.3,294.89 657,294.49 657.7,293.98 658.39,293.34 659.09,292.54 659.79,291.56 660.49,290.38 661.19,288.98 661.88,287.33 662.58,285.42 663.28,283.24 663.98,280.81 664.67,278.11 665.37,275.19 666.07,272.07 666.76,268.81 667.46,265.46 668.16,262.09 668.86,258.79 669.56,255.65 670.25,252.74 670.95,250.16 671.65,247.99 672.35,246.29 673.04,245.14 673.74,244.55 674.44,244.56 675.13,245.17 675.83,246.35 676.53,248.06 677.23,250.25 677.93,252.85 678.62,255.77 679.32,258.92 680.02,262.23 680.72,265.59 681.41,268.94 682.11,272.2 682.81,275.31 683.5,278.23 684.2,280.91 684.9,283.34 685.6,285.5 686.3,287.4 686.99,289.04 687.69,290.43 688.39,291.6 689.09,292.57 689.78,293.36 690.48,294 691.18,294.51 691.88,294.9 692.57,295.21 693.27,295.44 693.97,295.62 694.67,295.75 695.36,295.85 696.06,295.92 696.76,295.97 697.46,296 698.15,296.03 698.85,296.05 699.55,296.06 700.25,296.07 700.94,296.07 701.64,296.07" fill="none" stroke="#808080" stroke-width="0.8" stroke-opacity="0.5"/>
<polyline points="645.84,296.08 646.54,296.07 647.24,296.07 647.93,296.06 648.63,296.05 649.33,296.04 650.02,296.02 650.72,296 651.42,295.96 652.12,295.9 652.82,295.82 653.51,295.72 654.21,295.58 654.91,295.39 655.61,295.13 656.3,294.8 657,294.38 657.7,293.84 658.39,293.16 659.09,292.32 659.79,291.3 660.49,290.07 661.19,288.6 661.88,286.89 662.58,284.92 663.28,282.68 663.98,280.18 664.67,277.43 665.37,274.46 666.07,271.3 666.76,268.01 667.46,264.65 668.16,261.29 668.86,258.02 669.56,254.92 670.25,252.09 670.95,249.6 671.65,247.53 672.35,245.96 673.04,244.94 673.74,244.5 674.44,244.66 675.13,245.4 675.83,246.72 676.53,248.55 677.23,250.84 677.93,253.52 678.62,256.51 679.32,259.71 680.02,263.03 680.72,266.4 681.41,269.74 682.11,272.96 682.81,276.03 683.5,278.89 684.2,281.52 684.9,283.88 685.6,285.98 686.3,287.81 686.99,289.39 687.69,290.73 688.39,291.85 689.09,292.78 689.78,293.53 690.48,294.13 691.18,294.61 691.88,294.98 692.57,295.27 693.27,295.49 693.97,295.66 694.67,295.78 695.36,295.87 696.06,295.93 696.76,295.98 697.46,296.01 698.15,296.03 698.85,296.05 699.55,296.06 700.25,296.07 700.94,296.07 701.64,296.07" fill="none" stroke="#E03424" stroke-width="0.8" stroke-opacity="0.6"/>
<polyline points="645.84,296.08 646.54,296.07 647.24,296.07 647.93,296.06 648.63,296.05 649.33,296.04 650.02,296.02 650.72,296 651.42,295.96 652.12,295.9 652.82,295.82 653.51,295.72 654.21,295.58 654.91,295.39 655.61,295.13 656.3,294.8 657,294.38 657.7,293.84 658.39,293.16 659.09,292.32 659.79,291.3 660.49,290.07 661.19,288.6 661.88,286.89 662.58,284.92 663.28,282.68 663.98,280.18 664.67,277.43 665.37,274.46 666.07,271.3 666.76,268.01 667.46,264.65 668.16,261.29 668.86,258.02 669.56,254.92 670.25,252.09 670.95,249.6 671.65,247.53 672.35,245.96 673.04,244.94 673.74,244.5 674.44,244.66 675.13,245.4 675.83,246.72 676.53,248.55 677.23,250.84 677.93,253.52 678.62,256.51 679.32,259.71 680.02,263.03 680.72,266.4 681.41,269.74 682.11,272.96 682.81,276.03 683.5,278.89 684.2,281.52 684.9,283.88 685.6,285.98 686.3,287.81 686.99,289.39 687.69,290.73 688.39,291.85 689.09,292.78 689.78,293.53 690.48,294.13 691.18,294.61 691.88,294.98 692.57,295.27 693.27,295.49 693.97,295.66 694.67,295.78 695.36,295.87 696.06,295.93 696.76,295.98 697.46,296.01 698.15,296.03 698.85,296.05 699.55,296.06 700.25,296.07 700.94,296.07 701.64,296.07" fill="none" stroke="#000000" stroke-width="0.6" stroke-opacity="0.45"/>
<polyline points="645.84,296.08 646.54,296.07 647.24,296.07 647.93,296.07 648.63,296.06 649.33,296.05 650.02,296.03 650.72,296 651.42,295.97 652.12,295.92 652.82,295.85 653.51,295.75 654.21,295.62 654.91,295.44 655.61,295.2 656.3,294.89 657,294.49 657.7,293.98 658.39,293.34 659.09,292.54 659.79,291.56 660.49,290.38 661.19,288.98 661.88,287.33 662.58,285.42 663.28,283.24 663.98,280.81 664.67,278.11 665.37,275.19 666.07,272.07 666.76,268.81 667.46,265.46 668.16,262.09 668.86,258.79 669.56,255.65 670.25,252.74 670.95,250.16 671.65,247.99 672.35,246.29 673.04,245.14 673.74,244.55 674.44,244.56 675.13,245.17 675.83,246.35 676.53,248.06 677.23,250.25 677.93,252.85 678.62,255.77 679.32,258.92 680.02,262.23 680.72,265.59 681.41,268.94 682.11,272.2 682.81,275.31 683.5,278.23 684.2,280.91 684.9,283.34 685.6,285.5 686.3,287.4 686.99,289.04 687.69,290.43 688.39,291.6 689.09,292.57 689.78,293.36 690.48,294 691.18,294.51 691.88,294.9 692.57,295.21 693.27,295.44 693.97,295.62 694.67,295.75 695.36,295.85 696.06,295.92 696.76,295.97 697.46,296 698.15,296.03 698.85,296.05 699.55,296.06 700.25,296.07 700.94,296.07 701.64,296.07" fill="none" stroke="#006FED" stroke-width="0.85" stroke-opacity="0.6"/>
</g>
<rect x="645.84" y="239.38" width="55.8" height="56.7" fill="none" stroke="#666" stroke-width="0.8"/>
<line x1="652.04" y1="296.08" x2="652.04" y2="297.48" stroke="#555" stroke-width="0.7"/>
<line x1="662.82" y1="296.08" x2="662.82" y2="297.48" stroke="#555" stroke-width="0.7"/>
<line x1="673.59" y1="296.08" x2="673.59" y2="297.48" stroke="#555" stroke-width="0.7"/>
<line x1="684.37" y1="296.08" x2="684.37" y2="297.48" stroke="#555" stroke-width="0.7"/>
<line x1="695.14" y1="296.08" x2="695.14" y2="297.48" stroke="#555" stroke-width="0.7"/>
<g clip-path="url(#c1_5_0)">
<path d="M421.42 324.29a18.75 15.22 0 1 0 37.49 0a18.75 15.22 0 1 0 -37.49 0ZM428.96 324.29a11.21 9.04 0 1 0 22.42 0a11.21 9.04 0 1 0 -22.42 0Z" fill-rule="evenodd" transform="rotate(141.82 440.17 324.29)" fill="#cccccc" fill-opacity="0.85"/>
<ellipse cx="440.17" cy="324.29" rx="11.56" ry="9.39" transform="rotate(141.82 440.17 324.29)" fill="#808080" fill-opacity="0.85"/>
<ellipse cx="440.17" cy="324.29" rx="18.75" ry="15.22" transform="rotate(141.82 440.17 324.29)" fill="none" stroke="#808080" stroke-width="0.4" stroke-opacity="0.6"/>
<path d="M421.03 324.4a18.75 15.22 0 1 0 37.49 0a18.75 15.22 0 1 0 -37.49 0ZM428.57 324.4a11.21 9.04 0 1 0 22.42 0a11.21 9.04 0 1 0 -22.42 0Z" fill-rule="evenodd" transform="rotate(141.82 439.78 324.4)" fill="#f3aea7" fill-opacity="0.85"/>
<ellipse cx="439.78" cy="324.4" rx="11.56" ry="9.39" transform="rotate(141.82 439.78 324.4)" fill="#E03424" fill-opacity="0.85"/>
<ellipse cx="439.78" cy="324.4" rx="18.75" ry="15.22" transform="rotate(141.82 439.78 324.4)" fill="none" stroke="#E03424" stroke-width="0.4" stroke-opacity="0.6"/>
<path d="M421.42 324.29a18.75 15.22 0 1 0 37.49 0a18.75 15.22 0 1 0 -37.49 0ZM428.96 324.29a11.21 9.04 0 1 0 22.42 0a11.21 9.04 0 1 0 -22.42 0Z" fill-rule="evenodd" transform="rotate(141.82 440.17 324.29)" fill="#99c5f8" fill-opacity="0.85"/>
<ellipse cx="440.17" cy="324.29" rx="11.56" ry="9.39" transform="rotate(141.82 440.17 324.29)" fill="#006FED" fill-opacity="0.85"/>
<ellipse cx="440.17" cy="324.29" rx="18.75" ry="15.22" transform="rotate(141.82 440.17 324.29)" fill="none" stroke="#006FED" stroke-width="0.4" stroke-opacity="0.6"/>
<ellipse cx="439.78" cy="324.4" rx="18.75" ry="15.22" transform="rotate(141.82 439.78 324.4)" fill="none" stroke="#000000" stroke-width="0.45" stroke-opacity="0.6"/>
<ellipse cx="439.78" cy="324.4" rx="11.56" ry="9.39" transform="rotate(141.82 439.78 324.4)" fill="none" stroke="#000000" stroke-width="0.45" stroke-opacity="0.6"/>
</g>
<rect x="411.6" y="298.6" width="55.8" height="56.7" fill="none" stroke="#666" stroke-width="0.8"/>
<line x1="421.6" y1="355.3" x2="421.6" y2="356.7" stroke="#555" stroke-width="0.7"/>
<line x1="439" y1="355.3" x2="439" y2="356.7" stroke="#555" stroke-width="0.7"/>
<line x1="456.4" y1="355.3" x2="456.4" y2="356.7" stroke="#555" stroke-width="0.7"/>
<line x1="410.2" y1="345.04" x2="411.6" y2="345.04" stroke="#555" stroke-width="0.7"/>
<line x1="410.2" y1="332.47" x2="411.6" y2="332.47" stroke="#555" stroke-width="0.7"/>
<line x1="410.2" y1="319.9" x2="411.6" y2="319.9" stroke="#555" stroke-width="0.7"/>
<line x1="410.2" y1="307.34" x2="411.6" y2="307.34" stroke="#555" stroke-width="0.7"/>
<text class="tl" x="421.6" y="365.3" transform="rotate(-20 421.6 363.5)" text-anchor="middle">1.040</text>
<text class="tl" x="439" y="365.3" transform="rotate(-20 439 363.5)" text-anchor="middle">1.041</text>
<text class="tl" x="456.4" y="365.3" transform="rotate(-20 456.4 363.5)" text-anchor="middle">1.042</text>
<text class="tl" x="409" y="347.14" text-anchor="end">0.025</text>
<text class="tl" x="409" y="334.57" text-anchor="end">0.050</text>
<text class="tl" x="409" y="322" text-anchor="end">0.075</text>
<text class="tl" x="409" y="309.44" text-anchor="end">0.100</text>
<g clip-path="url(#c1_5_1)">
<path d="M481.21 324.29a18.7 14.02 0 1 0 37.39 0a18.7 14.02 0 1 0 -37.39 0ZM488.72 324.29a11.18 8.29 0 1 0 22.36 0a11.18 8.29 0 1 0 -22.36 0Z" fill-rule="evenodd" transform="rotate(133.36 499.9 324.29)" fill="#cccccc" fill-opacity="0.85"/>
<ellipse cx="499.9" cy="324.29" rx="11.53" ry="8.64" transform="rotate(133.36 499.9 324.29)" fill="#808080" fill-opacity="0.85"/>
<ellipse cx="499.9" cy="324.29" rx="18.7" ry="14.02" transform="rotate(133.36 499.9 324.29)" fill="none" stroke="#808080" stroke-width="0.4" stroke-opacity="0.6"/>
<path d="M480.37 324.4a18.7 14.02 0 1 0 37.39 0a18.7 14.02 0 1 0 -37.39 0ZM487.88 324.4a11.18 8.29 0 1 0 22.36 0a11.18 8.29 0 1 0 -22.36 0Z" fill-rule="evenodd" transform="rotate(133.36 499.06 324.4)" fill="#f3aea7" fill-opacity="0.85"/>
<ellipse cx="499.06" cy="324.4" rx="11.53" ry="8.64" transform="rotate(133.36 499.06 324.4)" fill="#E03424" fill-opacity="0.85"/>
<ellipse cx="499.06" cy="324.4" rx="18.7" ry="14.02" transform="rotate(133.36 499.06 324.4)" fill="none" stroke="#E03424" stroke-width="0.4" stroke-opacity="0.6"/>
<path d="M481.21 324.29a18.7 14.02 0 1 0 37.39 0a18.7 14.02 0 1 0 -37.39 0ZM488.72 324.29a11.18 8.29 0 1 0 22.36 0a11.18 8.29 0 1 0 -22.36 0Z" fill-rule="evenodd" transform="rotate(133.36 499.9 324.29)" fill="#99c5f8" fill-opacity="0.85"/>
<ellipse cx="499.9" cy="324.29" rx="11.53" ry="8.64" transform="rotate(133.36 499.9 324.29)" fill="#006FED" fill-opacity="0.85"/>
<ellipse cx="499.9" cy="324.29" rx="18.7" ry="14.02" transform="rotate(133.36 499.9 324.29)" fill="none" stroke="#006FED" stroke-width="0.4" stroke-opacity="0.6"/>
<ellipse cx="499.06" cy="324.4" rx="18.7" ry="14.02" transform="rotate(133.36 499.06 324.4)" fill="none" stroke="#000000" stroke-width="0.45" stroke-opacity="0.6"/>
<ellipse cx="499.06" cy="324.4" rx="11.53" ry="8.64" transform="rotate(133.36 499.06 324.4)" fill="none" stroke="#000000" stroke-width="0.45" stroke-opacity="0.6"/>
</g>
<rect x="470.16" y="298.6" width="55.8" height="56.7" fill="none" stroke="#666" stroke-width="0.8"/>
<line x1="476.76" y1="355.3" x2="476.76" y2="356.7" stroke="#555" stroke-width="0.7"/>
<line x1="489.96" y1="355.3" x2="489.96" y2="356.7" stroke="#555" stroke-width="0.7"/>
<line x1="503.16" y1="355.3" x2="503.16" y2="356.7" stroke="#555" stroke-width="0.7"/>
<line x1="516.36" y1="355.3" x2="516.36" y2="356.7" stroke="#555" stroke-width="0.7"/>
<line x1="468.76" y1="345.04" x2="470.16" y2="345.04" stroke="#555" stroke-width="0.7"/>
<line x1="468.76" y1="332.47" x2="470.16" y2="332.47" stroke="#555" stroke-width="0.7"/>
<line x1="468.76" y1="319.9" x2="470.16" y2="319.9" stroke="#555" stroke-width="0.7"/>
<line x1="468.76" y1="307.34" x2="470.16" y2="307.34" stroke="#555" stroke-width="0.7"/>
<text class="tl" x="476.76" y="365.3" transform="rotate(-20 476.76 363.5)" text-anchor="middle">0.0216</text>
<text class="tl" x="489.96" y="365.3" transform="rotate(-20 489.96 363.5)" text-anchor="middle">0.0220</text>
<text class="tl" x="503.16" y="365.3" transform="rotate(-20 503.16 363.5)" text-anchor="middle">0.0224</text>
<text class="tl" x="516.36" y="365.3" transform="rotate(-20 516.36 363.5)" text-anchor="middle">0.0228</text>
<g clip-path="url(#c1_5_2)">
<path d="M532.31 324.29a19.62 11.25 0 1 0 39.24 0a19.62 11.25 0 1 0 -39.24 0ZM540.18 324.29a11.75 6.59 0 1 0 23.5 0a11.75 6.59 0 1 0 -23.5 0Z" fill-rule="evenodd" transform="rotate(49.83 551.93 324.29)" fill="#cccccc" fill-opacity="0.85"/>
<ellipse cx="551.93" cy="324.29" rx="12.1" ry="6.94" transform="rotate(49.83 551.93 324.29)" fill="#808080" fill-opacity="0.85"/>
<ellipse cx="551.93" cy="324.29" rx="19.62" ry="11.25" transform="rotate(49.83 551.93 324.29)" fill="none" stroke="#808080" stroke-width="0.4" stroke-opacity="0.6"/>
<path d="M535.03 324.4a19.92 11.47 0 1 0 39.84 0a19.92 11.47 0 1 0 -39.84 0ZM543.01 324.4a11.94 6.73 0 1 0 23.87 0a11.94 6.73 0 1 0 -23.87 0Z" fill-rule="evenodd" transform="rotate(47.85 554.95 324.4)" fill="#f3aea7" fill-opacity="0.85"/>
<ellipse cx="554.95" cy="324.4" rx="12.29" ry="7.08" transform="rotate(47.85 554.95 324.4)" fill="#E03424" fill-opacity="0.85"/>
<ellipse cx="554.95" cy="324.4" rx="19.92" ry="11.47" transform="rotate(47.85 554.95 324.4)" fill="none" stroke="#E03424" stroke-width="0.4" stroke-opacity="0.6"/>
<path d="M532.31 324.29a19.62 11.25 0 1 0 39.24 0a19.62 11.25 0 1 0 -39.24 0ZM540.18 324.29a11.75 6.59 0 1 0 23.5 0a11.75 6.59 0 1 0 -23.5 0Z" fill-rule="evenodd" transform="rotate(49.83 551.93 324.29)" fill="#99c5f8" fill-opacity="0.85"/>
<ellipse cx="551.93" cy="324.29" rx="12.1" ry="6.94" transform="rotate(49.83 551.93 324.29)" fill="#006FED" fill-opacity="0.85"/>
<ellipse cx="551.93" cy="324.29" rx="19.62" ry="11.25" transform="rotate(49.83 551.93 324.29)" fill="none" stroke="#006FED" stroke-width="0.4" stroke-opacity="0.6"/>
<ellipse cx="554.95" cy="324.4" rx="19.92" ry="11.47" transform="rotate(47.85 554.95 324.4)" fill="none" stroke="#000000" stroke-width="0.45" stroke-opacity="0.6"/>
<ellipse cx="554.95" cy="324.4" rx="12.29" ry="7.08" transform="rotate(47.85 554.95 324.4)" fill="none" stroke="#000000" stroke-width="0.45" stroke-opacity="0.6"/>
</g>
<rect x="528.72" y="298.6" width="55.8" height="56.7" fill="none" stroke="#666" stroke-width="0.8"/>
<line x1="536.82" y1="355.3" x2="536.82" y2="356.7" stroke="#555" stroke-width="0.7"/>
<line x1="550.45" y1="355.3" x2="550.45" y2="356.7" stroke="#555" stroke-width="0.7"/>
<line x1="564.09" y1="355.3" x2="564.09" y2="356.7" stroke="#555" stroke-width="0.7"/>
<line x1="577.72" y1="355.3" x2="577.72" y2="356.7" stroke="#555" stroke-width="0.7"/>
<line x1="527.32" y1="345.04" x2="528.72" y2="345.04" stroke="#555" stroke-width="0.7"/>
<line x1="527.32" y1="332.47" x2="528.72" y2="332.47" stroke="#555" stroke-width="0.7"/>
<line x1="527.32" y1="319.9" x2="528.72" y2="319.9" stroke="#555" stroke-width="0.7"/>
<line x1="527.32" y1="307.34" x2="528.72" y2="307.34" stroke="#555" stroke-width="0.7"/>
<text class="tl" x="536.82" y="365.3" transform="rotate(-20 536.82 363.5)" text-anchor="middle">0.1150</text>
<text class="tl" x="550.45" y="365.3" transform="rotate(-20 550.45 363.5)" text-anchor="middle">0.1175</text>
<text class="tl" x="564.09" y="365.3" transform="rotate(-20 564.09 363.5)" text-anchor="middle">0.1200</text>
<text class="tl" x="577.72" y="365.3" transform="rotate(-20 577.72 363.5)" text-anchor="middle">0.1225</text>
<g clip-path="url(#c1_5_3)">
<path d="M592.1 324.29a24.19 2.72 0 1 0 48.38 0a24.19 2.72 0 1 0 -48.38 0ZM601.73 324.29a14.57 1.33 0 1 0 29.14 0a14.57 1.33 0 1 0 -29.14 0Z" fill-rule="evenodd" transform="rotate(136.88 616.3 324.29)" fill="#cccccc" fill-opacity="0.85"/>
<ellipse cx="616.3" cy="324.29" rx="14.92" ry="1.68" transform="rotate(136.88 616.3 324.29)" fill="#808080" fill-opacity="0.85"/>
<ellipse cx="616.3" cy="324.29" rx="24.19" ry="2.72" transform="rotate(136.88 616.3 324.29)" fill="none" stroke="#808080" stroke-width="0.4" stroke-opacity="0.6"/>
<path d="M592.77 324.4a24.19 2.72 0 1 0 48.38 0a24.19 2.72 0 1 0 -48.38 0ZM602.4 324.4a14.57 1.33 0 1 0 29.14 0a14.57 1.33 0 1 0 -29.14 0Z" fill-rule="evenodd" transform="rotate(136.88 616.97 324.4)" fill="#f3aea7" fill-opacity="0.85"/>
<ellipse cx="616.97" cy="324.4" rx="14.92" ry="1.68" transform="rotate(136.88 616.97 324.4)" fill="#E03424" fill-opacity="0.85"/>
<ellipse cx="616.97" cy="324.4" rx="24.19" ry="2.72" transform="rotate(136.88 616.97 324.4)" fill="none" stroke="#E03424" stroke-width="0.4" stroke-opacity="0.6"/>
<path d="M592.1 324.29a24.19 2.72 0 1 0 48.38 0a24.19 2.72 0 1 0 -48.38 0ZM601.73 324.29a14.57 1.33 0 1 0 29.14 0a14.57 1.33 0 1 0 -29.14 0Z" fill-rule="evenodd" transform="rotate(136.88 616.3 324.29)" fill="#99c5f8" fill-opacity="0.85"/>
<ellipse cx="616.3" cy="324.29" rx="14.92" ry="1.68" transform="rotate(136.88 616.3 324.29)" fill="#006FED" fill-opacity="0.85"/>
<ellipse cx="616.3" cy="324.29" rx="24.19" ry="2.72" transform="rotate(136.88 616.3 324.29)" fill="none" stroke="#006FED" stroke-width="0.4" stroke-opacity="0.6"/>
<ellipse cx="616.97" cy="324.4" rx="24.19" ry="2.72" transform="rotate(136.88 616.97 324.4)" fill="none" stroke="#000000" stroke-width="0.45" stroke-opacity="0.6"/>
<ellipse cx="616.97" cy="324.4" rx="14.92" ry="1.68" transform="rotate(136.88 616.97 324.4)" fill="none" stroke="#000000" stroke-width="0.45" stroke-opacity="0.6"/>
</g>
<rect x="587.28" y="298.6" width="55.8" height="56.7" fill="none" stroke="#666" stroke-width="0.8"/>
<line x1="597.48" y1="355.3" x2="597.48" y2="356.7" stroke="#555" stroke-width="0.7"/>
<line x1="609.18" y1="355.3" x2="609.18" y2="356.7" stroke="#555" stroke-width="0.7"/>
<line x1="620.88" y1="355.3" x2="620.88" y2="356.7" stroke="#555" stroke-width="0.7"/>
<line x1="632.58" y1="355.3" x2="632.58" y2="356.7" stroke="#555" stroke-width="0.7"/>
<line x1="585.88" y1="345.04" x2="587.28" y2="345.04" stroke="#555" stroke-width="0.7"/>
<line x1="585.88" y1="332.47" x2="587.28" y2="332.47" stroke="#555" stroke-width="0.7"/>
<line x1="585.88" y1="319.9" x2="587.28" y2="319.9" stroke="#555" stroke-width="0.7"/>
<line x1="585.88" y1="307.34" x2="587.28" y2="307.34" stroke="#555" stroke-width="0.7"/>
<text class="tl" x="597.48" y="365.3" transform="rotate(-20 597.48 363.5)" text-anchor="middle">3.00</text>
<text class="tl" x="609.18" y="365.3" transform="rotate(-20 609.18 363.5)" text-anchor="middle">3.04</text>
<text class="tl" x="620.88" y="365.3" transform="rotate(-20 620.88 363.5)" text-anchor="middle">3.08</text>
<text class="tl" x="632.58" y="365.3" transform="rotate(-20 632.58 363.5)" text-anchor="middle">3.12</text>
<g clip-path="url(#c1_5_4)">
<path d="M655.41 324.29a19.34 11 0 1 0 38.67 0a19.34 11 0 1 0 -38.67 0ZM663.17 324.29a11.58 6.44 0 1 0 23.15 0a11.58 6.44 0 1 0 -23.15 0Z" fill-rule="evenodd" transform="rotate(128.16 674.74 324.29)" fill="#cccccc" fill-opacity="0.85"/>
<ellipse cx="674.74" cy="324.29" rx="11.93" ry="6.79" transform="rotate(128.16 674.74 324.29)" fill="#808080" fill-opacity="0.85"/>
<ellipse cx="674.74" cy="324.29" rx="19.34" ry="11" transform="rotate(128.16 674.74 324.29)" fill="none" stroke="#808080" stroke-width="0.4" stroke-opacity="0.6"/>
<path d="M655.07 324.4a19.34 11 0 1 0 38.67 0a19.34 11 0 1 0 -38.67 0ZM662.83 324.4a11.58 6.44 0 1 0 23.15 0a11.58 6.44 0 1 0 -23.15 0Z" fill-rule="evenodd" transform="rotate(128.16 674.41 324.4)" fill="#f3aea7" fill-opacity="0.85"/>
<ellipse cx="674.41" cy="324.4" rx="11.93" ry="6.79" transform="rotate(128.16 674.41 324.4)" fill="#E03424" fill-opacity="0.85"/>
<ellipse cx="674.41" cy="324.4" rx="19.34" ry="11" transform="rotate(128.16 674.41 324.4)" fill="none" stroke="#E03424" stroke-width="0.4" stroke-opacity="0.6"/>
<path d="M655.41 324.29a19.34 11 0 1 0 38.67 0a19.34 11 0 1 0 -38.67 0ZM663.17 324.29a11.58 6.44 0 1 0 23.15 0a11.58 6.44 0 1 0 -23.15 0Z" fill-rule="evenodd" transform="rotate(128.16 674.74 324.29)" fill="#99c5f8" fill-opacity="0.85"/>
<ellipse cx="674.74" cy="324.29" rx="11.93" ry="6.79" transform="rotate(128.16 674.74 324.29)" fill="#006FED" fill-opacity="0.85"/>
<ellipse cx="674.74" cy="324.29" rx="19.34" ry="11" transform="rotate(128.16 674.74 324.29)" fill="none" stroke="#006FED" stroke-width="0.4" stroke-opacity="0.6"/>
<ellipse cx="674.41" cy="324.4" rx="19.34" ry="11" transform="rotate(128.16 674.41 324.4)" fill="none" stroke="#000000" stroke-width="0.45" stroke-opacity="0.6"/>
<ellipse cx="674.41" cy="324.4" rx="11.93" ry="6.79" transform="rotate(128.16 674.41 324.4)" fill="none" stroke="#000000" stroke-width="0.45" stroke-opacity="0.6"/>
</g>
<rect x="645.84" y="298.6" width="55.8" height="56.7" fill="none" stroke="#666" stroke-width="0.8"/>
<line x1="652.04" y1="355.3" x2="652.04" y2="356.7" stroke="#555" stroke-width="0.7"/>
<line x1="662.82" y1="355.3" x2="662.82" y2="356.7" stroke="#555" stroke-width="0.7"/>
<line x1="673.59" y1="355.3" x2="673.59" y2="356.7" stroke="#555" stroke-width="0.7"/>
<line x1="684.37" y1="355.3" x2="684.37" y2="356.7" stroke="#555" stroke-width="0.7"/>
<line x1="695.14" y1="355.3" x2="695.14" y2="356.7" stroke="#555" stroke-width="0.7"/>
<line x1="644.44" y1="345.04" x2="645.84" y2="345.04" stroke="#555" stroke-width="0.7"/>
<line x1="644.44" y1="332.47" x2="645.84" y2="332.47" stroke="#555" stroke-width="0.7"/>
<line x1="644.44" y1="319.9" x2="645.84" y2="319.9" stroke="#555" stroke-width="0.7"/>
<line x1="644.44" y1="307.34" x2="645.84" y2="307.34" stroke="#555" stroke-width="0.7"/>
<text class="tl" x="652.04" y="365.3" transform="rotate(-20 652.04 363.5)" text-anchor="middle">0.952</text>
<text class="tl" x="662.82" y="365.3" transform="rotate(-20 662.82 363.5)" text-anchor="middle">0.960</text>
<text class="tl" x="673.59" y="365.3" transform="rotate(-20 673.59 363.5)" text-anchor="middle">0.968</text>
<text class="tl" x="684.37" y="365.3" transform="rotate(-20 684.37 363.5)" text-anchor="middle">0.976</text>
<text class="tl" x="695.14" y="365.3" transform="rotate(-20 695.14 363.5)" text-anchor="middle">0.984</text>
<g clip-path="url(#c1_5_5)">
<polyline points="704.4,355.3 705.1,355.3 705.8,355.29 706.49,355.29 707.19,355.29 707.89,355.28 708.59,355.27 709.28,355.26 709.98,355.24 710.68,355.21 711.38,355.17 712.07,355.11 712.77,355.03 713.47,354.92 714.17,354.78 714.86,354.59 715.56,354.35 716.26,354.03 716.96,353.62 717.65,353.1 718.35,352.46 719.05,351.67 719.75,350.71 720.44,349.56 721.14,348.2 721.84,346.61 722.54,344.78 723.23,342.7 723.93,340.37 724.63,337.81 725.33,335.02 726.02,332.05 726.72,328.92 727.42,325.7 728.12,322.44 728.81,319.22 729.51,316.11 730.21,313.19 730.91,310.54 731.6,308.24 732.3,306.36 733,304.95 733.7,304.05 734.39,303.71 735.09,303.92 735.79,304.68 736.49,305.97 737.18,307.75 737.88,309.96 738.58,312.53 739.28,315.39 739.97,318.46 740.67,321.66 741.37,324.92 742.07,328.15 742.76,331.31 743.46,334.32 744.16,337.16 744.86,339.78 745.55,342.16 746.25,344.3 746.95,346.19 747.65,347.84 748.34,349.25 749.04,350.45 749.74,351.46 750.44,352.29 751.13,352.96 751.83,353.5 752.53,353.94 753.23,354.28 753.92,354.54 754.62,354.74 755.32,354.89 756.02,355.01 756.71,355.09 757.41,355.15 758.11,355.2 758.81,355.23 759.5,355.25 760.2,355.27" fill="none" stroke="#808080" stroke-width="0.8" stroke-opacity="0.5"/>
<polyline points="704.4,355.3 705.1,355.3 705.8,355.3 706.49,355.29 707.19,355.29 707.89,355.28 708.59,355.27 709.28,355.26 709.98,355.24 710.68,355.21 711.38,355.18 712.07,355.12 712.77,355.05 713.47,354.95 714.17,354.82 714.86,354.64 715.56,354.41 716.26,354.11 716.96,353.72 717.65,353.24 718.35,352.63 719.05,351.88 719.75,350.96 720.44,349.86 721.14,348.55 721.84,347.01 722.54,345.24 723.23,343.22 723.93,340.95 724.63,338.44 725.33,335.71 726.02,332.77 726.72,329.68 727.42,326.48 728.12,323.22 728.81,319.99 729.51,316.84 730.21,313.87 730.91,311.15 731.6,308.76 732.3,306.77 733,305.24 733.7,304.22 734.39,303.74 735.09,303.82 735.79,304.45 736.49,305.62 737.18,307.28 737.88,309.39 738.58,311.88 739.28,314.68 739.97,317.71 740.67,320.89 741.37,324.14 742.07,327.38 742.76,330.56 743.46,333.61 744.16,336.5 744.86,339.17 745.55,341.61 746.25,343.81 746.95,345.76 747.65,347.47 748.34,348.94 749.04,350.18 749.74,351.23 750.44,352.1 751.13,352.81 751.83,353.39 752.53,353.84 753.23,354.2 753.92,354.48 754.62,354.7 755.32,354.86 756.02,354.98 756.71,355.07 757.41,355.14 758.11,355.19 758.81,355.22 759.5,355.25 760.2,355.26" fill="none" stroke="#E03424" stroke-width="0.8" stroke-opacity="0.6"/>
<polyline points="704.4,355.3 705.1,355.3 705.8,355.3 706.49,355.29 707.19,355.29 707.89,355.28 708.59,355.27 709.28,355.26 709.98,355.24 710.68,355.21 711.38,355.18 712.07,355.12 712.77,355.05 713.47,354.95 714.17,354.82 714.86,354.64 715.56,354.41 716.26,354.11 716.96,353.72 717.65,353.24 718.35,352.63 719.05,351.88 719.75,350.96 720.44,349.86 721.14,348.55 721.84,347.01 722.54,345.24 723.23,343.22 723.93,340.95 724.63,338.44 725.33,335.71 726.02,332.77 726.72,329.68 727.42,326.48 728.12,323.22 728.81,319.99 729.51,316.84 730.21,313.87 730.91,311.15 731.6,308.76 732.3,306.77 733,305.24 733.7,304.22 734.39,303.74 735.09,303.82 735.79,304.45 736.49,305.62 737.18,307.28 737.88,309.39 738.58,311.88 739.28,314.68 739.97,317.71 740.67,320.89 741.37,324.14 742.07,327.38 742.76,330.56 743.46,333.61 744.16,336.5 744.86,339.17 745.55,341.61 746.25,343.81 746.95,345.76 747.65,347.47 748.34,348.94 749.04,350.18 749.74,351.23 750.44,352.1 751.13,352.81 751.83,353.39 752.53,353.84 753.23,354.2 753.92,354.48 754.62,354.7 755.32,354.86 756.02,354.98 756.71,355.07 757.41,355.14 758.11,355.19 758.81,355.22 759.5,355.25 760.2,355.26" fill="none" stroke="#000000" stroke-width="0.6" stroke-opacity="0.45"/>
<polyline points="704.4,355.3 705.1,355.3 705.8,355.29 706.49,355.29 707.19,355.29 707.89,355.28 708.59,355.27 709.28,355.26 709.98,355.24 710.68,355.21 711.38,355.17 712.07,355.11 712.77,355.03 713.47,354.92 714.17,354.78 714.86,354.59 715.56,354.35 716.26,354.03 716.96,353.62 717.65,353.1 718.35,352.46 719.05,351.67 719.75,350.71 720.44,349.56 721.14,348.2 721.84,346.61 722.54,344.78 723.23,342.7 723.93,340.37 724.63,337.81 725.33,335.02 726.02,332.05 726.72,328.92 727.42,325.7 728.12,322.44 728.81,319.22 729.51,316.11 730.21,313.19 730.91,310.54 731.6,308.24 732.3,306.36 733,304.95 733.7,304.05 734.39,303.71 735.09,303.92 735.79,304.68 736.49,305.97 737.18,307.75 737.88,309.96 738.58,312.53 739.28,315.39 739.97,318.46 740.67,321.66 741.37,324.92 742.07,328.15 742.76,331.31 743.46,334.32 744.16,337.16 744.86,339.78 745.55,342.16 746.25,344.3 746.95,346.19 747.65,347.84 748.34,349.25 749.04,350.45 749.74,351.46 750.44,352.29 751.13,352.96 751.83,353.5 752.53,353.94 753.23,354.28 753.92,354.54 754.62,354.74 755.32,354.89 756.02,355.01 756.71,355.09 757.41,355.15 758.11,355.2 758.81,355.23 759.5,355.25 760.2,355.27" fill="none" stroke="#006FED" stroke-width="0.85" stroke-opacity="0.6"/>
</g>
<rect x="704.4" y="298.6" width="55.8" height="56.7" fill="none" stroke="#666" stroke-width="0.8"/>
<line x1="714.5" y1="355.3" x2="714.5" y2="356.7" stroke="#555" stroke-width="0.7"/>
<line x1="726.87" y1="355.3" x2="726.87" y2="356.7" stroke="#555" stroke-width="0.7"/>
<line x1="739.23" y1="355.3" x2="739.23" y2="356.7" stroke="#555" stroke-width="0.7"/>
<line x1="751.6" y1="355.3" x2="751.6" y2="356.7" stroke="#555" stroke-width="0.7"/>
<text class="tl" x="714.5" y="365.3" transform="rotate(-20 714.5 363.5)" text-anchor="middle">0.025</text>
<text class="tl" x="726.87" y="365.3" transform="rotate(-20 726.87 363.5)" text-anchor="middle">0.050</text>
<text class="tl" x="739.23" y="365.3" transform="rotate(-20 739.23 363.5)" text-anchor="middle">0.075</text>
<text class="tl" x="751.6" y="365.3" transform="rotate(-20 751.6 363.5)" text-anchor="middle">0.100</text>
<text class="al" x="439.5" y="373.8" text-anchor="middle">100<tspan font-style="italic">θ</tspan><tspan font-size="70%" dy="1.3" font-style="italic">MC</tspan></text>
<text class="al" x="498.06" y="373.8" text-anchor="middle">Ω<tspan font-size="70%" dy="1.3">b</tspan><tspan dy="-1.3" font-style="italic">h</tspan><tspan font-size="70%" dy="-2.2">2</tspan></text>
<text class="al" x="556.62" y="373.8" text-anchor="middle">Ω<tspan font-size="70%" dy="1.3">c</tspan><tspan dy="-1.3" font-style="italic">h</tspan><tspan font-size="70%" dy="-2.2">2</tspan></text>
<text class="al" x="615.18" y="373.8" text-anchor="middle">ln(10<tspan font-size="70%" dy="-2.4">10</tspan><tspan dy="2.4" font-style="italic">A</tspan><tspan font-size="70%" dy="1.3">s</tspan><tspan dy="-1.3">)</tspan></text>
<text class="al" x="673.74" y="373.8" text-anchor="middle"><tspan font-style="italic">n</tspan><tspan font-size="70%" dy="1.3">s</tspan></text>
<text class="al" x="732.3" y="373.8" text-anchor="middle"><tspan font-style="italic">τ</tspan></text>
<text class="al" x="390.2" y="90.07" transform="rotate(-90 390.2 90.07)" text-anchor="middle">Ω<tspan font-size="70%" dy="1.3">b</tspan><tspan dy="-1.3" font-style="italic">h</tspan><tspan font-size="70%" dy="-2.2">2</tspan></text>
<text class="al" x="390" y="149.29" transform="rotate(-90 390 149.29)" text-anchor="middle">Ω<tspan font-size="70%" dy="1.3">c</tspan><tspan dy="-1.3" font-style="italic">h</tspan><tspan font-size="70%" dy="-2.2">2</tspan></text>
<text class="al" x="395" y="208.51" transform="rotate(-90 395 208.51)" text-anchor="middle">ln(10<tspan font-size="70%" dy="-2.4">10</tspan><tspan dy="2.4" font-style="italic">A</tspan><tspan font-size="70%" dy="1.3">s</tspan><tspan dy="-1.3">)</tspan></text>
<text class="al" x="392.4" y="267.73" transform="rotate(-90 392.4 267.73)" text-anchor="middle"><tspan font-style="italic">n</tspan><tspan font-size="70%" dy="1.3">s</tspan></text>
<text class="al" x="393.3" y="326.95" transform="rotate(-90 393.3 326.95)" text-anchor="middle"><tspan font-style="italic">τ</tspan></text>
<rect x="484.6" y="0.3" width="178.8" height="42.4" rx="1.5" fill="#fff" fill-opacity="0.8" stroke="#d0d0d0" stroke-width="0.7"/>
<line x1="487.2" y1="5.4" x2="501.6" y2="5.4" stroke="#9a9a9a" stroke-width="0.8"/>
<text x="507" y="7.7" font-family="Liberation Sans, sans-serif" font-size="6.95" fill="#1a1a1a" stroke="#1a1a1a" stroke-width="0.22">Flat TT+lowP+lensing+NewBAO</text>
<rect x="487.2" y="12.95" width="14.4" height="5.1" fill="#808080" fill-opacity="0.85"/>
<text x="507" y="17.8" font-family="Liberation Sans, sans-serif" font-size="6.95" fill="#1a1a1a" stroke="#1a1a1a" stroke-width="0.22">Flat TT+lowP+lensing+NewBAO+<tspan dx="1.2" font-family="Liberation Serif, serif" font-style="italic" font-size="7.6">f</tspan><tspan dx="1.6" font-family="Liberation Serif, serif" font-style="italic" font-size="7.6">σ</tspan><tspan dx="0.6" font-family="Liberation Serif, serif" font-size="5.2" dy="1.4">8</tspan><tspan dy="-1.4"></tspan></text>
<rect x="487.2" y="23.45" width="14.4" height="5.1" fill="#E03424" fill-opacity="0.85"/>
<text x="507" y="28.3" font-family="Liberation Sans, sans-serif" font-size="6.95" fill="#1a1a1a" stroke="#1a1a1a" stroke-width="0.22">Flat TT+lowP+lensing+NewBAO+JLA+<tspan dx="1.1" font-family="Liberation Serif, serif" font-size="7.6" font-style="italic">H</tspan><tspan font-family="Liberation Serif, serif" font-size="7.6" dx="1.2">(</tspan><tspan font-family="Liberation Serif, serif" font-size="7.6" font-style="italic" dx="0.9">z</tspan><tspan font-family="Liberation Serif, serif" font-size="7.6" dx="0.8">)</tspan></text>
<rect x="487.2" y="34.35" width="14.4" height="5.1" fill="#006FED" fill-opacity="0.85"/>
<text x="507" y="39.2" font-family="Liberation Sans, sans-serif" font-size="6.95" fill="#1a1a1a" stroke="#1a1a1a" stroke-width="0.22">Flat TT+lowP+lensing+NewBAO+JLA+<tspan dx="1.1" font-family="Liberation Serif, serif" font-size="7.6" font-style="italic">H</tspan><tspan font-family="Liberation Serif, serif" font-size="7.6" dx="1.2">(</tspan><tspan font-family="Liberation Serif, serif" font-size="7.6" font-style="italic" dx="0.9">z</tspan><tspan font-family="Liberation Serif, serif" font-size="7.6" dx="0.8">)</tspan>+<tspan dx="1.2" font-family="Liberation Serif, serif" font-style="italic" font-size="7.6">f</tspan><tspan dx="1.6" font-family="Liberation Serif, serif" font-style="italic" font-size="7.6">σ</tspan><tspan dx="0.6" font-family="Liberation Serif, serif" font-size="5.2" dy="1.4">8</tspan><tspan dy="-1.4"></tspan></text>
</svg>
</body></html>
